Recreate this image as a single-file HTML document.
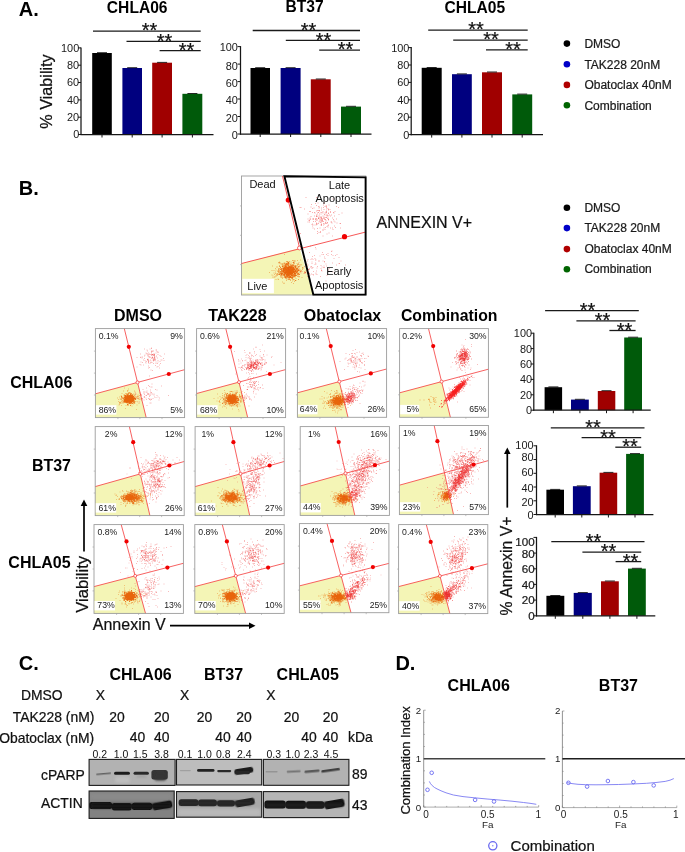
<!DOCTYPE html>
<html><head><meta charset="utf-8"><title>Figure</title>
<style>
html,body{margin:0;padding:0;background:#fff;}
body{width:685px;height:852px;overflow:hidden;font-family:"Liberation Sans",sans-serif;}
svg{display:block;will-change:transform;font-family:"Liberation Sans",sans-serif;}
</style></head><body>
<svg width="685" height="852" viewBox="0 0 685 852">
<rect x="0" y="0" width="685" height="852" fill="#fff"/>
<text x="18.8" y="15.8" font-size="20" font-weight="bold" fill="#000">A.</text>
<text x="137.2" y="13" font-size="15.6" font-weight="bold" text-anchor="middle" fill="#000">CHLA06</text>
<text x="304.6" y="12.2" font-size="15.6" font-weight="bold" text-anchor="middle" fill="#000">BT37</text>
<text x="474.8" y="13.4" font-size="15.6" font-weight="bold" text-anchor="middle" fill="#000">CHLA05</text>
<text x="52.2" y="91.5" font-size="16.2" text-anchor="middle" fill="#111" transform="rotate(-90 52.2 91.5)" stroke="#111" stroke-width="0.22">% Viability</text>
<rect x="92.2" y="53" width="19.6" height="81.5" fill="#000000"/>
<line x1="97" y1="52.7" x2="107" y2="52.7" stroke="#111" stroke-width="0.9"/>
<rect x="122.4" y="68" width="19.6" height="66.5" fill="#00007f"/>
<line x1="127.2" y1="67.7" x2="137.2" y2="67.7" stroke="#111" stroke-width="0.9"/>
<rect x="152.2" y="62.7" width="19.8" height="71.8" fill="#a00000"/>
<line x1="157.1" y1="62.4" x2="167.1" y2="62.4" stroke="#111" stroke-width="0.9"/>
<rect x="182.4" y="93.8" width="19.9" height="40.7" fill="#005a0a"/>
<line x1="187.4" y1="93.5" x2="197.4" y2="93.5" stroke="#111" stroke-width="0.9"/>
<line x1="81" y1="47.4" x2="81" y2="135.1" stroke="#161616" stroke-width="1.25"/>
<line x1="80.4" y1="134.5" x2="213.5" y2="134.5" stroke="#161616" stroke-width="1.25"/>
<line x1="78" y1="134.5" x2="81" y2="134.5" stroke="#161616" stroke-width="1"/>
<text x="79.2" y="138.4" font-size="10.9" text-anchor="end" fill="#1a1a1a">0</text>
<line x1="78" y1="117.2" x2="81" y2="117.2" stroke="#161616" stroke-width="1"/>
<text x="79.2" y="121.1" font-size="10.9" text-anchor="end" fill="#1a1a1a">20</text>
<line x1="78" y1="99.9" x2="81" y2="99.9" stroke="#161616" stroke-width="1"/>
<text x="79.2" y="103.8" font-size="10.9" text-anchor="end" fill="#1a1a1a">40</text>
<line x1="78" y1="82.5" x2="81" y2="82.5" stroke="#161616" stroke-width="1"/>
<text x="79.2" y="86.4" font-size="10.9" text-anchor="end" fill="#1a1a1a">60</text>
<line x1="78" y1="65.2" x2="81" y2="65.2" stroke="#161616" stroke-width="1"/>
<text x="79.2" y="69.1" font-size="10.9" text-anchor="end" fill="#1a1a1a">80</text>
<line x1="78" y1="47.9" x2="81" y2="47.9" stroke="#161616" stroke-width="1"/>
<text x="79.2" y="51.8" font-size="10.9" text-anchor="end" fill="#1a1a1a">100</text>
<line x1="102" y1="134.5" x2="102" y2="137.5" stroke="#161616" stroke-width="1"/>
<line x1="132.2" y1="134.5" x2="132.2" y2="137.5" stroke="#161616" stroke-width="1"/>
<line x1="162.1" y1="134.5" x2="162.1" y2="137.5" stroke="#161616" stroke-width="1"/>
<line x1="192.4" y1="134.5" x2="192.4" y2="137.5" stroke="#161616" stroke-width="1"/>
<line x1="93" y1="31.1" x2="200.7" y2="31.1" stroke="#1a1a1a" stroke-width="1.3"/>
<line x1="126.5" y1="41.4" x2="200.7" y2="41.4" stroke="#1a1a1a" stroke-width="1.3"/>
<line x1="159.6" y1="50.7" x2="200.7" y2="50.7" stroke="#1a1a1a" stroke-width="1.3"/>
<text x="149.5" y="37.3" font-size="20" text-anchor="middle" fill="#111" stroke="#111" stroke-width="0.22">**</text>
<text x="164.5" y="47.6" font-size="20" text-anchor="middle" fill="#111" stroke="#111" stroke-width="0.22">**</text>
<text x="186.5" y="56.9" font-size="20" text-anchor="middle" fill="#111" stroke="#111" stroke-width="0.22">**</text>
<rect x="250.5" y="68" width="19.5" height="66" fill="#000000"/>
<line x1="255.2" y1="67.7" x2="265.2" y2="67.7" stroke="#111" stroke-width="0.9"/>
<rect x="280.6" y="68" width="20" height="66" fill="#00007f"/>
<line x1="285.6" y1="67.7" x2="295.6" y2="67.7" stroke="#111" stroke-width="0.9"/>
<rect x="310.8" y="79.3" width="19.9" height="54.7" fill="#a00000"/>
<line x1="315.8" y1="79" x2="325.8" y2="79" stroke="#111" stroke-width="0.9"/>
<rect x="341" y="106.6" width="20" height="27.4" fill="#005a0a"/>
<line x1="346" y1="106.3" x2="356" y2="106.3" stroke="#111" stroke-width="0.9"/>
<line x1="240.5" y1="46.1" x2="240.5" y2="134.6" stroke="#161616" stroke-width="1.25"/>
<line x1="239.9" y1="134" x2="371.5" y2="134" stroke="#161616" stroke-width="1.25"/>
<line x1="237.5" y1="134" x2="240.5" y2="134" stroke="#161616" stroke-width="1"/>
<text x="237.8" y="138.7" font-size="10.9" text-anchor="end" fill="#1a1a1a">0</text>
<line x1="237.5" y1="116.5" x2="240.5" y2="116.5" stroke="#161616" stroke-width="1"/>
<text x="237.8" y="122.3" font-size="10.9" text-anchor="end" fill="#1a1a1a">20</text>
<line x1="237.5" y1="99" x2="240.5" y2="99" stroke="#161616" stroke-width="1"/>
<text x="237.8" y="104.4" font-size="10.9" text-anchor="end" fill="#1a1a1a">40</text>
<line x1="237.5" y1="81.6" x2="240.5" y2="81.6" stroke="#161616" stroke-width="1"/>
<text x="237.8" y="86.8" font-size="10.9" text-anchor="end" fill="#1a1a1a">60</text>
<line x1="237.5" y1="64.1" x2="240.5" y2="64.1" stroke="#161616" stroke-width="1"/>
<text x="237.8" y="70.1" font-size="10.9" text-anchor="end" fill="#1a1a1a">80</text>
<line x1="237.5" y1="46.6" x2="240.5" y2="46.6" stroke="#161616" stroke-width="1"/>
<text x="237.8" y="51.1" font-size="10.9" text-anchor="end" fill="#1a1a1a">100</text>
<line x1="260.2" y1="134" x2="260.2" y2="137" stroke="#161616" stroke-width="1"/>
<line x1="290.6" y1="134" x2="290.6" y2="137" stroke="#161616" stroke-width="1"/>
<line x1="320.8" y1="134" x2="320.8" y2="137" stroke="#161616" stroke-width="1"/>
<line x1="351" y1="134" x2="351" y2="137" stroke="#161616" stroke-width="1"/>
<line x1="252.7" y1="30.5" x2="360" y2="30.5" stroke="#1a1a1a" stroke-width="1.3"/>
<line x1="285.8" y1="40.4" x2="360" y2="40.4" stroke="#1a1a1a" stroke-width="1.3"/>
<line x1="319.2" y1="50.1" x2="360" y2="50.1" stroke="#1a1a1a" stroke-width="1.3"/>
<text x="308.5" y="36.7" font-size="20" text-anchor="middle" fill="#111" stroke="#111" stroke-width="0.22">**</text>
<text x="323.5" y="46.6" font-size="20" text-anchor="middle" fill="#111" stroke="#111" stroke-width="0.22">**</text>
<text x="345.5" y="56.3" font-size="20" text-anchor="middle" fill="#111" stroke="#111" stroke-width="0.22">**</text>
<rect x="421.7" y="67.8" width="20" height="66.8" fill="#000000"/>
<line x1="426.7" y1="67.5" x2="436.7" y2="67.5" stroke="#111" stroke-width="0.9"/>
<rect x="452" y="74.2" width="19.8" height="60.4" fill="#00007f"/>
<line x1="456.9" y1="73.9" x2="466.9" y2="73.9" stroke="#111" stroke-width="0.9"/>
<rect x="482" y="72.3" width="20" height="62.3" fill="#a00000"/>
<line x1="487" y1="72" x2="497" y2="72" stroke="#111" stroke-width="0.9"/>
<rect x="512.3" y="94.4" width="19.9" height="40.2" fill="#005a0a"/>
<line x1="517.2" y1="94.1" x2="527.2" y2="94.1" stroke="#111" stroke-width="0.9"/>
<line x1="411.2" y1="47.1" x2="411.2" y2="135.2" stroke="#161616" stroke-width="1.25"/>
<line x1="410.6" y1="134.6" x2="543" y2="134.6" stroke="#161616" stroke-width="1.25"/>
<line x1="408.2" y1="134.6" x2="411.2" y2="134.6" stroke="#161616" stroke-width="1"/>
<text x="409.4" y="138.5" font-size="10.9" text-anchor="end" fill="#1a1a1a">0</text>
<line x1="408.2" y1="117.2" x2="411.2" y2="117.2" stroke="#161616" stroke-width="1"/>
<text x="409.4" y="121.1" font-size="10.9" text-anchor="end" fill="#1a1a1a">20</text>
<line x1="408.2" y1="99.8" x2="411.2" y2="99.8" stroke="#161616" stroke-width="1"/>
<text x="409.4" y="103.7" font-size="10.9" text-anchor="end" fill="#1a1a1a">40</text>
<line x1="408.2" y1="82.4" x2="411.2" y2="82.4" stroke="#161616" stroke-width="1"/>
<text x="409.4" y="86.3" font-size="10.9" text-anchor="end" fill="#1a1a1a">60</text>
<line x1="408.2" y1="65" x2="411.2" y2="65" stroke="#161616" stroke-width="1"/>
<text x="409.4" y="68.9" font-size="10.9" text-anchor="end" fill="#1a1a1a">80</text>
<line x1="408.2" y1="47.6" x2="411.2" y2="47.6" stroke="#161616" stroke-width="1"/>
<text x="409.4" y="51.5" font-size="10.9" text-anchor="end" fill="#1a1a1a">100</text>
<line x1="431.7" y1="134.6" x2="431.7" y2="137.6" stroke="#161616" stroke-width="1"/>
<line x1="461.9" y1="134.6" x2="461.9" y2="137.6" stroke="#161616" stroke-width="1"/>
<line x1="492" y1="134.6" x2="492" y2="137.6" stroke="#161616" stroke-width="1"/>
<line x1="522.2" y1="134.6" x2="522.2" y2="137.6" stroke="#161616" stroke-width="1"/>
<line x1="428.2" y1="30.2" x2="527.7" y2="30.2" stroke="#1a1a1a" stroke-width="1.3"/>
<line x1="453.2" y1="40.1" x2="527.7" y2="40.1" stroke="#1a1a1a" stroke-width="1.3"/>
<line x1="486" y1="49.8" x2="527.7" y2="49.8" stroke="#1a1a1a" stroke-width="1.3"/>
<text x="476" y="36.4" font-size="20" text-anchor="middle" fill="#111" stroke="#111" stroke-width="0.22">**</text>
<text x="491" y="46.3" font-size="20" text-anchor="middle" fill="#111" stroke="#111" stroke-width="0.22">**</text>
<text x="513" y="56" font-size="20" text-anchor="middle" fill="#111" stroke="#111" stroke-width="0.22">**</text>
<circle cx="566.9" cy="43.6" r="3.3" fill="#000"/>
<text x="584.4" y="47.8" font-size="12" fill="#1a1a1a" stroke="#1a1a1a" stroke-width="0.22">DMSO</text>
<circle cx="566.9" cy="64.3" r="3.3" fill="#0000c8"/>
<text x="584.4" y="68.5" font-size="12" fill="#1a1a1a" stroke="#1a1a1a" stroke-width="0.22">TAK228 20nM</text>
<circle cx="566.9" cy="84.9" r="3.3" fill="#b00000"/>
<text x="584.4" y="89.1" font-size="12" fill="#1a1a1a" stroke="#1a1a1a" stroke-width="0.22">Obatoclax 40nM</text>
<circle cx="566.9" cy="105.3" r="3.3" fill="#006400"/>
<text x="584.4" y="109.5" font-size="12" fill="#1a1a1a" stroke="#1a1a1a" stroke-width="0.22">Combination</text>
<text x="18.8" y="194.7" font-size="20" font-weight="bold" fill="#000">B.</text>
<text x="376.5" y="227.7" font-size="16" fill="#111" stroke="#111" stroke-width="0.22">ANNEXIN V+</text>
<circle cx="566.9" cy="207.7" r="3.3" fill="#000"/>
<text x="584.4" y="211.9" font-size="12" fill="#1a1a1a" stroke="#1a1a1a" stroke-width="0.22">DMSO</text>
<circle cx="566.9" cy="228.1" r="3.3" fill="#0000c8"/>
<text x="584.4" y="232.3" font-size="12" fill="#1a1a1a" stroke="#1a1a1a" stroke-width="0.22">TAK228 20nM</text>
<circle cx="566.9" cy="249.1" r="3.3" fill="#b00000"/>
<text x="584.4" y="253.3" font-size="12" fill="#1a1a1a" stroke="#1a1a1a" stroke-width="0.22">Obatoclax 40nM</text>
<circle cx="566.9" cy="269.2" r="3.3" fill="#006400"/>
<text x="584.4" y="273.4" font-size="12" fill="#1a1a1a" stroke="#1a1a1a" stroke-width="0.22">Combination</text>
<text x="138" y="321.2" font-size="16" font-weight="bold" text-anchor="middle" fill="#000">DMSO</text>
<text x="237.4" y="321.2" font-size="16" font-weight="bold" text-anchor="middle" fill="#000">TAK228</text>
<text x="342.5" y="321.2" font-size="16" font-weight="bold" text-anchor="middle" fill="#000">Obatoclax</text>
<text x="449.2" y="321.2" font-size="15.8" font-weight="bold" text-anchor="middle" fill="#000">Combination</text>
<text x="72.4" y="387.7" font-size="16" font-weight="bold" text-anchor="end" fill="#000">CHLA06</text>
<text x="71" y="471.3" font-size="16" font-weight="bold" text-anchor="end" fill="#000">BT37</text>
<text x="70.6" y="567.8" font-size="16" font-weight="bold" text-anchor="end" fill="#000">CHLA05</text>
<rect x="95.4" y="328.6" width="89.2" height="89" fill="#fff"/>
<polygon points="95.4,393.8 137.5,382.4 146.2,417.6 95.4,417.6" fill="#f4f5b6"/>
<path transform="scale(.5)" d="M275 790h2M253 796h2M258 802h2M262 796h2M249 801h2M257 794h2M257 794h2M239 798h2M268 797h2M264 802h2M251 799h2M256 811h2M263 796h2M255 796h2M255 791h2M242 798h2M263 803h2M259 793h2M260 798h2M242 803h2M275 797h2M259 794h2M253 805h2M279 799h2M257 801h2M242 806h2M253 806h2M234 796h2M268 794h2M253 800h2M250 797h2M269 784h2M240 807h2M263 798h2M236 803h2M251 790h2M245 807h2M273 794h2M276 797h2M254 788h2M266 797h2M256 796h2M263 797h2M250 801h2M240 798h2M239 805h2M261 795h2M281 791h2M260 798h2M252 803h2M277 807h2M260 804h2M258 785h2M260 801h2M256 809h2M254 798h2M242 794h2M263 800h2M256 794h2M270 803h2M254 798h2M238 808h2M256 802h2M275 793h2M253 802h2M248 805h2M245 794h2M246 795h2M254 781h2M245 805h2M273 794h2M254 783h2M259 785h2M272 796h2M273 803h2M255 797h2M261 801h2M265 790h2M255 788h2M239 804h2M264 802h2M267 798h2M262 807h2M248 791h2M255 795h2M251 805h2M254 811h2M271 798h2M273 810h2M264 794h2M263 800h2M264 797h2M257 787h2M257 800h2M250 805h2M257 797h2M281 797h2M266 808h2M254 789h2M252 787h2M248 793h2M261 789h2M261 808h2M242 800h2M262 792h2M251 794h2M272 819h2M259 794h2M275 793h2M253 800h2M254 803h2M261 800h2M268 791h2M263 790h2M245 802h2M259 798h2M258 786h2M253 806h2M251 804h2M276 796h2M253 796h2M249 800h2M264 793h2M259 788h2M257 800h2M266 788h2M262 801h2M261 788h2M267 797h2M260 797h2M251 811h2M254 790h2M252 788h2M260 793h2M246 790h2M238 794h2M258 801h2M244 804h2M237 810h2M261 793h2M250 817h2M263 812h2M252 797h2M246 782h2M244 797h2M252 799h2M255 781h2M249 799h2M254 797h2M241 792h2M258 803h2M239 805h2M255 794h2M265 800h2M269 793h2M275 792h2M241 799h2M265 802h2M270 794h2M268 782h2M248 802h2M262 787h2M277 799h2M242 811h2M262 798h2M269 789h2M250 787h2M263 806h2M246 798h2M249 802h2M249 805h2M259 798h2M256 796h2M267 791h2M248 776h2M256 787h2M267 797h2M263 797h2M244 801h2M264 797h2M252 799h2M261 804h2M261 792h2M270 796h2M259 786h2M238 805h2M243 798h2M265 802h2M255 809h2M269 806h2M260 798h2M250 804h2M269 788h2M249 801h2M236 799h2M279 786h2M238 808h2M264 793h2M267 803h2M259 795h2M240 805h2M268 807h2M242 792h2M243 787h2M254 797h2M266 804h2M261 795h2M266 794h2M253 802h2M256 778h2" stroke="#ee8a2a" stroke-width="1.4" fill="none" opacity="0.65"/>
<path transform="scale(.5)" d="M254 794h2M250 793h2M259 799h2M254 796h2M252 798h2M256 801h2M250 797h2M257 799h2M254 800h2M256 801h2M254 804h2M262 804h2M257 799h2M260 797h2M260 807h2M253 800h2M260 800h2M259 794h2M259 801h2M255 795h2M255 796h2M261 793h2M268 796h2M253 798h2M260 793h2M256 795h2M261 798h2M260 793h2M263 794h2M243 795h2M254 793h2M252 800h2M257 794h2M254 801h2M254 801h2M261 794h2M267 798h2M243 796h2M256 794h2M259 797h2M257 797h2M256 801h2M251 802h2M253 794h2M261 797h2M263 800h2M258 802h2M253 789h2M258 803h2M256 797h2M260 804h2M258 796h2M254 795h2M258 798h2M252 802h2M262 798h2M263 790h2M252 800h2M260 792h2M252 794h2M263 794h2M262 791h2M256 793h2M262 794h2M255 796h2M254 798h2M255 797h2M257 793h2M256 797h2M258 802h2M254 801h2M261 798h2M263 800h2M255 801h2M250 803h2M261 804h2M263 797h2M257 797h2M251 803h2M259 804h2M265 804h2M248 790h2M260 797h2M256 786h2M253 801h2M260 798h2M251 798h2M259 798h2M264 803h2M258 797h2M253 802h2M249 800h2M251 799h2M248 800h2M265 798h2M256 794h2M252 801h2M251 801h2M252 797h2M256 801h2M251 801h2M266 793h2M254 797h2M253 796h2M259 795h2M265 799h2M264 795h2M255 796h2M259 799h2M258 799h2M260 799h2M259 806h2M253 796h2M251 799h2M258 794h2M251 800h2M264 802h2M258 802h2M252 796h2M256 797h2M255 803h2M257 798h2M262 801h2M250 794h2M248 803h2M259 802h2M257 800h2M258 795h2M260 797h2M256 799h2M261 799h2M253 798h2M258 797h2M253 799h2M252 803h2M260 791h2M260 793h2M248 792h2M252 796h2M259 792h2M263 800h2M254 798h2M256 797h2M250 796h2M270 799h2M260 799h2M262 799h2M261 795h2M262 800h2M260 793h2M256 802h2M261 787h2M258 796h2M264 794h2M254 801h2M255 793h2M261 805h2M264 792h2M258 805h2M254 800h2M257 798h2M255 800h2M267 806h2M262 801h2M264 790h2M259 802h2M255 799h2M263 792h2M266 801h2M260 794h2M257 799h2M263 799h2M256 796h2M261 800h2M254 794h2M253 799h2M260 796h2M259 797h2M267 805h2M256 798h2M258 794h2M252 798h2M248 795h2M248 798h2M260 799h2M252 798h2M263 798h2M265 796h2M256 800h2M266 802h2M259 796h2M263 798h2M256 798h2M262 803h2M253 802h2M261 795h2M255 798h2M257 793h2M261 795h2M258 798h2M257 800h2M261 801h2M261 797h2M250 793h2M260 799h2M261 797h2M254 800h2M259 799h2M251 801h2M265 800h2M256 801h2M257 796h2M263 802h2M257 796h2M260 798h2M252 805h2M255 799h2M250 794h2M256 803h2M263 802h2M259 802h2M262 799h2M252 799h2M253 797h2M255 795h2M260 804h2M259 797h2M257 796h2M261 796h2M257 805h2M257 801h2M264 797h2M254 798h2M258 800h2M265 801h2M258 792h2M261 801h2M254 797h2M267 796h2M246 797h2M252 801h2M252 804h2M265 799h2M259 800h2M256 795h2M251 800h2M259 801h2M258 793h2M254 796h2M250 801h2M252 792h2M258 797h2M259 800h2M258 792h2M257 797h2M249 798h2M258 801h2M252 793h2M258 802h2M260 799h2M254 802h2M252 802h2M262 799h2M259 800h2M254 792h2M242 793h2M257 794h2M261 797h2M263 801h2M254 792h2M254 797h2M255 793h2M262 792h2M252 803h2M257 798h2M253 804h2M259 802h2M250 795h2M259 791h2M255 805h2M256 797h2M260 794h2M263 800h2M249 798h2M262 796h2M260 797h2M256 799h2M264 798h2M258 801h2M264 797h2M254 797h2M253 800h2M264 799h2M268 802h2M261 797h2M262 798h2M255 794h2M251 803h2M256 793h2M265 799h2M248 795h2M255 799h2M248 801h2M258 792h2M262 797h2M251 792h2M255 803h2M264 796h2M257 792h2M251 795h2M251 803h2M247 803h2M261 803h2M254 795h2M263 797h2M262 804h2M254 795h2M255 797h2M261 795h2M258 794h2M259 802h2M249 800h2M262 800h2M253 800h2M246 802h2M254 803h2M260 798h2M268 797h2M256 794h2M251 802h2M268 796h2M258 793h2M256 797h2M252 798h2M252 801h2M265 802h2M256 795h2M255 795h2M255 797h2M265 794h2M254 798h2M261 800h2M259 798h2M259 792h2M253 794h2M261 803h2M265 794h2M257 801h2M253 800h2M251 797h2M258 794h2M256 799h2M257 795h2M257 797h2M250 798h2M261 795h2M259 797h2M257 797h2M259 794h2M262 797h2M258 796h2M253 791h2M263 797h2M255 797h2M254 796h2M250 791h2M257 801h2M252 800h2M255 800h2M260 799h2M258 793h2M262 798h2M259 795h2M255 806h2M256 796h2M255 800h2M261 792h2M258 794h2M255 796h2M262 801h2M258 800h2M255 799h2M250 791h2M260 802h2M259 795h2M258 804h2M255 805h2M253 801h2M256 802h2M259 793h2M257 807h2M257 799h2M255 802h2M259 795h2M259 798h2M254 794h2M261 797h2M261 798h2M261 799h2M257 803h2M256 800h2M252 799h2M261 798h2M247 805h2M255 796h2M256 802h2M262 791h2M257 795h2M253 799h2M250 797h2M254 809h2M258 807h2M258 793h2M256 794h2M254 797h2M256 804h2M262 802h2M252 799h2M258 793h2M265 795h2M260 788h2M255 792h2M261 800h2M254 801h2M257 793h2M265 798h2M267 804h2M249 799h2M261 797h2M267 800h2M255 800h2M259 798h2M265 796h2M255 796h2M260 798h2M257 796h2M248 803h2M259 801h2M256 802h2M262 805h2M268 804h2M261 803h2M256 799h2M260 797h2M258 806h2M263 796h2M250 796h2M252 795h2M247 799h2M260 800h2M257 802h2M254 797h2M254 792h2M255 799h2M253 802h2M256 798h2M255 798h2M264 800h2M259 803h2M253 798h2M254 793h2M263 796h2M260 797h2M259 792h2M261 801h2M265 795h2M251 800h2M254 799h2M249 797h2M260 804h2M256 796h2M254 796h2M254 799h2M261 801h2M257 798h2M255 794h2M264 800h2M252 800h2M251 805h2M270 797h2M256 799h2M255 796h2M254 793h2M257 798h2M261 801h2M261 794h2M260 796h2M256 794h2M250 803h2M259 796h2M265 800h2M263 795h2M257 798h2M261 796h2M255 790h2M257 798h2M251 800h2M256 790h2M258 797h2M257 796h2M261 794h2M267 797h2M264 791h2M256 799h2M254 802h2M254 793h2M253 798h2M258 803h2M260 798h2M258 796h2M258 795h2M258 799h2M257 798h2M254 800h2M266 793h2M263 802h2M253 797h2M253 800h2M254 795h2M258 793h2M264 796h2M262 795h2M263 797h2M263 800h2M263 802h2M261 799h2M260 796h2M257 796h2M249 800h2M257 802h2M266 797h2M255 798h2M254 795h2M262 799h2M258 801h2M255 788h2M265 799h2M261 796h2M261 790h2M255 799h2M260 798h2M259 799h2M261 793h2M263 806h2M263 798h2M258 797h2M261 803h2M252 800h2M261 801h2M261 802h2M255 791h2M254 804h2M257 797h2M251 799h2M259 801h2M259 795h2M253 799h2M258 801h2M263 798h2M263 800h2M262 792h2M257 794h2M256 794h2M255 799h2M260 811h2M269 799h2M264 797h2M265 798h2M264 802h2M249 801h2M256 794h2M255 802h2M264 798h2M266 801h2M254 791h2M258 792h2M260 800h2M255 792h2M254 799h2M254 799h2M262 799h2M253 799h2M263 799h2M258 800h2M261 797h2M265 798h2M254 809h2M253 802h2M260 800h2M252 799h2M254 795h2M257 799h2M258 797h2M251 801h2M255 795h2M260 789h2M264 796h2M248 801h2M264 807h2M262 802h2" stroke="#e8650c" stroke-width="1.6" fill="none" opacity="0.95"/>
<path transform="scale(.5)" d="M293 707h2M302 716h2M293 708h2M302 704h2M294 720h2M286 730h2M309 720h2M306 718h2M302 706h2M308 716h2M327 721h2M305 710h2M300 726h2M314 716h2M286 720h2M312 712h2M295 712h2M295 719h2M305 720h2M323 720h2M296 706h2M315 709h2M308 716h2M288 698h2M314 727h2M295 720h2M288 717h2M295 709h2M296 725h2M311 714h2M296 736h2M321 720h2M306 702h2M296 724h2M295 711h2M307 711h2M281 714h2M280 715h2M294 719h2M311 724h2M306 721h2M304 709h2M302 703h2M280 708h2M300 720h2M284 725h2M313 734h2M304 703h2M303 717h2M308 714h2M308 712h2M307 718h2M308 714h2M297 714h2M289 710h2M308 720h2M320 727h2M315 733h2M302 711h2M311 706h2M299 714h2M308 708h2M297 727h2M306 708h2M326 717h2M313 703h2M321 713h2M295 718h2M296 732h2M304 709h2M310 720h2M302 696h2M315 704h2M298 708h2M319 711h2M315 721h2M292 723h2M311 700h2M301 722h2M315 705h2M298 735h2M307 720h2M310 718h2M273 715h2M283 716h2M305 716h2M303 709h2M315 724h2M307 719h2M290 724h2M308 716h2M296 723h2M301 709h2M298 752h2M308 709h2M288 712h2M291 726h2M279 729h2M328 708h2M293 700h2M294 702h2M291 706h2M297 709h2M299 715h2M311 727h2M306 727h2M308 710h2M297 722h2M303 725h2M318 730h2M304 715h2M307 709h2M281 724h2M310 731h2M307 711h2M318 736h2M273 734h2M304 714h2M303 701h2M305 710h2M297 713h2M306 722h2M312 700h2M304 741h2M301 740h2M301 709h2M299 698h2M304 715h2M296 721h2M281 730h2M319 723h2M284 714h2M302 697h2M289 721h2M301 725h2" stroke="#ee3030" stroke-width="1.3" fill="none" opacity="0.5"/>
<path transform="scale(.5)" d="M295 789h2M300 784h2M301 786h2M295 787h2M292 799h2M304 788h2M282 790h2M313 780h2M288 789h2M300 780h2M292 791h2M308 794h2M299 791h2M311 795h2M301 806h2M284 798h2M293 785h2M291 784h2M287 800h2M298 799h2M293 811h2M292 776h2M301 798h2M305 797h2M336 791h2M301 788h2M302 785h2M296 771h2M293 782h2M287 783h2M301 774h2M303 774h2M264 794h2M297 788h2M298 793h2M298 798h2M310 779h2M300 800h2M313 791h2M285 779h2M294 788h2M298 773h2M287 785h2M299 790h2M288 794h2M299 806h2M317 800h2M307 788h2M288 794h2M287 794h2M322 772h2M296 797h2M287 787h2M307 790h2M291 791h2M302 799h2M315 794h2M318 796h2M296 788h2M303 768h2" stroke="#ee3030" stroke-width="1.3" fill="none" opacity="0.5"/>
<path transform="scale(.5)" d="M270 786h2M278 804h2M271 788h2M270 790h2M278 796h2M274 797h2M284 797h2M291 796h2M278 791h2M282 800h2M270 797h2M281 789h2M275 804h2M273 794h2" stroke="#ee3030" stroke-width="1.3" fill="none" opacity="0.5"/>
<line x1="124.3" y1="328.6" x2="146.2" y2="417.6" stroke="#f54545" stroke-width="0.85"/>
<line x1="95.4" y1="393.8" x2="184.6" y2="369.7" stroke="#f54545" stroke-width="0.85"/>
<circle cx="128.8" cy="346.8" r="2.1" fill="#f00000"/>
<circle cx="168.8" cy="374" r="2.1" fill="#f00000"/>
<circle cx="137.5" cy="382.4" r="1.5" fill="#fff" stroke="#f54545" stroke-width="0.8"/>
<line x1="93.9" y1="351.1" x2="95.4" y2="351.1" stroke="#aaa" stroke-width="0.7"/>
<line x1="117.9" y1="417.6" x2="117.9" y2="419.1" stroke="#aaa" stroke-width="0.7"/>
<line x1="93.9" y1="373.1" x2="95.4" y2="373.1" stroke="#aaa" stroke-width="0.7"/>
<line x1="139.9" y1="417.6" x2="139.9" y2="419.1" stroke="#aaa" stroke-width="0.7"/>
<line x1="93.9" y1="395" x2="95.4" y2="395" stroke="#aaa" stroke-width="0.7"/>
<line x1="162" y1="417.6" x2="162" y2="419.1" stroke="#aaa" stroke-width="0.7"/>
<rect x="95.4" y="328.6" width="89.2" height="89" fill="none" stroke="#9c9c9c" stroke-width="0.9"/>
<text x="98.7" y="338.6" font-size="8.7" fill="#222">0.1%</text>
<text x="182.8" y="338.6" font-size="8.7" text-anchor="end" fill="#222">9%</text>
<rect x="96" y="405.2" width="20.4" height="9.4" fill="#fff"/>
<text x="98.7" y="412.5" font-size="8.7" fill="#222">86%</text>
<text x="182.8" y="412.5" font-size="8.7" text-anchor="end" fill="#222">5%</text>
<rect x="196.6" y="328.6" width="89" height="89" fill="#fff"/>
<polygon points="196.6,393.5 239,382.1 247.7,417.6 196.6,417.6" fill="#f4f5b6"/>
<path transform="scale(.5)" d="M473 808h2M445 796h2M449 799h2M456 796h2M454 801h2M474 814h2M444 791h2M464 789h2M451 806h2M468 799h2M465 783h2M456 790h2M488 792h2M462 794h2M475 802h2M447 807h2M461 798h2M463 800h2M464 793h2M458 808h2M453 810h2M427 797h2M456 793h2M452 816h2M459 807h2M472 792h2M488 785h2M469 797h2M474 809h2M470 794h2M471 797h2M469 795h2M459 805h2M459 811h2M466 789h2M483 797h2M472 797h2M481 794h2M448 789h2M466 806h2M467 800h2M469 805h2M447 812h2M441 796h2M438 804h2M458 796h2M490 798h2M465 802h2M449 798h2M467 786h2M459 812h2M465 800h2M457 790h2M448 781h2M457 799h2M471 805h2M466 808h2M477 809h2M450 796h2M475 805h2M464 786h2M465 800h2M477 807h2M461 794h2M466 798h2M470 800h2M470 800h2M472 812h2M478 790h2M469 810h2M458 789h2M491 794h2M463 793h2M468 798h2M454 795h2M438 803h2M454 799h2M464 818h2M469 802h2M464 797h2M472 802h2M475 804h2M475 798h2M463 790h2M464 792h2M461 801h2M453 806h2M480 803h2M449 798h2M462 804h2M466 795h2M438 801h2M472 811h2M459 809h2M466 811h2M459 796h2M445 801h2M466 791h2M465 807h2M475 796h2M469 788h2M444 795h2M476 801h2M473 781h2M472 787h2M469 807h2M455 800h2M469 799h2M459 786h2M497 812h2M461 808h2M450 805h2M459 790h2M480 804h2M457 809h2M435 796h2M480 797h2M467 795h2M458 804h2M472 797h2M453 796h2M450 787h2M474 785h2M457 807h2M469 812h2M463 806h2M473 811h2M465 795h2M440 799h2M471 802h2M458 798h2M474 813h2M465 788h2M480 794h2M460 796h2M439 793h2M460 806h2M469 782h2M459 809h2M458 807h2M480 802h2M462 811h2M476 819h2M465 801h2M447 805h2M452 802h2M460 803h2M467 795h2M454 793h2M447 804h2M451 795h2M457 807h2M453 806h2M456 795h2M485 802h2M467 800h2M454 798h2M463 809h2M482 800h2M471 801h2M462 783h2M448 804h2M444 787h2M459 796h2M462 813h2M444 814h2M448 796h2M463 789h2M437 803h2M443 796h2M463 802h2M470 788h2M467 809h2M475 812h2M482 787h2M474 793h2M460 793h2M488 805h2M483 783h2M474 801h2M454 797h2M468 793h2M439 805h2M459 783h2M434 788h2M458 793h2M475 805h2M464 796h2M482 792h2M463 803h2M465 795h2M460 794h2M470 797h2M463 802h2M477 822h2M482 790h2M468 802h2M450 798h2M470 797h2M479 812h2M471 806h2M467 805h2M474 796h2M479 792h2M433 802h2M481 797h2M472 795h2M469 805h2M457 789h2M466 793h2M471 806h2M446 799h2M472 805h2M464 792h2M481 805h2M471 794h2M461 811h2M464 806h2M471 803h2M465 812h2M470 802h2M455 794h2M449 813h2M457 802h2M447 810h2M454 801h2M468 809h2M445 792h2M449 789h2M472 788h2M457 806h2M463 783h2M449 785h2M451 788h2M460 802h2M482 803h2M469 793h2M444 806h2M469 802h2M474 810h2M472 808h2M449 794h2M463 801h2M488 798h2M453 804h2M467 801h2M455 800h2M449 806h2M458 800h2M475 806h2M477 800h2M453 798h2M458 807h2M453 808h2M439 810h2M471 805h2M482 798h2M481 801h2M458 801h2M479 785h2" stroke="#ee8a2a" stroke-width="1.4" fill="none" opacity="0.65"/>
<path transform="scale(.5)" d="M457 801h2M473 797h2M464 801h2M447 804h2M463 791h2M465 797h2M457 799h2M478 790h2M471 785h2M469 800h2M463 796h2M467 802h2M469 798h2M467 798h2M460 797h2M465 799h2M465 794h2M466 796h2M458 802h2M466 797h2M464 801h2M466 798h2M465 797h2M456 794h2M469 802h2M469 795h2M456 800h2M464 792h2M459 800h2M461 800h2M470 796h2M467 791h2M476 798h2M465 799h2M457 796h2M465 795h2M449 802h2M475 798h2M466 797h2M467 802h2M465 798h2M459 795h2M463 802h2M459 797h2M461 802h2M466 795h2M457 800h2M474 804h2M457 800h2M469 801h2M460 800h2M456 802h2M466 799h2M465 800h2M462 797h2M463 807h2M460 795h2M466 802h2M461 794h2M464 801h2M470 804h2M456 794h2M460 806h2M459 794h2M459 795h2M455 800h2M462 794h2M464 803h2M463 800h2M454 787h2M467 792h2M468 795h2M464 800h2M457 794h2M458 795h2M475 801h2M474 794h2M466 800h2M458 792h2M471 803h2M464 805h2M473 793h2M460 788h2M466 791h2M462 802h2M468 796h2M459 803h2M469 792h2M461 794h2M458 798h2M467 803h2M465 797h2M451 794h2M463 800h2M464 799h2M464 800h2M475 798h2M459 796h2M463 798h2M453 788h2M455 799h2M460 804h2M462 801h2M462 794h2M467 792h2M468 804h2M469 796h2M462 797h2M466 799h2M459 796h2M465 798h2M466 805h2M460 796h2M444 807h2M459 800h2M479 800h2M463 802h2M459 802h2M464 803h2M470 801h2M465 796h2M462 805h2M456 798h2M461 795h2M456 802h2M465 801h2M472 798h2M469 799h2M460 801h2M457 807h2M455 798h2M466 793h2M467 796h2M468 801h2M465 797h2M456 795h2M452 801h2M470 801h2M458 797h2M475 800h2M451 796h2M457 796h2M458 797h2M465 792h2M467 800h2M460 798h2M467 796h2M455 799h2M460 799h2M456 795h2M460 796h2M459 795h2M465 804h2M484 791h2M455 798h2M462 802h2M467 793h2M463 794h2M472 794h2M457 790h2M468 803h2M458 797h2M468 793h2M464 795h2M465 799h2M460 796h2M452 794h2M456 800h2M467 794h2M461 796h2M467 799h2M455 795h2M467 798h2M469 795h2M450 809h2M465 796h2M475 801h2M459 794h2M469 793h2M463 797h2M468 796h2M461 796h2M458 798h2M461 801h2M461 806h2M460 806h2M458 798h2M470 806h2M460 805h2M456 795h2M457 795h2M466 797h2M450 806h2M466 797h2M467 796h2M471 804h2M460 797h2M458 797h2M464 800h2M464 798h2M471 787h2M463 792h2M461 801h2M455 791h2M462 803h2M464 797h2M470 799h2M464 799h2M471 790h2M471 794h2M459 793h2M456 798h2M459 804h2M462 796h2M458 798h2M467 789h2M467 796h2M470 796h2M465 797h2M461 800h2M466 804h2M458 797h2M464 799h2M459 791h2M470 800h2M447 798h2M468 790h2M468 799h2M463 795h2M465 802h2M464 799h2M471 798h2M473 805h2M463 797h2M473 796h2M459 798h2M466 798h2M466 794h2M456 800h2M465 799h2M459 795h2M468 791h2M458 803h2M453 803h2M455 802h2M463 802h2M465 806h2M465 799h2M459 805h2M468 797h2M460 794h2M462 798h2M469 797h2M462 800h2M452 806h2M467 800h2M463 803h2M461 807h2M471 806h2M459 798h2M467 795h2M464 807h2M479 793h2M452 790h2M464 789h2M465 803h2M470 792h2M461 797h2M459 798h2M472 804h2M461 792h2M465 798h2M463 799h2M465 804h2M455 797h2M460 799h2M463 797h2M464 803h2M470 802h2M466 796h2M467 801h2M463 792h2M471 798h2M460 794h2M463 796h2M454 803h2M457 808h2M468 799h2M463 798h2M452 797h2M463 801h2M462 797h2M456 803h2M465 805h2M462 801h2M463 797h2M469 802h2M459 795h2M470 791h2M462 803h2M462 807h2M471 804h2M465 797h2M461 783h2M462 795h2M464 801h2M454 796h2M467 804h2M463 795h2M455 800h2M457 799h2M468 799h2M456 792h2M476 798h2M457 799h2M464 796h2M448 792h2M463 796h2M460 794h2M466 800h2M464 802h2M461 800h2M476 800h2M468 797h2M459 799h2M465 790h2M446 798h2M460 802h2M470 796h2M460 801h2M464 791h2M456 798h2M468 797h2M464 800h2M463 799h2M469 808h2M473 784h2M468 792h2M453 795h2M465 798h2M465 795h2M456 795h2M453 791h2M460 792h2M461 794h2M462 805h2M458 794h2M464 810h2M465 803h2M461 797h2M465 802h2M459 803h2M453 793h2M463 791h2M468 805h2M479 794h2M450 802h2M460 801h2M458 791h2M464 801h2M458 801h2M464 804h2M469 798h2M458 800h2M462 800h2M473 797h2M468 805h2M453 802h2M475 805h2M459 800h2M465 803h2M460 794h2M460 795h2M459 803h2M467 797h2M458 796h2M455 799h2M459 791h2M463 799h2M451 800h2M468 797h2M459 793h2M467 806h2M471 800h2M465 794h2M466 795h2M460 791h2M459 790h2M452 790h2M462 794h2M460 800h2M449 801h2M465 798h2M472 803h2M465 801h2M470 793h2M461 794h2M457 799h2M463 801h2M461 803h2M456 792h2M469 789h2M464 807h2M459 797h2M464 803h2M462 798h2M467 792h2M473 804h2M459 800h2M456 805h2M471 801h2M477 794h2M459 798h2M458 803h2M456 795h2M463 799h2M464 803h2M461 793h2M468 797h2M458 799h2M459 802h2M455 798h2M471 795h2M469 801h2M471 796h2M458 800h2M471 800h2M465 797h2M467 802h2M467 803h2M461 792h2M462 801h2M454 798h2M460 797h2M462 799h2M456 803h2M464 798h2M471 797h2M460 793h2M457 798h2M458 798h2M464 794h2M474 797h2M464 800h2M463 804h2M456 797h2M465 807h2M467 803h2M461 802h2M463 801h2M459 799h2M467 796h2M471 798h2M465 799h2M466 799h2M463 805h2M459 807h2M458 801h2M461 803h2M464 795h2M463 790h2M469 798h2M468 800h2M472 805h2M468 809h2M462 800h2M464 804h2M453 803h2M473 800h2M460 802h2M461 800h2M474 805h2M457 794h2M459 788h2M463 799h2M460 803h2M464 803h2M465 796h2M467 801h2M462 796h2" stroke="#e8650c" stroke-width="1.6" fill="none" opacity="0.92"/>
<path transform="scale(.5)" d="M514 730h2M502 743h2M496 736h2M516 726h2M498 748h2M492 737h2M514 725h2M509 735h2M482 735h2M518 725h2M496 740h2M501 730h2M503 724h2M528 728h2M508 735h2M514 722h2M505 730h2M514 734h2M493 737h2M508 735h2M500 733h2M495 731h2M509 727h2M517 726h2M512 730h2M499 720h2M511 720h2M495 735h2M511 733h2M511 726h2M506 731h2M503 727h2M506 724h2M501 734h2M504 732h2M514 726h2M485 731h2M520 727h2M511 729h2M509 729h2M496 734h2M502 731h2M501 736h2M514 731h2M516 737h2M521 734h2M507 731h2M484 732h2M498 737h2M502 730h2M512 737h2M489 729h2M504 730h2M509 738h2M500 733h2M506 735h2M531 727h2M506 729h2M528 728h2M508 726h2M499 732h2M515 739h2M502 732h2M506 733h2M482 734h2M512 736h2M499 729h2M517 724h2M506 728h2M501 728h2M493 728h2M506 730h2M502 730h2M498 733h2M524 720h2M503 727h2M515 727h2M521 726h2M509 725h2M512 729h2M511 728h2M517 733h2M513 732h2M512 732h2M509 735h2M500 730h2M504 739h2M500 734h2M507 728h2M520 729h2M495 729h2M503 741h2M496 735h2M503 724h2M515 722h2M502 730h2M508 727h2M483 741h2M506 736h2M512 734h2M501 736h2M488 732h2M512 735h2M507 737h2M522 716h2M499 730h2M504 730h2M501 729h2M509 736h2M488 739h2M520 727h2M511 723h2M501 722h2M501 728h2M510 725h2M508 726h2M499 723h2M502 724h2M509 728h2M502 734h2M502 730h2M501 731h2M502 732h2M493 735h2M498 740h2M509 726h2M514 729h2M503 725h2M471 748h2M492 739h2M512 734h2M523 726h2M518 726h2M502 726h2M503 734h2M504 739h2M519 712h2M511 738h2M495 730h2M516 730h2M513 724h2M485 737h2M501 737h2M516 727h2M518 736h2M494 735h2M507 734h2M514 725h2M509 727h2M495 733h2M505 734h2M515 736h2M511 729h2M494 728h2M529 720h2M506 724h2M492 738h2M503 732h2M477 735h2M499 732h2M507 735h2M531 725h2M507 728h2M511 733h2M515 730h2M508 728h2M500 734h2M523 735h2M510 724h2M523 731h2M516 727h2M498 737h2M502 734h2M503 734h2M502 731h2M511 729h2M506 735h2M499 736h2M519 719h2M521 729h2M509 737h2M497 738h2M500 734h2M496 725h2M498 737h2M498 737h2M511 737h2M508 725h2M510 728h2M496 731h2" stroke="#ee3030" stroke-width="1.3" fill="none" opacity="0.6"/>
<path transform="scale(.5)" d="M500 741h2M477 728h2M497 727h2M497 715h2M498 705h2M529 729h2M494 725h2M497 730h2M521 740h2M495 738h2M523 716h2M511 730h2M494 731h2M493 724h2M506 698h2M501 717h2M505 726h2M495 737h2M513 723h2M493 709h2M496 745h2M501 726h2M484 721h2M499 734h2M501 736h2M481 726h2M476 719h2M523 719h2M500 737h2M501 725h2M494 733h2M528 702h2M500 720h2M476 722h2M511 721h2M488 701h2M510 721h2M502 747h2M524 731h2M511 720h2M498 717h2M526 709h2M547 730h2M495 716h2M521 721h2M510 738h2M511 739h2M484 735h2M489 705h2M526 719h2M506 742h2M496 711h2M532 743h2M523 726h2M516 739h2M489 721h2M504 711h2M527 713h2M472 745h2M479 722h2M491 711h2M519 737h2M508 706h2M511 724h2M507 731h2M506 730h2M523 732h2M561 725h2M511 694h2M525 730h2M497 726h2M529 724h2M506 733h2M507 736h2M497 729h2M492 746h2M496 755h2M489 730h2M484 722h2M533 710h2M511 734h2M520 703h2M512 748h2M482 739h2M505 720h2M490 735h2M491 715h2M502 712h2M507 736h2M506 713h2M506 730h2M500 725h2M505 747h2M524 730h2M539 747h2M522 738h2M501 716h2M510 711h2M519 699h2M520 727h2M524 690h2M524 716h2M511 695h2M500 718h2M480 736h2M521 715h2M514 719h2M491 720h2M504 730h2M498 707h2M497 728h2M532 725h2M498 713h2M543 713h2M502 742h2M493 736h2M506 732h2M542 715h2M502 722h2M512 709h2M468 703h2M513 720h2M482 718h2M502 710h2M526 710h2M500 731h2M515 720h2M500 706h2M499 753h2M508 703h2" stroke="#ee3030" stroke-width="1.3" fill="none" opacity="0.45"/>
<path transform="scale(.5)" d="M500 762h2M492 767h2M512 771h2M495 757h2M508 763h2M509 776h2M495 767h2M512 763h2M505 771h2M509 777h2M498 764h2M502 775h2M508 770h2M516 764h2M506 755h2M510 773h2M505 763h2M509 767h2M498 769h2M525 777h2M508 771h2M508 794h2M506 765h2M499 774h2M516 780h2M508 766h2M507 776h2M514 778h2M511 763h2M495 774h2M494 779h2M511 779h2M507 776h2M524 770h2M510 765h2M506 766h2M499 765h2M494 779h2M495 774h2M504 772h2M502 765h2M500 769h2M505 769h2M515 775h2M500 773h2M500 770h2M506 783h2M520 775h2M493 779h2M508 767h2M500 757h2M486 771h2M503 774h2M519 776h2M511 788h2M507 780h2M503 769h2M516 769h2M501 760h2M502 774h2" stroke="#ee3030" stroke-width="1.3" fill="none" opacity="0.55"/>
<path transform="scale(.5)" d="M482 794h2M489 794h2M498 794h2M502 800h2M491 790h2M492 788h2M479 795h2M485 794h2M499 798h2M496 794h2M494 792h2M492 797h2M499 798h2M488 801h2M488 796h2M506 786h2M484 795h2M492 796h2M487 795h2M498 798h2" stroke="#ee3030" stroke-width="1.3" fill="none" opacity="0.5"/>
<line x1="225.8" y1="328.6" x2="247.7" y2="417.6" stroke="#f54545" stroke-width="0.85"/>
<line x1="196.6" y1="393.5" x2="285.6" y2="369.6" stroke="#f54545" stroke-width="0.85"/>
<circle cx="230.1" cy="346.8" r="2.1" fill="#f00000"/>
<circle cx="269.9" cy="374" r="2.1" fill="#f00000"/>
<circle cx="239" cy="382.1" r="1.5" fill="#fff" stroke="#f54545" stroke-width="0.8"/>
<line x1="195.1" y1="351.1" x2="196.6" y2="351.1" stroke="#aaa" stroke-width="0.7"/>
<line x1="219.1" y1="417.6" x2="219.1" y2="419.1" stroke="#aaa" stroke-width="0.7"/>
<line x1="195.1" y1="373.1" x2="196.6" y2="373.1" stroke="#aaa" stroke-width="0.7"/>
<line x1="241.1" y1="417.6" x2="241.1" y2="419.1" stroke="#aaa" stroke-width="0.7"/>
<line x1="195.1" y1="395" x2="196.6" y2="395" stroke="#aaa" stroke-width="0.7"/>
<line x1="263" y1="417.6" x2="263" y2="419.1" stroke="#aaa" stroke-width="0.7"/>
<rect x="196.6" y="328.6" width="89" height="89" fill="none" stroke="#9c9c9c" stroke-width="0.9"/>
<text x="199.9" y="338.6" font-size="8.7" fill="#222">0.6%</text>
<text x="283.8" y="338.6" font-size="8.7" text-anchor="end" fill="#222">21%</text>
<rect x="197.2" y="405.2" width="20.4" height="9.4" fill="#fff"/>
<text x="199.9" y="412.5" font-size="8.7" fill="#222">68%</text>
<text x="283.8" y="412.5" font-size="8.7" text-anchor="end" fill="#222">10%</text>
<rect x="297.4" y="328.6" width="89.2" height="88.7" fill="#fff"/>
<polygon points="297.4,392.8 339.3,381.6 348,417.3 297.4,417.3" fill="#f4f5b6"/>
<path transform="scale(.5)" d="M669 820h2M684 793h2M669 810h2M687 798h2M660 799h2M646 816h2M661 801h2M703 808h2M669 803h2M671 795h2M675 800h2M667 798h2M675 800h2M673 817h2M695 806h2M685 788h2M675 817h2M680 805h2M679 809h2M660 814h2M684 795h2M665 805h2M681 801h2M674 799h2M682 800h2M688 803h2M679 811h2M667 808h2M669 804h2M678 812h2M668 783h2M668 802h2M671 805h2M668 805h2M678 813h2M667 803h2M673 813h2M664 801h2M653 808h2M681 803h2M683 800h2M667 806h2M681 807h2M676 795h2M660 810h2M685 800h2M650 803h2M672 781h2M680 802h2M660 787h2M690 809h2M666 796h2M686 799h2M670 801h2M680 791h2M672 802h2M699 792h2M677 800h2M684 809h2M680 812h2M675 814h2M670 800h2M677 794h2M684 806h2M683 815h2M679 795h2M671 813h2M681 801h2M662 781h2M673 803h2M650 817h2M665 808h2M671 811h2M657 805h2M660 789h2M683 783h2M679 794h2M685 799h2M686 794h2M680 796h2M682 808h2M676 814h2M687 788h2M656 794h2M671 801h2M685 800h2M682 783h2M674 826h2M670 808h2M682 805h2M671 787h2M661 804h2M686 793h2M669 806h2M675 804h2M655 802h2M645 806h2M678 797h2M691 803h2M648 783h2M668 808h2M679 801h2M675 822h2M674 803h2M673 783h2M663 814h2M685 796h2M684 793h2M677 802h2M648 812h2M692 818h2M673 799h2M679 804h2M694 804h2M688 797h2M672 798h2M685 801h2M680 802h2M667 811h2M675 786h2M654 806h2M656 805h2M675 813h2M689 799h2M662 799h2M686 803h2M675 797h2M693 797h2M669 797h2M706 797h2M678 794h2M671 797h2M676 796h2M653 796h2M677 791h2M670 810h2M679 804h2M670 801h2M643 793h2M645 807h2M666 800h2M659 801h2M683 803h2M661 801h2M678 810h2M671 796h2M690 797h2M674 803h2M675 800h2M662 806h2M677 809h2M680 813h2M672 810h2M681 800h2M662 801h2M671 799h2M678 811h2M670 800h2M687 795h2M680 794h2M666 808h2M663 795h2M673 781h2M665 808h2M669 805h2M661 808h2M682 810h2M675 806h2M676 805h2M682 802h2M648 796h2M673 785h2M670 786h2M681 805h2M679 808h2M679 802h2M687 796h2M652 807h2M661 802h2M686 802h2M689 799h2M664 793h2M685 794h2M683 805h2M658 815h2M666 816h2M677 801h2M672 806h2M693 801h2M680 803h2M683 805h2M666 809h2M660 793h2M666 816h2M689 801h2M693 794h2M664 821h2M672 795h2M646 802h2M687 796h2M659 812h2M683 781h2M687 805h2M658 789h2M663 815h2M681 819h2M688 809h2M667 796h2M662 811h2M677 820h2M687 804h2M661 799h2M664 814h2M686 791h2M675 800h2M664 802h2M673 803h2M678 811h2M684 801h2M676 793h2M673 791h2M654 801h2M679 806h2M679 810h2M675 807h2M673 791h2M674 807h2M684 797h2M669 813h2M660 800h2M683 800h2M669 798h2M670 810h2M678 801h2M670 824h2M672 811h2M661 793h2M687 802h2M658 810h2M687 808h2M659 807h2M665 804h2M668 790h2M683 790h2M675 809h2M668 797h2M659 802h2M684 807h2M673 787h2M678 787h2M671 806h2M667 797h2M680 799h2M676 811h2M685 800h2M675 802h2M657 804h2M681 788h2M673 816h2M670 805h2M639 798h2M663 811h2M675 795h2M666 797h2M676 792h2M680 800h2M673 796h2M663 804h2M678 797h2M677 804h2M670 806h2M652 805h2M659 805h2M682 803h2M670 795h2M653 786h2M671 805h2M673 791h2M680 805h2M678 802h2M677 802h2M664 802h2M654 807h2M666 794h2M688 805h2M656 811h2M683 808h2M656 811h2M658 800h2M674 801h2M664 817h2M670 806h2M660 804h2M674 810h2M682 795h2M657 801h2M679 806h2M677 802h2M681 814h2M648 806h2M683 809h2M660 795h2M670 802h2M668 802h2M661 806h2M663 806h2M665 802h2M674 807h2M681 819h2M669 802h2M681 797h2M674 812h2M685 814h2M658 804h2M674 810h2M672 786h2M674 806h2M676 801h2M681 820h2M674 804h2M678 817h2M669 801h2M671 800h2M666 798h2M684 793h2M681 798h2M687 811h2M667 790h2M671 803h2M700 811h2M684 804h2M657 806h2M681 805h2M676 806h2M669 787h2M669 814h2M663 805h2M667 798h2M664 800h2M660 801h2M668 808h2M663 793h2M680 792h2M684 792h2M671 809h2M669 795h2M679 803h2M671 793h2M695 802h2M643 798h2M647 796h2M660 811h2M678 803h2M681 795h2M667 821h2M673 795h2M669 793h2M678 789h2M695 815h2M648 804h2M697 805h2M684 811h2M669 803h2M678 808h2M672 816h2M678 804h2M678 809h2M681 804h2M662 804h2M679 814h2M665 807h2M669 805h2M681 787h2M668 795h2M676 797h2M676 802h2M674 805h2M659 804h2M678 801h2M675 805h2" stroke="#ee8a2a" stroke-width="1.4" fill="none" opacity="0.65"/>
<path transform="scale(.5)" d="M677 802h2M681 802h2M665 810h2M681 801h2M687 804h2M682 799h2M673 797h2M670 801h2M675 801h2M683 804h2M677 807h2M663 800h2M656 806h2M676 797h2M689 809h2M666 795h2M671 799h2M675 803h2M677 800h2M680 797h2M666 805h2M676 797h2M671 806h2M680 795h2M677 806h2M682 805h2M668 804h2M668 806h2M671 801h2M672 801h2M671 806h2M667 797h2M671 800h2M665 801h2M681 801h2M672 800h2M667 791h2M676 801h2M665 803h2M677 807h2M673 805h2M685 799h2M678 800h2M670 797h2M680 800h2M676 799h2M679 806h2M656 803h2M672 804h2M672 800h2M683 801h2M668 804h2M677 798h2M674 804h2M667 805h2M671 799h2M678 801h2M674 798h2M674 809h2M674 803h2M675 806h2M677 801h2M674 798h2M666 801h2M674 807h2M675 808h2M685 805h2M669 801h2M684 803h2M672 806h2M684 797h2M662 805h2M673 798h2M661 803h2M666 805h2M672 803h2M678 802h2M670 807h2M676 800h2M670 800h2M684 798h2M671 802h2M686 805h2M685 801h2M669 794h2M678 804h2M672 804h2M683 798h2M677 801h2M686 802h2M674 798h2M673 803h2M670 802h2M675 797h2M677 790h2M675 798h2M676 808h2M679 807h2M674 800h2M671 797h2M669 808h2M671 805h2M673 807h2M681 810h2M680 804h2M670 802h2M678 798h2M669 802h2M680 797h2M665 806h2M681 801h2M674 808h2M676 800h2M674 804h2M668 798h2M676 805h2M675 798h2M679 807h2M679 804h2M682 794h2M678 796h2M668 803h2M679 801h2M668 810h2M671 798h2M675 801h2M670 802h2M672 803h2M681 809h2M671 801h2M669 795h2M667 808h2M692 803h2M672 795h2M675 799h2M675 800h2M682 802h2M671 805h2M669 801h2M673 799h2M670 797h2M666 801h2M664 802h2M675 804h2M672 792h2M683 798h2M672 804h2M673 809h2M682 806h2M665 792h2M680 793h2M670 804h2M668 802h2M677 802h2M676 810h2M668 797h2M676 807h2M684 802h2M680 799h2M676 793h2M672 797h2M674 808h2M678 802h2M674 805h2M678 804h2M681 801h2M666 805h2M676 803h2M678 801h2M673 800h2M671 798h2M684 803h2M674 801h2M674 806h2M672 800h2M673 798h2M673 794h2M674 805h2M666 812h2M665 801h2M671 792h2M673 806h2M671 799h2M679 805h2M675 803h2M679 805h2M676 802h2M662 800h2M678 806h2M684 800h2M676 807h2M674 799h2M668 802h2M676 798h2M669 806h2M664 799h2M676 798h2M680 806h2M673 803h2M674 801h2M671 797h2M684 801h2M677 803h2M673 804h2M673 799h2M676 804h2M681 793h2M672 802h2M670 798h2M677 805h2M674 800h2M666 811h2M674 802h2M673 803h2M672 792h2M676 796h2M676 806h2M685 799h2M679 806h2M680 798h2M672 804h2M675 798h2M671 803h2M671 804h2M680 805h2M688 798h2M679 796h2M677 804h2M678 802h2M680 804h2M674 796h2M674 805h2M679 801h2M684 797h2M675 800h2M665 805h2M679 802h2M676 802h2M670 802h2M670 800h2M656 807h2M670 802h2M674 795h2M678 795h2M674 799h2M669 800h2M672 805h2M675 790h2M678 805h2M677 807h2M680 800h2M663 807h2M676 799h2M677 801h2M669 799h2M676 809h2M672 807h2M668 806h2M667 797h2M678 802h2M678 797h2M681 802h2M679 804h2M678 808h2M669 801h2M674 803h2M673 801h2M687 797h2M670 809h2M667 803h2M669 808h2M681 805h2M671 796h2M679 799h2M672 805h2M681 805h2M666 805h2M672 802h2M678 805h2M674 797h2M670 801h2M683 797h2M667 806h2M670 803h2M682 805h2M685 800h2M675 791h2M667 798h2M667 802h2M670 802h2M674 806h2M683 807h2M680 799h2M681 805h2M672 794h2M679 805h2M680 792h2M680 804h2M675 792h2M673 804h2M682 809h2M684 801h2M674 805h2M677 806h2M681 790h2M684 793h2M685 802h2M675 797h2M683 800h2M668 814h2M662 810h2M672 804h2M677 799h2M666 804h2M674 803h2M676 801h2M675 809h2M677 793h2M682 809h2M673 800h2M672 808h2M678 801h2M681 799h2M672 799h2M683 803h2M679 803h2M673 815h2M675 809h2M670 802h2M679 796h2M676 802h2M687 804h2M660 794h2M668 802h2M672 808h2M678 800h2M673 795h2M671 805h2M678 809h2M672 801h2M676 803h2M680 807h2M681 804h2M666 799h2M671 800h2M678 801h2M674 802h2M670 807h2M679 797h2M676 804h2M678 801h2M680 793h2M673 805h2M681 802h2M676 796h2M677 794h2M681 806h2M666 809h2M665 802h2M668 801h2M680 805h2M676 799h2M672 799h2M669 806h2M665 797h2M677 807h2M675 803h2M677 808h2M680 793h2M677 808h2M683 801h2M673 805h2M684 798h2M678 797h2M672 807h2M676 804h2M688 804h2M668 805h2M671 805h2M673 795h2" stroke="#e8650c" stroke-width="1.6" fill="none" opacity="0.85"/>
<path transform="scale(.5)" d="M692 791h2M702 806h2M705 786h2M701 787h2M692 796h2M689 799h2M701 793h2M700 793h2M706 794h2M695 804h2M703 787h2M703 801h2M705 794h2M700 796h2M699 802h2M694 799h2M709 798h2M679 802h2M707 798h2M700 792h2M697 802h2M701 792h2M703 804h2M693 803h2M699 801h2M698 790h2M694 790h2M695 800h2M706 801h2M702 795h2M700 786h2M704 803h2M704 790h2M697 802h2M694 795h2M689 799h2M699 798h2M690 785h2M695 793h2M691 799h2M702 792h2M685 795h2M697 805h2M683 806h2M702 793h2M696 786h2M697 797h2M701 798h2M695 804h2M694 803h2M693 800h2M699 795h2M696 799h2M701 799h2M692 799h2M691 800h2M701 797h2M698 795h2M701 796h2M695 799h2M696 792h2M695 808h2M695 803h2M697 792h2M690 796h2M691 799h2M692 797h2M703 787h2M696 799h2M698 794h2M694 793h2M714 795h2M696 795h2M704 794h2M698 788h2M697 790h2M695 792h2M693 805h2M703 798h2M707 788h2M700 793h2M708 791h2M699 790h2M702 792h2M698 802h2M695 793h2M702 797h2M703 792h2M694 800h2M691 800h2M700 800h2M700 800h2M702 797h2M701 784h2M696 799h2M710 795h2M698 790h2M693 790h2M689 801h2M707 795h2M703 785h2M701 796h2M699 793h2M696 798h2M690 804h2M694 798h2M689 799h2M692 802h2M698 806h2M697 801h2M702 798h2M701 788h2M695 795h2M698 788h2M699 801h2M699 802h2M701 797h2M697 802h2M698 794h2M694 797h2M697 804h2M693 797h2M708 796h2M704 803h2M692 793h2M696 792h2M699 806h2M698 802h2M701 804h2M695 809h2M696 796h2M706 804h2M703 802h2M700 802h2M704 795h2M693 798h2M701 790h2M698 787h2M696 793h2M703 789h2M695 800h2M697 793h2M692 790h2M695 800h2M690 789h2M699 794h2M702 798h2M696 788h2M691 794h2M697 797h2M701 803h2M694 798h2M696 795h2M689 805h2M687 793h2M691 792h2M698 801h2M703 798h2M697 801h2M706 792h2" stroke="#ee3030" stroke-width="1.3" fill="none" opacity="0.7"/>
<path transform="scale(.5)" d="M708 779h2M698 807h2M698 796h2M707 793h2M718 781h2M713 789h2M711 790h2M706 804h2M705 782h2M704 777h2M704 774h2M696 778h2M727 772h2M689 788h2M707 771h2M698 798h2M695 796h2M714 781h2M691 777h2M695 787h2M700 779h2M729 764h2M702 791h2M706 791h2M724 781h2M719 807h2M725 763h2M700 800h2M710 792h2M715 777h2M701 783h2M707 794h2M700 802h2M709 790h2M711 775h2M695 778h2M694 789h2M725 780h2M720 785h2M708 776h2M707 789h2M706 800h2M724 783h2M704 781h2M703 788h2M706 787h2M705 778h2M723 787h2M699 778h2M706 791h2M703 801h2M707 791h2M709 792h2M699 773h2M708 787h2M704 792h2M708 789h2M706 775h2M706 786h2M702 784h2M712 795h2M702 786h2M710 783h2M712 780h2M704 788h2M714 796h2M718 790h2M716 782h2M718 773h2M694 795h2M706 770h2M704 791h2M714 783h2M714 778h2M719 766h2M709 796h2M720 781h2M688 807h2M716 793h2M690 806h2M710 801h2M697 795h2M696 799h2M705 784h2M703 800h2M696 794h2M703 795h2M704 791h2M708 779h2M714 801h2M705 799h2M692 800h2M716 786h2M712 786h2M711 779h2M711 801h2M722 780h2M715 785h2M729 770h2M708 793h2M718 783h2M722 774h2M707 789h2M708 787h2M696 784h2M705 788h2M720 786h2M717 792h2M700 796h2M725 762h2" stroke="#ee3030" stroke-width="1.3" fill="none" opacity="0.5"/>
<path transform="scale(.5)" d="M722 725h2M701 719h2M699 727h2M695 733h2M688 739h2M731 717h2M711 728h2M679 723h2M701 724h2M691 716h2M720 721h2M703 725h2M702 721h2M717 717h2M728 731h2M701 721h2M709 718h2M699 720h2M720 718h2M713 713h2M711 725h2M701 718h2M726 709h2M706 729h2M723 717h2M723 707h2M697 719h2M708 714h2M713 722h2M698 709h2M709 716h2M713 705h2M691 707h2M706 721h2M713 715h2M705 734h2M703 713h2M694 721h2M710 708h2M712 733h2M709 720h2M725 706h2M710 722h2M705 715h2M729 739h2M718 730h2M722 713h2M724 726h2M704 724h2M699 717h2M728 717h2M689 718h2M704 711h2M728 723h2M703 715h2M718 719h2M701 717h2M736 713h2M709 738h2M719 723h2M695 726h2M718 744h2M718 720h2M705 714h2M718 704h2M708 707h2M714 726h2M704 707h2M705 701h2M696 720h2M715 719h2M708 735h2M702 707h2M728 729h2M710 699h2M708 732h2M702 723h2M720 711h2M712 731h2M701 722h2M707 725h2M717 720h2M711 730h2M723 726h2M722 711h2M735 712h2M703 712h2M710 727h2M707 726h2M707 723h2M711 718h2M706 715h2M720 723h2M696 728h2M711 727h2M717 735h2M721 736h2M710 717h2M714 743h2M711 734h2" stroke="#ee3030" stroke-width="1.3" fill="none" opacity="0.5"/>
<line x1="326.3" y1="328.6" x2="348" y2="417.3" stroke="#f54545" stroke-width="0.85"/>
<line x1="297.4" y1="392.8" x2="386.6" y2="369" stroke="#f54545" stroke-width="0.85"/>
<circle cx="330.7" cy="346.1" r="2.1" fill="#f00000"/>
<circle cx="370.8" cy="373.4" r="2.1" fill="#f00000"/>
<circle cx="339.3" cy="381.6" r="1.5" fill="#fff" stroke="#f54545" stroke-width="0.8"/>
<line x1="295.9" y1="351" x2="297.4" y2="351" stroke="#aaa" stroke-width="0.7"/>
<line x1="319.9" y1="417.3" x2="319.9" y2="418.8" stroke="#aaa" stroke-width="0.7"/>
<line x1="295.9" y1="372.9" x2="297.4" y2="372.9" stroke="#aaa" stroke-width="0.7"/>
<line x1="341.9" y1="417.3" x2="341.9" y2="418.8" stroke="#aaa" stroke-width="0.7"/>
<line x1="295.9" y1="394.8" x2="297.4" y2="394.8" stroke="#aaa" stroke-width="0.7"/>
<line x1="364" y1="417.3" x2="364" y2="418.8" stroke="#aaa" stroke-width="0.7"/>
<rect x="297.4" y="328.6" width="89.2" height="88.7" fill="none" stroke="#9c9c9c" stroke-width="0.9"/>
<text x="299.6" y="338.6" font-size="8.7" fill="#222">0.1%</text>
<text x="384.8" y="338.6" font-size="8.7" text-anchor="end" fill="#222">10%</text>
<rect x="298" y="404.9" width="19.5" height="9.4" fill="#fff"/>
<text x="299.8" y="412.2" font-size="8.7" fill="#222">64%</text>
<text x="384.8" y="412.2" font-size="8.7" text-anchor="end" fill="#222">26%</text>
<rect x="399.6" y="328.6" width="88.8" height="88.7" fill="#fff"/>
<polygon points="399.6,392.8 441.6,381.6 450.4,417.3 399.6,417.3" fill="#f4f5b6"/>
<path transform="scale(.5)" d="M867 800h2M867 796h2M869 805h2M860 816h2M858 810h2M865 795h2M861 805h2M839 800h2M870 800h2M847 800h2M867 797h2M861 793h2M859 804h2M871 795h2M857 798h2M856 799h2M867 802h2M866 799h2M858 800h2M857 799h2M858 802h2M867 803h2M868 809h2M871 804h2" stroke="#ee8a2a" stroke-width="1.4" fill="none" opacity="0.8"/>
<path transform="scale(.5)" d="M923 711h2M928 718h2M928 725h2M924 707h2M923 710h2M913 710h2M935 714h2M927 712h2M930 729h2M917 713h2M913 708h2M928 712h2M924 703h2M925 720h2M922 708h2M923 741h2M923 717h2M926 710h2M931 706h2M924 710h2M923 716h2M934 712h2M924 719h2M926 720h2M928 719h2M925 718h2M929 715h2M938 712h2M934 707h2M921 700h2M914 707h2M919 718h2M912 710h2M912 702h2M918 719h2M922 705h2M929 706h2M930 708h2M940 713h2M922 712h2M925 704h2M930 703h2M931 719h2M924 716h2M920 716h2M909 715h2M930 716h2M921 727h2M935 715h2M936 716h2M934 726h2M928 718h2M931 714h2M918 712h2M930 706h2M922 718h2M932 714h2M922 716h2M922 723h2M919 718h2M936 719h2M926 717h2M920 713h2M920 726h2M922 698h2M933 713h2M934 710h2M926 717h2M928 713h2M917 713h2M931 730h2M925 716h2M936 723h2M923 710h2M930 710h2M933 708h2M927 726h2M927 706h2M933 712h2M923 731h2M925 717h2M920 713h2M933 714h2M928 706h2M928 718h2M923 721h2M929 708h2M924 710h2M937 730h2M937 714h2M928 721h2M923 731h2M931 709h2M921 712h2M931 708h2M929 698h2M921 723h2M921 717h2M922 711h2M928 718h2M927 710h2M924 702h2M929 710h2M928 709h2M927 707h2M932 724h2M926 707h2M920 704h2M926 716h2M919 716h2M927 727h2M928 717h2M927 703h2M930 708h2M921 720h2M924 708h2M915 715h2M910 724h2M926 703h2M939 706h2M919 711h2M925 714h2M920 719h2M932 703h2M920 717h2M925 712h2M931 702h2M923 711h2M924 717h2M921 727h2M930 710h2M928 720h2M932 705h2M926 722h2M920 713h2M920 725h2M931 705h2M928 706h2M934 703h2M915 725h2M922 709h2M924 699h2M929 709h2M920 719h2M919 717h2M927 718h2M926 703h2M920 711h2M932 700h2M928 703h2M927 719h2M927 721h2M923 711h2M928 700h2M927 707h2M930 712h2M922 726h2M933 711h2M925 702h2M928 705h2M935 709h2M919 708h2M919 710h2M925 730h2M931 711h2M935 699h2M928 723h2M933 710h2M924 707h2M927 710h2M928 717h2M919 713h2M918 715h2M923 710h2M931 716h2M932 707h2M921 704h2M924 708h2M923 710h2M929 701h2M929 705h2M923 723h2M918 721h2M928 727h2M929 724h2M918 719h2M921 726h2M930 720h2M928 712h2M929 712h2M922 716h2M933 719h2M920 711h2M931 713h2M935 716h2M923 707h2M928 733h2M929 719h2M926 698h2M925 721h2M935 710h2M924 712h2M923 713h2M908 716h2M916 711h2M923 716h2M925 713h2M924 732h2M930 715h2M938 710h2M932 705h2M942 718h2M931 712h2M933 717h2M920 716h2M930 706h2M931 716h2M932 710h2M925 708h2M927 707h2M919 710h2M929 709h2M921 707h2M932 713h2M930 705h2M927 725h2M928 720h2M929 712h2M930 717h2M928 707h2M917 712h2M936 705h2M922 712h2M931 716h2M929 712h2M926 720h2M928 708h2M927 715h2M926 718h2M925 718h2M925 714h2M924 727h2M927 721h2M922 718h2M928 709h2M918 713h2M922 709h2M912 727h2M923 716h2M929 709h2M928 721h2M916 720h2M931 711h2M920 714h2M918 732h2M923 714h2M934 719h2M920 738h2M937 717h2M933 707h2" stroke="#ee3030" stroke-width="1.3" fill="none" opacity="0.7"/>
<path transform="scale(.5)" d="M920 703h2M929 706h2M931 720h2M919 709h2M904 725h2M935 699h2M925 710h2M924 701h2M921 699h2M929 740h2M919 734h2M912 718h2M915 720h2M919 722h2M912 713h2M930 679h2M942 693h2M930 725h2M942 689h2M929 735h2M924 726h2M927 720h2M909 716h2M929 726h2M932 710h2M921 738h2M928 713h2M919 703h2M915 736h2M911 714h2M920 719h2M919 729h2M913 740h2M935 718h2M917 715h2M932 700h2M927 717h2M918 735h2M932 708h2M931 706h2M927 695h2M940 704h2M928 700h2M930 717h2M915 717h2M923 690h2M925 721h2M941 736h2M911 723h2M917 704h2M916 724h2M923 709h2M929 703h2M938 702h2M928 698h2M931 713h2M923 723h2M926 693h2M927 691h2M926 731h2M930 705h2M930 745h2M926 721h2M929 699h2M912 724h2M915 726h2M934 697h2M929 714h2M935 736h2M925 696h2M929 722h2M924 720h2M901 734h2M911 729h2M929 712h2M927 698h2M921 710h2M934 720h2M923 715h2M929 711h2M935 706h2M917 730h2M932 713h2M919 705h2M914 715h2M934 720h2M936 719h2M928 732h2M922 702h2M922 718h2" stroke="#ee3030" stroke-width="1.3" fill="none" opacity="0.45"/>
<path transform="scale(.5)" d="M922 773h2M905 785h2M917 785h2M919 778h2M918 779h2M911 782h2M899 794h2M900 789h2M910 781h2M908 785h2M909 786h2M905 786h2M892 797h2M919 778h2M901 792h2M928 768h2M938 755h2M917 773h2M915 777h2M900 784h2M903 793h2M908 787h2M923 774h2M911 781h2M898 801h2M921 776h2M903 783h2M916 770h2M911 782h2M901 787h2M906 786h2M917 774h2M905 787h2M926 771h2M904 790h2M926 769h2M898 795h2M905 797h2M919 778h2M924 766h2M909 785h2M917 773h2M901 790h2M901 791h2M908 779h2M928 758h2M906 782h2M896 798h2M882 801h2M911 784h2M913 772h2M906 784h2M911 779h2M904 791h2M923 770h2M913 775h2M896 794h2M905 788h2M924 772h2M910 783h2M887 805h2M906 785h2M908 790h2M882 807h2M914 777h2M924 769h2M907 790h2M898 788h2M910 786h2M907 789h2M910 783h2M912 774h2M893 797h2M906 785h2M929 764h2M906 782h2M910 781h2M914 780h2M901 790h2M896 796h2M931 759h2M907 780h2M899 792h2M918 773h2M907 788h2M899 790h2M902 785h2M896 795h2M898 791h2M919 775h2M910 780h2M904 782h2M923 771h2M916 775h2M906 787h2M896 798h2M906 790h2M920 768h2M902 793h2M931 762h2M908 785h2M896 796h2M904 786h2M924 769h2M904 789h2M915 779h2M920 778h2M902 786h2M923 776h2M925 771h2M915 773h2M892 800h2M913 779h2M919 777h2M917 772h2M931 768h2M911 778h2M910 781h2M889 801h2M896 792h2M919 769h2M897 793h2M907 784h2M892 798h2M905 784h2M893 790h2M914 777h2M912 787h2M916 782h2M897 800h2M907 784h2M919 775h2M878 813h2M903 788h2M909 784h2M919 776h2M915 776h2M915 775h2M913 779h2M915 772h2M910 786h2M910 785h2M900 796h2M909 786h2M906 784h2M925 767h2M897 792h2M913 780h2M911 789h2M909 780h2M922 773h2M912 785h2M899 790h2M915 785h2M918 772h2M913 779h2M918 776h2M898 797h2M921 774h2M905 787h2M897 793h2M909 775h2M895 795h2M915 782h2M924 765h2M906 789h2M903 792h2M921 771h2M916 775h2M918 773h2M891 801h2M899 787h2M931 766h2M900 788h2M905 785h2M910 780h2M912 779h2M909 785h2M886 810h2M916 777h2M901 796h2M919 772h2M924 771h2M901 794h2M912 781h2M927 767h2M925 763h2M922 775h2M907 789h2M915 778h2M900 791h2M927 769h2M912 776h2M925 769h2M887 808h2M909 792h2M905 787h2M909 788h2M899 795h2M912 775h2M899 788h2M928 763h2M909 788h2M908 789h2M903 789h2M917 777h2M914 779h2M896 787h2M882 814h2M909 788h2M898 786h2M909 780h2M901 791h2M913 779h2M901 795h2M915 782h2M907 783h2M921 774h2M908 782h2M916 775h2M908 785h2M909 785h2M902 788h2M901 798h2M912 781h2M910 782h2M927 768h2M914 776h2M929 764h2M925 758h2M910 776h2M900 791h2M907 783h2M920 771h2M909 781h2M922 772h2M909 787h2M911 780h2M922 774h2M918 776h2M912 776h2M911 777h2M916 776h2M912 784h2M919 770h2M901 784h2M942 753h2M915 781h2M902 789h2M897 799h2M905 794h2M913 776h2M905 786h2M921 770h2M909 787h2M899 790h2M907 784h2M907 789h2M910 785h2M901 795h2M908 782h2M893 801h2M911 779h2M911 785h2M910 784h2M904 791h2M910 782h2M913 780h2M894 800h2M920 772h2M910 784h2M914 775h2M924 765h2M895 791h2M900 791h2M903 793h2M912 782h2M897 788h2M903 791h2M928 764h2M908 784h2M915 778h2M922 773h2M928 770h2M899 798h2M918 781h2M919 775h2M921 770h2M906 791h2M904 784h2M914 781h2M909 779h2M907 784h2M907 790h2M908 782h2M910 786h2M914 780h2M904 788h2M902 793h2M907 787h2M909 784h2M920 770h2M908 787h2M889 802h2M933 760h2M924 770h2M917 776h2M916 777h2M912 782h2M929 765h2M899 794h2M921 776h2M918 773h2M934 757h2M908 780h2M922 762h2M916 778h2M902 792h2M902 795h2M920 767h2M898 792h2M907 783h2M931 768h2M903 792h2M916 775h2M930 762h2M927 766h2M917 771h2M904 789h2M927 761h2M916 776h2M913 782h2M901 793h2M888 802h2M914 777h2M908 787h2M893 797h2M918 770h2M913 778h2M904 786h2M907 785h2M917 776h2M916 775h2M901 790h2M922 774h2M910 784h2M903 793h2M910 783h2M911 780h2M923 770h2M915 772h2M887 802h2M900 795h2M918 773h2M913 777h2M900 789h2M907 787h2M925 763h2M889 807h2M924 769h2M919 768h2M904 786h2M906 782h2M916 779h2M913 781h2M914 776h2M922 768h2M905 788h2M910 780h2M918 779h2M905 784h2M911 782h2M922 763h2M891 802h2M913 777h2M906 787h2M902 794h2M908 783h2M910 773h2M916 769h2M903 789h2M916 773h2M923 765h2M915 781h2M918 774h2M917 778h2M919 776h2M901 790h2M923 769h2M913 774h2M930 764h2M919 773h2M905 792h2M924 771h2M924 767h2M920 769h2M908 784h2M907 785h2M926 769h2M905 790h2M918 770h2M911 778h2M905 788h2M905 783h2M906 786h2M913 773h2M904 787h2M909 781h2M908 783h2M914 776h2M922 772h2M898 797h2M916 778h2M904 787h2M909 782h2M909 781h2M925 764h2M926 766h2M908 783h2M908 783h2M926 767h2M918 777h2M929 761h2M904 787h2M923 771h2M907 786h2M881 808h2M917 771h2M903 791h2M916 772h2M909 785h2M922 767h2M901 797h2M894 795h2M929 769h2M923 771h2M914 782h2M897 799h2M920 773h2M935 756h2M912 789h2M906 784h2M903 790h2M913 774h2M910 782h2M897 797h2M903 787h2M921 772h2M899 792h2M913 778h2M922 772h2M920 775h2M892 798h2M914 773h2M901 793h2M889 800h2M913 778h2M893 796h2M910 786h2M927 773h2M915 775h2M913 787h2M920 773h2M911 780h2M920 776h2M925 774h2M900 791h2M926 765h2M912 786h2M913 783h2M908 775h2M907 784h2M905 785h2M915 775h2M905 788h2M914 776h2M917 774h2M908 791h2M904 782h2M916 777h2M911 783h2M914 773h2M908 780h2M905 783h2M910 785h2M912 777h2M923 771h2M892 796h2M903 784h2M907 786h2M904 791h2M903 784h2M920 768h2M921 772h2M903 786h2M894 794h2M913 776h2M916 777h2M894 789h2M915 783h2M917 780h2M919 777h2M905 786h2M914 776h2M910 784h2M917 771h2M917 783h2M915 774h2M913 784h2M909 786h2M912 779h2M918 773h2M905 784h2M914 778h2M935 759h2M904 788h2M897 794h2M901 791h2M910 787h2M912 783h2M889 804h2M890 800h2M917 773h2M897 796h2M916 774h2M921 768h2M883 814h2M916 776h2M911 782h2M906 784h2M915 778h2M911 784h2M916 777h2M926 761h2M913 778h2M899 794h2M924 768h2M923 772h2M924 767h2M914 778h2M921 774h2M930 762h2M911 784h2M901 785h2M923 766h2M909 786h2M923 772h2M907 788h2M907 788h2M915 780h2M912 776h2M906 792h2M928 767h2M904 783h2M915 772h2M902 791h2M904 786h2M906 788h2M912 779h2M910 777h2M911 778h2M910 780h2M920 772h2M921 774h2M905 784h2M913 781h2M915 776h2M917 774h2M912 772h2M907 784h2M905 782h2M913 782h2M917 778h2M901 792h2M905 794h2M907 786h2M913 782h2M904 787h2M907 786h2M901 787h2M915 776h2M893 802h2M911 781h2M904 787h2M911 781h2M913 780h2M884 813h2M919 768h2M918 774h2M926 766h2M918 773h2M919 772h2M917 777h2M928 768h2M895 791h2M908 780h2M902 790h2M917 770h2M914 780h2M925 764h2M912 780h2M907 781h2M907 781h2M908 793h2M890 800h2M913 784h2M906 785h2M907 787h2M898 791h2M912 781h2M899 790h2M908 774h2M904 779h2M907 784h2M896 798h2M912 777h2M917 771h2M908 782h2M908 790h2M913 772h2" stroke="#fa1e1e" stroke-width="1.4" fill="none" opacity="0.85"/>
<path transform="scale(.5)" d="M919 769h2M928 765h2M898 802h2M903 795h2M909 787h2M908 793h2M926 768h2M918 783h2M906 788h2M923 781h2M933 768h2M908 786h2M906 796h2M929 772h2M939 761h2M935 761h2M919 765h2M909 780h2M928 773h2M926 777h2M916 766h2M910 777h2M920 758h2M920 763h2M899 799h2M921 768h2M903 795h2M921 783h2M905 774h2M921 773h2M909 787h2M911 786h2M911 790h2M912 790h2M898 800h2M918 769h2M911 791h2M927 783h2M910 775h2M920 773h2M924 773h2M896 795h2M914 782h2M918 778h2M910 793h2M904 787h2M919 774h2M939 770h2M926 776h2M922 768h2M914 770h2M940 754h2M917 781h2M926 766h2M954 729h2M915 769h2M912 776h2M894 800h2M894 801h2M947 755h2M912 775h2M899 787h2M901 778h2M895 789h2M913 778h2M904 786h2M921 770h2M935 759h2M919 771h2M909 772h2M915 779h2M934 761h2M894 793h2M914 804h2M897 776h2M892 788h2M919 769h2M907 781h2M898 787h2M922 772h2M917 784h2M922 775h2M915 779h2M913 792h2M894 787h2M920 771h2M902 791h2M927 763h2M917 774h2M913 778h2M901 786h2M931 752h2M906 777h2M920 770h2M907 788h2M932 765h2M923 775h2M918 755h2M922 763h2M908 775h2M903 790h2M915 777h2M904 785h2M913 787h2M935 753h2M927 766h2M921 775h2M925 771h2M925 764h2M923 780h2M917 781h2M920 779h2M922 772h2M943 751h2M897 789h2M908 769h2M904 780h2M940 739h2M908 784h2M926 754h2M921 767h2M918 767h2M929 763h2M920 770h2M917 786h2M944 755h2M906 798h2M891 802h2M898 780h2M929 771h2" stroke="#ee3030" stroke-width="1.3" fill="none" opacity="0.5"/>
<line x1="428.5" y1="328.6" x2="450.4" y2="417.3" stroke="#f54545" stroke-width="0.85"/>
<line x1="399.6" y1="392.8" x2="488.4" y2="369.2" stroke="#f54545" stroke-width="0.85"/>
<circle cx="433.2" cy="346.1" r="2.1" fill="#f00000"/>
<circle cx="441.6" cy="381.6" r="1.5" fill="#fff" stroke="#f54545" stroke-width="0.8"/>
<line x1="398.1" y1="351" x2="399.6" y2="351" stroke="#aaa" stroke-width="0.7"/>
<line x1="422" y1="417.3" x2="422" y2="418.8" stroke="#aaa" stroke-width="0.7"/>
<line x1="398.1" y1="372.9" x2="399.6" y2="372.9" stroke="#aaa" stroke-width="0.7"/>
<line x1="444" y1="417.3" x2="444" y2="418.8" stroke="#aaa" stroke-width="0.7"/>
<line x1="398.1" y1="394.8" x2="399.6" y2="394.8" stroke="#aaa" stroke-width="0.7"/>
<line x1="465.9" y1="417.3" x2="465.9" y2="418.8" stroke="#aaa" stroke-width="0.7"/>
<rect x="399.6" y="328.6" width="88.8" height="88.7" fill="none" stroke="#9c9c9c" stroke-width="0.9"/>
<text x="402.2" y="338.6" font-size="8.7" fill="#222">0.2%</text>
<text x="486.6" y="338.6" font-size="8.7" text-anchor="end" fill="#222">30%</text>
<rect x="400.2" y="404.9" width="19.1" height="9.4" fill="#fff"/>
<text x="406.5" y="412.2" font-size="8.7" fill="#222">5%</text>
<text x="486.6" y="412.2" font-size="8.7" text-anchor="end" fill="#222">65%</text>
<rect x="95.2" y="426.6" width="89" height="89" fill="#fff"/>
<polygon points="95.2,486.6 140.3,473.9 149.9,515.6 95.2,515.6" fill="#f4f5b6"/>
<path transform="scale(.5)" d="M288 993h2M258 994h2M282 990h2M261 987h2M265 990h2M262 984h2M255 1001h2M257 998h2M241 1009h2M265 995h2M265 992h2M272 1003h2M262 992h2M269 1003h2M292 992h2M276 983h2M261 993h2M266 993h2M263 999h2M280 992h2M257 997h2M277 997h2M269 989h2M229 988h2M269 990h2M256 984h2M251 996h2M263 1000h2M267 993h2M295 991h2M264 987h2M252 1000h2M262 1003h2M269 980h2M251 1010h2M260 1006h2M242 992h2M247 995h2M258 997h2M273 998h2M251 993h2M252 998h2M262 1000h2M250 1013h2M256 995h2M251 991h2M285 1003h2M257 995h2M281 997h2M265 996h2M286 993h2M250 992h2M265 992h2M232 990h2M280 992h2M271 1008h2M258 995h2M289 990h2M300 988h2M283 1004h2M284 991h2M264 997h2M253 983h2M244 981h2M277 997h2M239 984h2M261 997h2M285 1001h2M268 989h2M247 992h2M252 992h2M280 990h2M249 992h2M257 992h2M245 994h2M262 996h2M255 999h2M276 998h2M250 996h2M257 990h2M232 999h2M280 1001h2M279 996h2M259 993h2M265 1010h2M269 980h2M277 1000h2M242 997h2M251 1006h2M293 1008h2M278 1000h2M271 992h2M264 999h2M274 987h2M275 996h2M275 990h2M249 999h2M263 983h2M268 993h2M267 997h2M250 994h2M260 993h2M251 990h2M258 994h2M266 1005h2M271 991h2M271 986h2M276 988h2M265 992h2M247 1000h2M264 994h2M257 1001h2M241 1005h2M255 989h2M269 997h2M277 993h2M262 1002h2M245 1001h2M263 998h2M254 988h2M280 993h2M247 995h2M274 995h2M260 991h2M268 997h2M254 998h2M270 997h2M263 990h2M261 993h2M249 987h2M256 990h2M238 999h2M270 994h2M259 994h2M283 1003h2M243 991h2M284 995h2M269 985h2M257 1002h2M270 994h2M247 1001h2M245 1001h2M279 995h2M237 999h2M263 985h2M281 992h2M265 982h2M281 1002h2M260 999h2M254 1005h2M279 1005h2M275 1006h2M262 994h2M281 985h2M248 993h2M277 1010h2M258 999h2M266 1003h2M265 1001h2M266 999h2M270 993h2M282 988h2M282 1001h2M265 989h2M264 1007h2M251 999h2M285 1000h2M276 996h2M255 984h2M266 989h2M283 1002h2M254 987h2M267 987h2M264 1006h2M260 981h2M265 995h2M237 998h2M277 1009h2M258 1003h2M265 998h2M245 983h2M294 993h2M271 983h2M238 997h2M255 986h2M259 1002h2M251 1000h2M246 992h2M246 998h2M252 997h2M265 996h2M266 995h2M280 1001h2M261 996h2M234 993h2M261 998h2M277 991h2M248 1004h2M265 1001h2M267 981h2M250 993h2M260 995h2M250 995h2M282 999h2M272 1005h2M264 1006h2M272 982h2M272 1002h2M252 982h2M246 1003h2M244 998h2M246 990h2M274 992h2M277 992h2M283 1004h2M246 991h2M263 992h2M279 998h2M286 1007h2M259 991h2M258 997h2M258 990h2M269 1002h2M274 987h2M276 998h2M257 998h2M282 993h2M250 1003h2M271 1008h2M281 995h2M278 998h2M269 997h2M258 1004h2M262 1001h2M254 996h2M254 995h2M250 990h2M278 993h2M248 995h2M254 1007h2M281 1001h2M268 980h2M286 992h2M284 1004h2M269 1003h2M278 983h2M249 995h2M267 1006h2M287 990h2M270 992h2M268 996h2M299 988h2M275 1003h2M245 997h2M279 997h2M231 991h2M270 1003h2M269 993h2M258 990h2M254 994h2M258 986h2M300 991h2M250 1011h2M254 990h2M262 989h2M259 995h2M287 997h2M268 998h2M262 997h2M274 984h2M268 992h2M262 980h2M260 1000h2M262 998h2M262 1001h2M259 984h2M263 981h2M281 996h2M248 988h2M269 987h2M274 989h2M263 984h2M264 982h2M279 998h2M259 997h2M272 1000h2M271 997h2M267 996h2M267 998h2M275 993h2M283 996h2M250 994h2M278 979h2M255 998h2M253 1007h2M267 1006h2M267 994h2M242 998h2M285 997h2M258 1007h2M273 1007h2M269 990h2M272 990h2M265 992h2M268 991h2M265 1006h2M260 982h2M279 987h2M266 985h2M269 990h2M257 1000h2M256 988h2M266 1001h2M246 1007h2M283 996h2M259 1004h2M260 994h2M258 998h2M266 993h2M271 1003h2M273 998h2M256 1000h2M250 1002h2M262 1002h2M262 988h2M255 997h2M280 990h2M251 992h2M253 995h2M276 999h2" stroke="#ee8a2a" stroke-width="1.4" fill="none" opacity="0.65"/>
<path transform="scale(.5)" d="M261 995h2M259 1003h2M271 997h2M264 995h2M245 993h2M264 994h2M258 991h2M266 997h2M267 995h2M274 998h2M258 998h2M268 990h2M260 997h2M256 995h2M249 1000h2M263 1003h2M272 993h2M259 986h2M269 995h2M262 995h2M267 991h2M260 997h2M265 994h2M254 998h2M267 989h2M275 996h2M269 994h2M257 994h2M247 1000h2M263 992h2M253 993h2M260 999h2M269 988h2M244 998h2M259 992h2M260 985h2M267 1002h2M264 1003h2M274 996h2M264 990h2M266 987h2M246 996h2M261 1002h2M259 988h2M261 995h2M269 1002h2M252 999h2M242 994h2M275 1004h2M260 989h2M258 997h2M272 1000h2M267 989h2M263 993h2M264 993h2M267 1008h2M254 995h2M262 994h2M277 992h2M266 1007h2M264 1004h2M276 991h2M263 992h2M274 998h2M264 996h2M260 997h2M264 992h2M264 987h2M251 996h2M277 991h2M265 1007h2M278 996h2M256 996h2M259 997h2M252 992h2M260 996h2M266 990h2M277 995h2M258 997h2M259 995h2M269 983h2M265 998h2M257 992h2M258 1000h2M257 996h2M271 995h2M257 997h2M259 992h2M270 995h2M257 994h2M269 998h2M251 999h2M257 992h2M272 993h2M266 992h2M255 1003h2M253 992h2M249 995h2M264 994h2M259 991h2M264 998h2M261 994h2M282 1000h2M271 991h2M250 997h2M263 1005h2M252 999h2M263 995h2M259 999h2M263 990h2M259 997h2M246 997h2M266 998h2M247 998h2M254 999h2M256 993h2M263 993h2M252 991h2M260 998h2M262 987h2M276 995h2M256 992h2M263 996h2M266 1005h2M260 993h2M263 1000h2M269 1001h2M256 990h2M240 994h2M259 996h2M264 991h2M265 993h2M265 994h2M270 996h2M262 993h2M257 1000h2M253 998h2M251 995h2M269 997h2M257 988h2M255 989h2M273 989h2M251 996h2M268 1002h2M254 993h2M257 990h2M257 991h2M264 996h2M258 989h2M268 991h2M256 998h2M275 1001h2M258 996h2M247 995h2M254 994h2M254 998h2M263 982h2M251 996h2M270 996h2M254 994h2M257 994h2M269 997h2M245 993h2M277 998h2M254 992h2M246 997h2M273 999h2M259 991h2M247 1000h2M266 997h2M273 996h2M273 1001h2M266 997h2M253 991h2M257 998h2M267 1000h2M264 994h2M259 994h2M272 994h2M251 993h2M274 992h2M253 999h2M257 1000h2M260 989h2M267 995h2M270 994h2M249 998h2M254 1000h2M256 997h2M260 1000h2M255 999h2M253 998h2M273 998h2M267 1000h2M261 993h2M268 990h2M259 999h2M249 999h2M247 1003h2M266 995h2M261 990h2M260 997h2M253 1002h2M262 993h2M263 995h2M272 993h2M271 989h2M256 1001h2M275 993h2M268 1002h2M273 993h2M260 988h2M269 991h2M249 991h2M271 992h2M256 994h2M265 994h2M256 1002h2M261 985h2M262 991h2M251 996h2M262 998h2M269 996h2M262 995h2M270 998h2M279 994h2M262 994h2M272 997h2M263 989h2M252 995h2M268 992h2M252 996h2M262 994h2M279 1001h2M256 998h2M253 996h2M258 992h2M265 998h2M268 986h2M257 999h2M256 999h2M266 996h2M261 998h2M269 989h2M255 993h2M272 991h2M264 998h2M261 998h2M249 1002h2M259 991h2M261 991h2M270 997h2M263 992h2M253 992h2M251 998h2M268 995h2M252 993h2M275 1000h2M263 995h2M257 989h2M255 994h2M272 995h2M260 992h2M263 1000h2M246 996h2M262 998h2M253 999h2M243 994h2M259 994h2M260 996h2M251 994h2M283 1002h2M252 992h2M254 990h2M263 998h2M264 995h2M263 989h2M259 999h2M273 999h2M255 992h2M247 990h2M253 999h2M260 999h2M262 999h2M277 994h2M260 999h2M258 1003h2M257 999h2M255 999h2M267 1001h2M252 998h2M272 996h2M254 997h2M256 1000h2M262 997h2M248 999h2M262 994h2M261 995h2M272 989h2M267 999h2M242 997h2M264 991h2M253 998h2M253 992h2M254 998h2M277 1004h2M258 996h2M261 992h2M268 994h2M275 997h2M258 994h2M262 998h2M263 987h2M262 1002h2M259 995h2M252 995h2M257 1001h2M255 1000h2M253 988h2M257 989h2M261 999h2M256 994h2M258 991h2M268 999h2M267 995h2M253 997h2M247 992h2M281 993h2M259 994h2M275 996h2" stroke="#e8650c" stroke-width="1.6" fill="none" opacity="0.88"/>
<path transform="scale(.5)" d="M316 976h2M292 969h2M305 950h2M296 986h2M309 969h2M302 961h2M305 982h2M323 954h2M307 977h2M312 998h2M310 958h2M289 968h2M314 944h2M310 970h2M301 969h2M314 939h2M313 995h2M304 1000h2M307 932h2M295 969h2M317 960h2M315 963h2M295 969h2M306 966h2M310 962h2M317 973h2M318 961h2M330 975h2M305 953h2M288 975h2M299 998h2M318 969h2M299 958h2M293 985h2M319 934h2M310 963h2M326 950h2M307 955h2M338 955h2M318 963h2M312 987h2M300 948h2M314 963h2M321 988h2M304 973h2M323 982h2M317 965h2M323 960h2M315 959h2M320 961h2M298 939h2M318 926h2M307 955h2M309 969h2M307 954h2M292 979h2M308 985h2M312 967h2M310 959h2M316 974h2M308 955h2M319 963h2M320 953h2M303 952h2M314 976h2M308 957h2M310 974h2M305 964h2M321 969h2M312 971h2M293 922h2M302 955h2M295 966h2M300 988h2M313 975h2M298 1007h2M286 982h2M288 962h2M314 944h2M307 959h2M318 963h2M314 968h2M309 972h2M328 947h2M310 974h2M317 962h2M307 953h2M318 945h2M324 972h2M300 953h2M307 925h2M304 964h2M320 964h2M317 938h2M299 973h2M316 961h2M307 971h2M314 944h2M299 952h2M289 966h2M310 976h2M307 952h2M327 923h2M327 973h2M318 963h2M291 984h2M316 948h2M301 970h2M318 941h2M316 971h2M308 957h2M314 969h2M311 963h2M315 962h2M310 992h2M303 983h2M320 967h2M326 952h2M304 949h2M303 981h2M309 965h2M294 947h2M303 951h2M315 990h2M314 968h2M314 950h2M304 990h2M317 973h2M304 938h2M329 948h2M302 968h2M309 951h2M301 954h2M304 995h2M292 994h2M300 994h2M298 970h2M319 972h2M326 949h2M307 943h2M295 963h2M296 964h2M312 982h2M293 975h2M298 970h2M305 975h2M322 973h2M303 986h2M311 946h2M306 999h2M290 970h2M304 940h2M317 972h2M312 996h2M317 956h2M310 974h2M306 963h2M300 988h2M325 973h2M302 952h2M319 975h2M306 972h2M293 962h2M317 957h2M307 940h2M313 965h2M319 939h2M335 956h2M303 964h2M285 977h2M309 980h2M323 938h2M302 980h2M311 929h2M313 969h2M315 968h2M301 978h2M316 970h2M305 982h2M311 955h2M298 960h2M299 977h2M318 958h2M323 959h2M319 969h2M315 939h2M308 960h2M305 946h2M295 987h2M300 984h2M315 979h2M311 1004h2M311 969h2M316 960h2M298 968h2M306 969h2M317 962h2M308 971h2M320 946h2M301 945h2M322 973h2M311 944h2M298 981h2M308 972h2M276 945h2M301 982h2M327 974h2M296 990h2M319 964h2M295 952h2M293 968h2M298 944h2M317 985h2M289 966h2M326 912h2M301 962h2M314 969h2M304 942h2M304 958h2M314 960h2M301 927h2M288 963h2M328 969h2M313 953h2M315 959h2M309 965h2M308 983h2M307 972h2M314 961h2M299 955h2M286 949h2M298 978h2M322 974h2M305 954h2M285 982h2M320 981h2M323 953h2M301 972h2M315 970h2M312 972h2M294 973h2M322 962h2M317 958h2M318 948h2M318 972h2M291 958h2M316 936h2M324 969h2M320 974h2M294 964h2M316 962h2M300 975h2M315 956h2M308 938h2M316 993h2M336 946h2M318 972h2M312 996h2M313 958h2M302 984h2M325 965h2M319 963h2M320 937h2M301 974h2M302 952h2M315 980h2M322 953h2M309 967h2M310 968h2M290 983h2M299 977h2M305 944h2M311 982h2M308 963h2M313 954h2M305 956h2M306 981h2M301 935h2M329 961h2M315 947h2" stroke="#ee3030" stroke-width="1.3" fill="none" opacity="0.5"/>
<path transform="scale(.5)" d="M313 921h2M307 918h2M295 927h2M312 934h2M312 931h2M310 936h2M315 924h2M336 939h2M311 917h2M313 921h2M320 911h2M311 932h2M311 930h2M308 944h2M303 927h2M302 928h2M310 905h2M274 923h2M306 930h2M315 922h2M330 927h2M334 915h2M291 936h2M303 932h2M309 917h2M288 939h2M304 938h2M315 928h2M311 934h2M286 940h2M324 923h2M301 936h2M317 940h2M286 928h2M313 931h2M326 922h2M327 924h2M326 922h2M320 924h2M300 932h2M291 930h2M335 924h2M290 920h2M301 937h2M323 921h2M314 923h2M335 930h2M308 935h2M331 928h2M358 920h2M305 932h2M311 922h2M306 934h2M312 932h2M308 934h2M324 924h2M327 923h2M316 922h2M329 934h2M298 927h2M321 930h2M304 927h2M328 916h2M319 925h2M282 927h2M313 926h2M294 933h2M308 924h2M329 922h2M345 920h2M321 926h2M319 918h2M322 927h2M309 924h2M284 930h2M326 923h2M317 924h2M316 933h2M319 928h2M320 923h2M320 941h2M332 932h2M310 914h2M329 914h2M307 922h2M310 937h2M296 925h2M302 931h2M276 936h2M297 941h2M309 926h2M329 927h2M300 930h2M311 938h2M312 932h2M315 933h2M284 934h2M306 930h2M348 926h2M332 937h2M304 930h2M318 931h2M327 918h2M314 939h2M321 919h2M317 931h2M303 935h2M314 923h2M294 926h2M313 928h2M321 933h2M303 921h2M321 924h2M313 910h2M314 927h2M305 922h2M301 928h2M316 927h2M315 923h2M330 929h2M289 943h2M321 935h2M309 929h2M306 927h2M297 938h2M350 926h2M324 922h2M315 928h2M321 925h2M291 940h2M311 925h2M313 912h2M315 932h2M295 940h2M309 931h2M341 927h2M329 924h2M318 918h2M324 928h2M353 915h2M320 918h2M308 938h2M289 935h2M311 909h2M315 932h2M285 936h2M306 927h2M312 926h2M309 933h2M281 942h2M297 938h2M297 941h2M331 919h2M313 940h2M302 951h2M323 927h2M287 939h2M307 934h2M323 935h2M296 924h2" stroke="#ee3030" stroke-width="1.3" fill="none" opacity="0.5"/>
<path transform="scale(.5)" d="M302 964h2M276 933h2M285 933h2M291 928h2M294 941h2M281 915h2M292 943h2M303 945h2M288 949h2M305 944h2M280 949h2M253 948h2M282 941h2M283 943h2M283 934h2M259 937h2M262 957h2M276 926h2M284 953h2M280 949h2M303 921h2M292 920h2M288 933h2M280 944h2M259 935h2M289 948h2M279 937h2M289 924h2M313 946h2M284 949h2" stroke="#ee3030" stroke-width="1.3" fill="none" opacity="0.4"/>
<line x1="129.4" y1="426.6" x2="149.9" y2="515.6" stroke="#f54545" stroke-width="0.85"/>
<line x1="95.2" y1="486.6" x2="184.2" y2="461.5" stroke="#f54545" stroke-width="0.85"/>
<circle cx="133.2" cy="442.2" r="2.1" fill="#f00000"/>
<circle cx="169.4" cy="465.5" r="2.1" fill="#f00000"/>
<circle cx="140.3" cy="473.9" r="1.5" fill="#fff" stroke="#f54545" stroke-width="0.8"/>
<line x1="93.7" y1="449.1" x2="95.2" y2="449.1" stroke="#aaa" stroke-width="0.7"/>
<line x1="117.7" y1="515.6" x2="117.7" y2="517.1" stroke="#aaa" stroke-width="0.7"/>
<line x1="93.7" y1="471.1" x2="95.2" y2="471.1" stroke="#aaa" stroke-width="0.7"/>
<line x1="139.7" y1="515.6" x2="139.7" y2="517.1" stroke="#aaa" stroke-width="0.7"/>
<line x1="93.7" y1="493" x2="95.2" y2="493" stroke="#aaa" stroke-width="0.7"/>
<line x1="161.6" y1="515.6" x2="161.6" y2="517.1" stroke="#aaa" stroke-width="0.7"/>
<rect x="95.2" y="426.6" width="89" height="89" fill="none" stroke="#9c9c9c" stroke-width="0.9"/>
<text x="104.8" y="436.6" font-size="8.7" fill="#222">2%</text>
<text x="182.4" y="436.6" font-size="8.7" text-anchor="end" fill="#222">12%</text>
<rect x="95.8" y="503.2" width="20.4" height="9.4" fill="#fff"/>
<text x="98.5" y="510.5" font-size="8.7" fill="#222">61%</text>
<text x="182.4" y="510.5" font-size="8.7" text-anchor="end" fill="#222">26%</text>
<rect x="195.1" y="426.6" width="89.1" height="89" fill="#fff"/>
<polygon points="195.1,486.6 240.5,473.8 249.7,515.6 195.1,515.6" fill="#f4f5b6"/>
<path transform="scale(.5)" d="M458 997h2M459 993h2M444 1002h2M472 989h2M483 996h2M463 990h2M444 998h2M444 998h2M461 985h2M445 995h2M454 1003h2M446 998h2M463 1004h2M446 989h2M474 983h2M481 990h2M481 987h2M442 1007h2M478 996h2M467 1002h2M470 1006h2M468 997h2M471 980h2M468 979h2M465 1000h2M461 1001h2M454 987h2M476 999h2M461 999h2M457 996h2M473 986h2M468 1004h2M460 988h2M462 999h2M437 985h2M447 989h2M457 1001h2M465 988h2M467 984h2M446 994h2M455 994h2M464 987h2M473 998h2M452 999h2M450 997h2M445 1007h2M461 991h2M465 1004h2M474 994h2M458 985h2M474 986h2M463 984h2M465 981h2M446 997h2M484 983h2M459 992h2M477 995h2M470 993h2M458 1001h2M454 986h2M471 988h2M454 1002h2M451 1002h2M451 994h2M451 987h2M453 989h2M480 1000h2M463 1007h2M476 990h2M467 993h2M460 988h2M457 1002h2M448 995h2M465 998h2M462 990h2M462 1003h2M460 998h2M468 1002h2M455 993h2M445 990h2M454 997h2M439 997h2M464 1003h2M482 1003h2M456 986h2M474 981h2M487 1003h2M459 992h2M468 992h2M471 1000h2M482 996h2M467 995h2M453 998h2M454 992h2M449 994h2M459 992h2M470 997h2M469 991h2M455 1005h2M469 998h2M440 994h2M461 1002h2M478 997h2M460 1001h2M456 999h2M478 986h2M479 1003h2M463 1002h2M435 992h2M471 1013h2M486 986h2M451 1003h2M492 993h2M451 995h2M476 1001h2M475 1003h2M473 1001h2M452 985h2M473 1003h2M444 991h2M462 994h2M462 997h2M463 985h2M448 1003h2M453 994h2M439 987h2M485 991h2M465 986h2M454 987h2M466 998h2M462 999h2M483 1004h2M455 1012h2M477 1001h2M444 978h2M461 1000h2M469 997h2M459 1000h2M475 1002h2M464 997h2M455 1002h2M456 1001h2M479 1011h2M462 991h2M458 988h2M442 994h2M444 1013h2M450 981h2M470 994h2M477 987h2M454 995h2M489 998h2M465 989h2M464 1004h2M465 1010h2M452 992h2M475 1002h2M464 989h2M471 988h2M442 1001h2M445 1001h2M473 987h2M481 1000h2M460 1006h2M459 991h2M462 984h2M456 998h2M448 1003h2M448 995h2M479 1000h2M455 991h2M472 997h2M443 993h2M470 997h2M479 1000h2M459 995h2M476 994h2M467 984h2M494 982h2M460 991h2M460 995h2M449 992h2M461 995h2M472 993h2M453 992h2M480 991h2M456 994h2M466 1000h2M480 993h2M455 983h2M465 989h2M459 989h2M453 996h2M470 1002h2M435 975h2M449 990h2M461 990h2M466 1011h2M452 990h2M446 999h2M483 1006h2M470 992h2M470 994h2M464 995h2M477 997h2M467 989h2M446 996h2M463 991h2M476 990h2M441 1006h2M455 984h2M463 1002h2M463 994h2M455 995h2M465 990h2M467 996h2M486 999h2M452 987h2M462 999h2M449 980h2M477 989h2M467 985h2M470 993h2M469 999h2M486 990h2M458 997h2M466 994h2M469 1004h2M448 982h2M442 982h2M473 993h2M464 981h2M473 996h2M462 996h2M460 988h2M459 989h2M465 996h2M458 998h2M457 993h2M479 999h2M476 990h2M462 996h2M483 1003h2M456 1002h2M474 988h2M477 989h2M459 989h2M484 996h2M448 998h2M462 986h2M456 986h2M481 996h2M467 978h2M453 1001h2M461 994h2M453 989h2M477 1002h2M453 994h2M453 990h2M468 1011h2M456 995h2M466 995h2M464 997h2M456 994h2M443 999h2M435 991h2M464 1001h2M458 996h2M469 996h2M465 1002h2M461 987h2M458 995h2M473 1000h2M422 1002h2M440 993h2M468 991h2M460 1001h2M452 982h2M455 1003h2M472 982h2M467 988h2M464 1002h2M440 994h2M474 988h2M453 1004h2M469 997h2M468 991h2M441 999h2M444 998h2M442 993h2M449 1000h2M470 998h2M477 985h2M465 997h2M459 997h2M453 998h2M481 989h2M462 1002h2M451 984h2M462 992h2M469 993h2M456 995h2M456 994h2M442 996h2M468 999h2M452 1009h2M470 992h2M463 1000h2M464 993h2M453 995h2M468 990h2M447 992h2M464 1004h2M481 995h2M490 997h2M448 986h2M468 999h2M463 999h2M457 998h2M472 1003h2M445 995h2M469 991h2M451 999h2M479 998h2M466 1008h2M494 992h2M478 996h2M465 1005h2M445 995h2M431 1012h2" stroke="#ee8a2a" stroke-width="1.4" fill="none" opacity="0.65"/>
<path transform="scale(.5)" d="M478 999h2M462 988h2M467 1001h2M468 992h2M457 998h2M455 997h2M470 994h2M468 997h2M458 1001h2M457 995h2M452 1000h2M450 1004h2M468 996h2M464 992h2M460 993h2M451 997h2M455 999h2M462 987h2M452 994h2M462 993h2M457 1003h2M442 991h2M465 998h2M455 996h2M445 999h2M459 1003h2M450 994h2M467 990h2M458 1001h2M460 992h2M468 996h2M448 998h2M462 989h2M468 993h2M465 996h2M453 992h2M464 1003h2M474 989h2M454 999h2M457 993h2M466 996h2M461 992h2M459 997h2M474 1000h2M456 997h2M468 995h2M451 985h2M439 996h2M460 986h2M466 999h2M457 990h2M473 987h2M461 988h2M465 995h2M463 991h2M453 995h2M470 990h2M472 998h2M471 1002h2M470 995h2M471 991h2M468 989h2M471 991h2M463 1000h2M456 992h2M465 988h2M468 1006h2M455 1002h2M461 1002h2M470 992h2M458 998h2M481 991h2M466 993h2M471 998h2M468 990h2M470 995h2M463 989h2M456 999h2M451 993h2M450 996h2M455 996h2M447 991h2M459 992h2M454 991h2M456 984h2M455 996h2M467 999h2M456 1000h2M455 995h2M473 999h2M459 991h2M472 994h2M458 986h2M460 992h2M463 997h2M450 988h2M473 995h2M474 1005h2M458 999h2M469 996h2M463 1001h2M457 998h2M473 993h2M453 1008h2M461 999h2M468 999h2M459 1000h2M465 991h2M451 994h2M459 999h2M462 994h2M451 995h2M455 993h2M456 993h2M459 1000h2M463 993h2M458 1001h2M449 998h2M461 989h2M471 992h2M461 992h2M458 1001h2M461 994h2M466 999h2M451 1001h2M473 997h2M459 992h2M475 996h2M456 999h2M454 995h2M463 999h2M469 992h2M465 989h2M463 993h2M463 996h2M463 988h2M469 996h2M461 993h2M466 989h2M457 996h2M460 1001h2M455 989h2M459 1006h2M457 996h2M450 991h2M469 996h2M464 987h2M465 996h2M479 995h2M446 984h2M464 986h2M462 990h2M470 993h2M457 996h2M457 993h2M453 991h2M466 997h2M475 997h2M455 995h2M462 992h2M463 989h2M456 994h2M446 1001h2M468 997h2M448 1000h2M469 988h2M451 996h2M468 989h2M471 997h2M457 996h2M452 996h2M460 1000h2M461 993h2M452 1000h2M459 995h2M468 992h2M466 994h2M470 998h2M450 992h2M454 998h2M460 996h2M460 992h2M467 984h2M451 995h2M473 999h2M469 993h2M467 998h2M458 991h2M449 1000h2M450 1002h2M468 996h2M460 997h2M475 989h2M463 1002h2M451 992h2M470 998h2M459 1004h2M462 997h2M466 996h2M450 997h2M452 992h2M472 993h2M450 1000h2M452 992h2M451 994h2M451 989h2M457 996h2M457 991h2M452 994h2M456 994h2M463 995h2M444 992h2M457 994h2M459 1000h2M447 999h2M469 998h2M462 997h2M459 988h2M465 994h2M463 996h2M458 996h2M458 998h2M451 989h2M463 997h2M462 993h2M453 996h2M465 1003h2M472 998h2M451 995h2M474 991h2M470 999h2M468 987h2M460 992h2M474 984h2M459 994h2M465 992h2M457 993h2M451 991h2M466 1004h2M471 999h2M451 998h2M460 992h2M456 999h2M453 995h2M458 994h2M468 988h2M472 995h2M464 984h2M462 992h2M466 985h2M454 997h2M462 997h2M457 999h2M463 989h2M448 1000h2M465 1004h2M459 993h2M462 991h2M463 992h2M471 992h2M459 999h2M449 992h2M469 997h2M467 995h2M457 991h2M469 995h2M469 995h2M452 996h2M454 996h2M452 994h2M473 997h2M447 987h2M453 993h2M464 1001h2M470 996h2M469 994h2M464 991h2M466 992h2M469 994h2M464 987h2M459 993h2M463 994h2M465 985h2M466 987h2M463 994h2M455 993h2M462 1003h2M466 1004h2M453 982h2M455 992h2M464 1000h2M466 996h2M459 1001h2M459 1000h2M462 994h2M458 1000h2M457 995h2M447 989h2M459 996h2M473 1001h2M456 999h2M457 993h2M465 1001h2M467 1001h2M478 1001h2M458 987h2M465 991h2M453 992h2M455 992h2M456 986h2M460 992h2M465 1000h2M463 991h2M455 1004h2M461 991h2M452 997h2M457 994h2M452 990h2M459 996h2M464 996h2M477 995h2M456 1000h2M465 998h2M463 988h2M459 1001h2M456 991h2M452 987h2M462 999h2M456 1000h2M461 991h2" stroke="#e8650c" stroke-width="1.6" fill="none" opacity="0.88"/>
<path transform="scale(.5)" d="M497 997h2M498 967h2M516 948h2M498 975h2M508 962h2M493 967h2M507 979h2M503 977h2M526 980h2M524 942h2M499 967h2M497 951h2M509 976h2M510 919h2M516 953h2M517 959h2M526 942h2M517 976h2M512 982h2M501 980h2M505 963h2M509 958h2M514 992h2M505 955h2M497 997h2M509 984h2M496 958h2M495 992h2M499 990h2M510 934h2M499 969h2M510 964h2M497 962h2M501 1001h2M496 990h2M480 1004h2M475 980h2M495 966h2M512 957h2M500 978h2M496 979h2M504 966h2M509 963h2M498 983h2M495 969h2M507 1007h2M506 960h2M505 982h2M497 974h2M494 1011h2M514 968h2M499 957h2M501 973h2M502 964h2M487 991h2M515 989h2M491 974h2M508 970h2M509 927h2M508 948h2M502 959h2M503 949h2M500 982h2M475 994h2M499 956h2M511 951h2M518 975h2M496 999h2M497 963h2M516 956h2M506 977h2M500 943h2M502 948h2M492 971h2M519 951h2M494 964h2M494 962h2M511 948h2M509 980h2M489 1002h2M507 980h2M495 952h2M512 962h2M502 979h2M505 963h2M487 954h2M515 958h2M503 970h2M504 972h2M495 961h2M513 982h2M496 981h2M500 994h2M501 973h2M499 975h2M507 978h2M510 963h2M511 986h2M507 936h2M508 981h2M498 957h2M503 973h2M483 988h2M498 989h2M493 1001h2M511 919h2M493 983h2M503 964h2M508 994h2M506 957h2M502 978h2M511 958h2M518 965h2M520 947h2M508 971h2M492 955h2M512 962h2M490 998h2M512 955h2M492 986h2M510 965h2M502 963h2M499 971h2M508 962h2M479 1011h2M519 956h2M506 963h2M503 970h2M491 986h2M507 982h2M492 976h2M515 966h2M496 969h2M499 991h2M491 992h2M509 953h2M522 931h2M494 986h2M493 970h2M500 975h2M502 949h2M504 976h2M491 975h2M492 993h2M499 1013h2M504 974h2M494 971h2M501 969h2M504 974h2M521 931h2M497 960h2M507 962h2M488 997h2M486 980h2M516 960h2M512 961h2M513 958h2M518 948h2M499 978h2M511 988h2M513 964h2M507 932h2M500 968h2M486 980h2M488 959h2M516 949h2M510 966h2M486 1006h2M508 975h2M501 980h2M495 952h2M508 973h2M513 952h2M507 979h2M506 937h2M499 937h2M498 1003h2M516 964h2M530 992h2M489 954h2M496 983h2M518 952h2M515 950h2M508 992h2M490 976h2M504 927h2M515 955h2M486 964h2M492 996h2M489 968h2M505 970h2M508 945h2M512 995h2M498 984h2M525 938h2M506 975h2M515 918h2M492 964h2M514 954h2M498 971h2M528 946h2M502 976h2M515 947h2M512 964h2M486 947h2M504 948h2M501 989h2M509 970h2M498 990h2M519 969h2M512 976h2M506 994h2M517 968h2M495 956h2M518 954h2M506 958h2M488 980h2M510 976h2M518 970h2M512 975h2M507 983h2M498 981h2M527 956h2M515 953h2M494 997h2M496 965h2M501 980h2M493 954h2M519 948h2M518 956h2M498 985h2M494 956h2M494 984h2M518 981h2M525 949h2M515 955h2M519 975h2M507 997h2M498 980h2M509 927h2M509 979h2M517 966h2M485 966h2M501 983h2M501 948h2M484 982h2M500 963h2M510 950h2M505 978h2M511 952h2M515 953h2M505 953h2M493 974h2M519 991h2M527 964h2M485 999h2M497 963h2M491 974h2M504 973h2M505 967h2M503 945h2M506 970h2M510 958h2M513 955h2M510 949h2M500 971h2M508 960h2M487 964h2M506 956h2M495 940h2M512 949h2M503 990h2M502 978h2M501 972h2M519 983h2M523 950h2M512 985h2M514 940h2M516 959h2M507 955h2M516 960h2M498 931h2M506 986h2M499 933h2M502 981h2M506 974h2M517 974h2M505 962h2M502 956h2M514 954h2M506 993h2M511 960h2M506 952h2M506 984h2M486 1000h2M512 945h2M501 963h2M514 966h2M503 946h2M523 949h2" stroke="#ee3030" stroke-width="1.3" fill="none" opacity="0.5"/>
<path transform="scale(.5)" d="M522 922h2M514 929h2M524 918h2M495 938h2M499 940h2M501 928h2M512 925h2M520 929h2M505 918h2M488 947h2M501 927h2M534 906h2M504 932h2M517 918h2M504 921h2M518 918h2M527 923h2M489 940h2M506 916h2M536 919h2M500 925h2M503 929h2M518 930h2M523 926h2M496 943h2M528 915h2M515 927h2M518 929h2M518 921h2M511 922h2M527 911h2M510 918h2M526 937h2M513 923h2M521 926h2M518 927h2M497 931h2M528 924h2M500 936h2M523 918h2M523 934h2M501 934h2M516 924h2M510 927h2M522 934h2M507 942h2M530 918h2M520 929h2M530 917h2M505 923h2M506 930h2M523 928h2M501 948h2M505 924h2M535 912h2M502 916h2M514 917h2M497 939h2M532 925h2M503 946h2M501 940h2M519 925h2M502 937h2M491 947h2M496 922h2M515 912h2M510 932h2M524 928h2M522 910h2M523 921h2M534 911h2M519 929h2M539 930h2M514 935h2M539 928h2M528 919h2M530 917h2M565 917h2M520 921h2M526 924h2M532 926h2M529 914h2M521 908h2M530 931h2M516 926h2M510 936h2M498 937h2M514 915h2M508 932h2M494 931h2M539 917h2M532 917h2M520 926h2M500 936h2M514 922h2M520 931h2M515 943h2M538 918h2M535 932h2M500 932h2M522 922h2M490 930h2M527 933h2M527 922h2M536 914h2M482 948h2M540 916h2M504 934h2M524 911h2M500 927h2M517 924h2M526 928h2M515 932h2M526 925h2M509 926h2M510 940h2M505 930h2M494 933h2M513 917h2M510 936h2M542 925h2M513 938h2M533 916h2M480 950h2M525 927h2M517 912h2M534 922h2M543 914h2M525 928h2M539 911h2M509 920h2M509 927h2M539 938h2M520 922h2M532 916h2M502 925h2M509 918h2M519 919h2M519 932h2M527 912h2M559 906h2M514 924h2M540 923h2M513 927h2M494 932h2M500 948h2M507 943h2M487 942h2M512 922h2M527 923h2M478 925h2M506 917h2M496 928h2M536 919h2M537 922h2M521 922h2M514 916h2M510 928h2M515 926h2M542 922h2M529 929h2M522 929h2M548 925h2M521 929h2M522 925h2M513 936h2M494 938h2M514 916h2M513 934h2M531 926h2M493 928h2M499 940h2M514 919h2M510 945h2M503 914h2M517 930h2M500 928h2M513 925h2M546 921h2M519 932h2" stroke="#ee3030" stroke-width="1.3" fill="none" opacity="0.5"/>
<path transform="scale(.5)" d="M498 933h2M504 945h2M467 956h2M481 942h2M479 948h2M485 933h2M451 929h2M502 941h2M492 928h2M497 942h2M492 952h2M472 955h2M469 957h2M473 927h2M458 948h2M470 943h2M478 938h2M485 928h2M473 942h2M513 956h2M473 942h2M487 939h2M487 959h2M459 939h2M488 941h2M454 961h2M474 964h2M472 942h2" stroke="#ee3030" stroke-width="1.3" fill="none" opacity="0.4"/>
<line x1="230.1" y1="426.6" x2="249.7" y2="515.6" stroke="#f54545" stroke-width="0.85"/>
<line x1="195.1" y1="486.6" x2="284.2" y2="461.5" stroke="#f54545" stroke-width="0.85"/>
<circle cx="233.4" cy="442.2" r="2.1" fill="#f00000"/>
<circle cx="269.6" cy="465.5" r="2.1" fill="#f00000"/>
<circle cx="240.5" cy="473.8" r="1.5" fill="#fff" stroke="#f54545" stroke-width="0.8"/>
<line x1="193.6" y1="449.1" x2="195.1" y2="449.1" stroke="#aaa" stroke-width="0.7"/>
<line x1="217.6" y1="515.6" x2="217.6" y2="517.1" stroke="#aaa" stroke-width="0.7"/>
<line x1="193.6" y1="471.1" x2="195.1" y2="471.1" stroke="#aaa" stroke-width="0.7"/>
<line x1="239.6" y1="515.6" x2="239.6" y2="517.1" stroke="#aaa" stroke-width="0.7"/>
<line x1="193.6" y1="493" x2="195.1" y2="493" stroke="#aaa" stroke-width="0.7"/>
<line x1="261.6" y1="515.6" x2="261.6" y2="517.1" stroke="#aaa" stroke-width="0.7"/>
<rect x="195.1" y="426.6" width="89.1" height="89" fill="none" stroke="#9c9c9c" stroke-width="0.9"/>
<text x="201.5" y="436.6" font-size="8.7" fill="#222">1%</text>
<text x="282.4" y="436.6" font-size="8.7" text-anchor="end" fill="#222">12%</text>
<rect x="195.7" y="503.2" width="19.7" height="9.4" fill="#fff"/>
<text x="197.7" y="510.5" font-size="8.7" fill="#222">61%</text>
<text x="282.4" y="510.5" font-size="8.7" text-anchor="end" fill="#222">27%</text>
<rect x="300.2" y="426.6" width="89.2" height="88.8" fill="#fff"/>
<polygon points="300.2,486 345.5,473.3 354.8,515.4 300.2,515.4" fill="#f4f5b6"/>
<path transform="scale(.5)" d="M683 1001h2M679 995h2M677 994h2M680 996h2M694 1000h2M702 1000h2M676 987h2M683 1006h2M688 1002h2M686 1005h2M677 990h2M671 996h2M666 995h2M686 998h2M688 986h2M685 1004h2M692 995h2M681 981h2M681 1002h2M660 992h2M702 1005h2M672 986h2M693 994h2M701 988h2M686 1001h2M691 990h2M686 990h2M691 993h2M683 992h2M669 1005h2M682 995h2M665 995h2M689 998h2M686 998h2M695 998h2M676 995h2M670 995h2M687 995h2M680 997h2M680 997h2M673 1006h2M675 990h2M691 989h2M682 997h2M686 999h2M704 1004h2M696 1001h2M685 1000h2M696 1010h2M676 1004h2M674 992h2M686 1000h2M688 992h2M685 998h2M704 994h2M670 994h2M693 992h2M689 998h2M692 1000h2M679 1001h2M675 999h2M681 997h2M682 999h2M669 1005h2M690 992h2M674 988h2M667 996h2M687 995h2M683 1004h2M669 1005h2M678 1007h2M676 989h2M674 1003h2M670 1008h2M682 1002h2M688 1008h2M677 1004h2M692 998h2M686 1006h2M698 1001h2M687 989h2M678 1003h2M686 991h2M685 997h2M669 985h2M674 994h2M689 1002h2M675 996h2M691 986h2M668 990h2M685 1006h2M679 996h2M672 1002h2M677 1010h2M676 1000h2M704 1000h2M691 1009h2M680 985h2M701 1001h2M684 1000h2M681 1003h2M693 1001h2M687 996h2M682 992h2M676 1008h2M680 1003h2M678 987h2M672 992h2M677 1004h2M676 1002h2M671 996h2M674 997h2M692 997h2M694 1001h2M685 996h2M675 997h2M678 991h2M684 1006h2M693 992h2M676 996h2M671 998h2M673 996h2M682 989h2M687 993h2M698 995h2M663 983h2M676 999h2M684 1014h2M670 993h2M677 993h2M665 998h2M679 993h2M692 990h2M701 997h2M676 994h2M682 994h2M697 1002h2M692 999h2M690 1000h2M690 1006h2M681 1001h2M673 1003h2M680 997h2M692 1003h2M683 1007h2M691 994h2M691 999h2M687 990h2M689 996h2M668 997h2M678 1001h2M689 995h2M679 1007h2M672 1008h2M683 1003h2M671 1012h2M694 992h2M689 986h2M682 995h2M689 992h2M679 991h2M697 994h2M676 1001h2M697 1006h2M684 996h2M685 1003h2M677 997h2M680 999h2M689 1007h2M683 998h2M681 1000h2M704 999h2M674 992h2M678 1003h2M671 1013h2M664 998h2M686 1004h2M687 1007h2M675 1000h2M671 999h2M689 996h2M675 990h2M703 995h2M699 1002h2M688 1003h2M681 992h2M690 1009h2M667 987h2M692 991h2M700 999h2M667 991h2M680 996h2M692 1001h2M684 991h2M680 990h2M699 1002h2M687 1008h2M694 997h2M679 1006h2M685 987h2M671 993h2M666 1005h2M674 1002h2M688 997h2M695 990h2M671 986h2M696 1003h2M677 1004h2M669 998h2M687 1001h2M688 997h2M678 994h2M685 993h2M688 994h2M689 992h2M680 1006h2M677 1000h2M715 998h2M690 1007h2M674 1002h2M688 999h2M690 999h2M691 1001h2M667 993h2M681 999h2M689 991h2M693 994h2M698 997h2M686 994h2M675 1000h2M706 1000h2M673 1010h2M684 999h2M696 1001h2M683 994h2M699 998h2M690 998h2M692 1005h2M698 999h2M687 997h2M669 993h2M695 999h2M692 1004h2M687 989h2M688 1006h2M679 998h2M676 990h2M692 996h2M675 1004h2M693 1004h2M680 992h2M679 996h2M674 1008h2M679 1003h2M686 1010h2M685 1005h2M687 996h2M691 1000h2M680 994h2M685 1000h2M678 1005h2M694 1002h2M696 995h2M691 990h2M702 999h2M679 983h2M677 997h2M684 1007h2M710 998h2M691 986h2M690 997h2M685 994h2M696 1003h2M691 987h2M699 998h2M694 993h2M702 1004h2M667 1000h2M682 992h2M686 1003h2M671 996h2M679 1005h2M696 1001h2M691 1003h2M698 996h2M676 996h2M699 995h2M680 999h2M694 984h2M681 1008h2M697 998h2M689 998h2M682 988h2M683 990h2M688 990h2M705 1002h2M677 992h2M697 992h2M689 1002h2M691 992h2M694 985h2M696 980h2M684 997h2M683 1009h2M679 1002h2M695 1001h2M699 990h2M698 1008h2M691 994h2M687 1005h2M679 1013h2M691 1002h2M682 988h2M679 999h2M678 993h2M673 997h2M689 1004h2M685 1009h2M700 1005h2M683 997h2M714 1001h2M689 993h2M682 1000h2M694 996h2M682 1004h2M698 1004h2M677 1000h2M673 998h2M711 996h2M692 1006h2" stroke="#ee8a2a" stroke-width="1.4" fill="none" opacity="0.65"/>
<path transform="scale(.5)" d="M692 998h2M694 999h2M685 991h2M691 998h2M688 996h2M693 998h2M702 996h2M692 992h2M691 997h2M676 991h2M684 1000h2M677 1004h2M684 1001h2M694 990h2M698 994h2M687 998h2M675 995h2M695 996h2M693 998h2M685 992h2M674 998h2M694 999h2M686 1000h2M688 992h2M674 998h2M682 997h2M696 1000h2M681 990h2M691 993h2M686 993h2M688 999h2M691 993h2M682 989h2M688 993h2M687 999h2M682 1004h2M689 1002h2M685 999h2M679 991h2M697 998h2M692 997h2M685 999h2M690 996h2M677 998h2M686 992h2M688 996h2M689 994h2M680 1002h2M686 988h2M689 990h2M680 998h2M699 995h2M684 1004h2M675 998h2M684 997h2M695 994h2M677 998h2M698 999h2M692 996h2M688 997h2M689 998h2M696 985h2M680 988h2M685 999h2M684 999h2M691 998h2M683 997h2M684 999h2M685 994h2M689 994h2M692 999h2M682 992h2M687 997h2M687 999h2M691 994h2M696 1002h2M683 999h2M681 997h2M685 994h2M687 1001h2M693 994h2M686 1003h2M692 1004h2M688 996h2M697 1001h2M689 1006h2M697 1000h2M694 997h2M678 1001h2M687 997h2M683 999h2M683 993h2M688 996h2M680 999h2M691 998h2M699 997h2M699 994h2M689 994h2M691 999h2M682 997h2M690 999h2M684 996h2M686 995h2M688 994h2M691 1001h2M686 995h2M697 994h2M685 1001h2M693 994h2M689 1000h2M685 1002h2M695 1003h2M689 990h2M683 995h2M693 998h2M682 997h2M688 995h2M680 1003h2M690 994h2M671 991h2M679 995h2M684 993h2M690 996h2M681 994h2M694 994h2M685 990h2M685 1005h2M676 996h2M693 992h2M684 994h2M685 993h2M689 999h2M694 994h2M687 992h2M694 999h2M687 996h2M685 1005h2M689 991h2M700 987h2M691 998h2M683 995h2M692 1001h2M692 995h2M685 1000h2M691 993h2M690 1000h2M678 991h2M693 987h2M678 992h2M691 993h2M682 1002h2M684 996h2M687 999h2M685 999h2M691 988h2M690 1000h2M699 995h2M684 999h2M686 998h2M689 995h2M684 999h2M682 992h2M685 991h2M688 1001h2M701 994h2M676 996h2M686 998h2M678 1001h2M701 994h2M686 994h2M693 1001h2M675 995h2M690 999h2M690 998h2M692 996h2M696 998h2M692 997h2M699 995h2M688 1004h2M680 1001h2M691 995h2M691 995h2M683 992h2M689 997h2M689 993h2M682 997h2M681 994h2M698 992h2M689 993h2M690 997h2M695 999h2M680 998h2M684 996h2M690 999h2M694 998h2M690 1005h2M687 998h2M687 997h2M687 999h2M691 997h2M675 998h2M698 995h2M681 991h2M687 1002h2M691 991h2M680 993h2M680 1000h2M686 1002h2M685 997h2M689 995h2M686 996h2M691 997h2M689 996h2M682 993h2M686 996h2M689 994h2M680 997h2M677 996h2M684 994h2M684 1002h2M678 992h2M680 993h2M698 1002h2M690 998h2M687 997h2M697 993h2M697 990h2M686 994h2M701 985h2M681 1002h2M674 997h2M681 991h2M692 993h2M690 1000h2M702 995h2M699 1002h2M688 998h2M682 997h2M680 1002h2M693 1000h2M682 998h2M688 993h2M685 1007h2M691 997h2M702 995h2M689 997h2M699 998h2M685 999h2M679 1002h2M694 998h2M668 1000h2M691 998h2M683 998h2M684 1001h2M680 989h2M687 985h2M681 997h2M680 992h2M687 990h2M693 999h2" stroke="#e8650c" stroke-width="1.6" fill="none" opacity="0.88"/>
<path transform="scale(.5)" d="M704 991h2M705 995h2M705 1000h2M702 989h2M710 992h2M707 984h2M708 977h2M706 986h2M714 992h2M710 980h2M707 998h2M702 992h2M704 993h2M703 983h2M706 999h2M702 1004h2M709 980h2M711 1003h2M705 990h2M709 995h2M718 980h2M703 993h2M713 989h2M710 988h2M712 987h2M719 990h2M704 984h2M702 986h2M711 997h2M701 982h2M698 1002h2M709 983h2M709 989h2M707 990h2M705 985h2M707 984h2M717 969h2M696 994h2M711 981h2M694 975h2M712 975h2M710 988h2M705 979h2M705 984h2M709 997h2M712 1000h2M699 992h2M709 990h2M709 993h2M702 984h2M708 990h2M712 988h2M717 981h2M708 1001h2M718 986h2M722 984h2M703 985h2M706 998h2M699 986h2M706 981h2M704 984h2M706 1000h2M724 983h2M703 978h2M715 977h2M705 989h2M714 987h2M711 992h2M702 989h2M704 984h2M696 990h2M702 985h2M711 988h2M711 996h2M709 991h2M708 974h2M716 971h2M697 993h2M704 982h2M713 985h2M710 992h2M705 996h2M709 986h2M702 992h2M719 982h2M718 979h2M708 971h2M712 993h2M695 979h2M712 989h2M712 998h2M711 977h2M704 1005h2M702 986h2M711 973h2M714 999h2M709 1004h2M713 989h2M708 982h2M701 994h2M709 995h2M709 971h2M705 986h2M708 990h2M723 982h2M702 983h2M712 982h2M704 986h2M710 996h2M709 999h2M704 985h2M718 991h2M704 980h2M702 984h2M701 998h2M714 989h2M712 979h2M715 985h2M713 988h2M700 989h2M704 978h2M709 996h2M706 991h2M712 986h2M712 992h2M708 1000h2M714 982h2M710 987h2M706 992h2M718 992h2" stroke="#ee3030" stroke-width="1.3" fill="none" opacity="0.65"/>
<path transform="scale(.5)" d="M713 944h2M711 963h2M742 943h2M724 953h2M708 966h2M721 941h2M737 907h2M704 962h2M727 975h2M708 973h2M716 987h2M726 941h2M735 941h2M742 921h2M722 973h2M736 965h2M723 953h2M688 985h2M725 960h2M737 967h2M730 953h2M712 969h2M726 949h2M693 966h2M694 985h2M729 952h2M721 990h2M756 930h2M717 958h2M713 956h2M710 954h2M700 971h2M687 1004h2M689 984h2M721 982h2M700 950h2M740 954h2M727 966h2M716 950h2M729 945h2M712 963h2M719 992h2M738 942h2M712 991h2M704 962h2M702 1013h2M719 945h2M715 985h2M747 944h2M724 943h2M708 956h2M714 962h2M727 983h2M719 930h2M721 954h2M720 952h2M733 965h2M702 970h2M697 988h2M727 927h2M716 967h2M711 951h2M710 960h2M699 966h2M717 972h2M735 925h2M711 980h2M699 954h2M735 950h2M711 974h2M733 968h2M758 924h2M709 962h2M703 990h2M712 957h2M727 943h2M712 980h2M723 947h2M705 976h2M720 992h2M701 953h2M733 933h2M701 973h2M707 964h2M720 949h2M710 979h2M706 956h2M750 924h2M709 968h2M721 947h2M714 941h2M704 990h2M710 943h2M713 954h2M734 947h2M734 953h2M705 955h2M699 955h2M728 995h2M710 981h2M727 940h2M714 952h2M716 957h2M715 950h2M718 949h2M691 975h2M714 967h2M709 970h2M707 965h2M714 950h2M723 929h2M728 955h2M717 954h2M702 963h2M727 948h2M722 951h2M720 948h2M736 952h2M714 992h2M710 985h2M714 993h2M721 995h2M727 936h2M705 988h2M712 949h2M710 970h2M713 946h2M723 955h2M725 925h2M744 913h2M718 946h2M711 949h2M719 966h2M700 949h2M726 980h2M715 968h2M708 954h2M718 949h2M714 952h2M699 987h2M734 952h2M726 953h2M702 966h2M705 949h2M716 964h2M715 982h2M705 946h2M737 936h2M713 974h2M745 916h2M729 987h2M726 953h2M737 955h2M719 959h2M746 942h2M730 927h2M739 921h2M724 954h2M730 948h2M742 916h2M697 961h2M730 951h2M713 980h2M731 973h2M710 963h2M717 976h2M739 959h2M715 972h2M704 963h2M709 948h2M695 990h2M707 989h2M698 970h2M724 964h2M709 949h2M719 969h2M724 967h2M698 979h2M729 974h2M713 961h2M694 950h2M718 959h2M707 989h2M712 959h2M725 961h2M719 992h2M726 951h2M737 936h2M718 984h2M707 981h2M717 982h2M723 947h2M708 953h2M737 931h2M712 955h2M714 964h2M722 952h2M713 975h2M690 962h2M718 959h2M697 975h2M709 953h2M726 972h2M692 981h2M711 1004h2M726 928h2M730 958h2M736 941h2M712 960h2M726 967h2M688 950h2M734 934h2M714 964h2M734 947h2M725 935h2M722 960h2M718 953h2M719 973h2M733 950h2M694 974h2M742 958h2M728 940h2M752 947h2M715 952h2M700 996h2M732 968h2M726 938h2M740 942h2M717 956h2M733 934h2M690 1011h2M722 957h2M745 955h2M707 965h2M732 941h2M723 943h2M725 948h2M725 948h2M719 961h2M726 959h2M744 963h2M692 976h2M740 915h2M713 981h2M742 945h2M694 975h2M737 976h2M741 933h2M751 947h2M730 959h2M734 933h2M720 943h2M706 990h2M727 951h2M702 957h2M723 954h2M715 959h2M721 964h2M696 974h2M693 987h2M705 973h2M743 920h2M719 941h2M685 978h2M699 964h2M722 973h2M716 980h2M722 947h2M733 945h2M717 941h2M713 958h2M711 965h2M718 987h2M713 972h2M711 949h2M707 976h2M720 943h2M723 973h2M725 960h2M722 962h2M716 948h2M724 969h2M735 943h2M707 943h2M714 965h2M713 976h2M729 942h2M709 982h2M711 981h2M719 978h2M719 979h2M709 980h2M710 952h2M713 918h2M717 937h2M705 977h2M725 956h2M723 998h2M715 983h2M709 946h2M710 988h2M736 911h2M699 974h2M708 969h2M729 961h2M723 945h2M733 947h2M726 942h2M711 962h2M721 956h2M743 953h2M725 946h2M721 980h2M731 968h2M737 958h2M708 985h2M721 975h2M727 952h2M697 970h2M719 945h2M715 956h2M728 984h2M700 969h2M714 944h2M709 991h2M716 978h2M710 974h2M705 959h2M690 939h2M735 965h2M697 990h2M716 972h2M717 948h2M709 953h2M724 935h2M734 960h2M747 922h2M759 939h2M718 940h2M692 999h2M719 958h2M722 974h2M736 957h2M688 994h2M710 973h2M716 946h2M713 948h2M726 965h2M728 940h2M725 958h2M724 975h2M741 935h2M725 994h2M716 990h2M718 964h2M706 971h2M717 966h2M731 954h2M712 979h2M705 960h2M718 953h2M723 930h2M742 961h2M716 986h2M699 968h2M721 951h2M711 990h2M724 958h2M716 958h2M694 945h2M746 940h2M706 963h2M719 984h2M729 962h2M689 1005h2M729 935h2M717 966h2M718 954h2M711 971h2M714 962h2M730 979h2M735 951h2M703 962h2M699 969h2M723 960h2M742 932h2M733 927h2M707 927h2M733 968h2M719 925h2M720 958h2M712 957h2M723 935h2M700 967h2M721 933h2M723 969h2M718 1005h2M735 931h2M723 959h2M711 987h2M726 964h2M723 940h2M729 961h2M732 930h2M718 950h2M688 946h2M724 947h2M706 947h2M741 926h2M709 985h2M712 942h2M717 961h2M717 954h2M715 953h2M720 969h2M717 970h2M716 951h2M710 934h2M712 986h2M722 921h2M705 971h2M729 937h2M729 954h2M717 971h2M713 959h2M726 956h2M714 973h2M733 973h2M726 949h2M720 951h2M717 929h2M716 958h2M687 993h2M696 958h2M704 967h2M731 957h2M745 933h2M722 951h2M705 960h2M722 940h2M715 929h2M723 961h2M718 975h2M721 942h2M697 992h2M722 948h2M712 951h2M734 937h2M698 970h2M731 921h2M730 961h2M709 961h2M716 973h2M722 976h2M735 942h2M721 975h2M725 953h2M749 924h2M697 999h2M702 961h2M710 971h2M705 977h2M703 950h2M728 950h2M720 973h2M695 971h2M694 980h2M727 934h2M702 976h2M746 934h2" stroke="#ee3030" stroke-width="1.3" fill="none" opacity="0.5"/>
<path transform="scale(.5)" d="M734 915h2M716 917h2M740 922h2M739 915h2M734 915h2M740 916h2M742 924h2M729 917h2M749 917h2M724 914h2M729 944h2M733 924h2M726 943h2M738 943h2M731 927h2M747 901h2M758 918h2M708 925h2M722 938h2M739 914h2M737 929h2M757 918h2M738 906h2M735 940h2M707 926h2M737 922h2M744 909h2M741 922h2M721 931h2M716 937h2M746 928h2M730 933h2M725 918h2M727 905h2M728 925h2M751 915h2M753 924h2M717 949h2M740 925h2M727 923h2M711 936h2M732 921h2M733 926h2M717 925h2M737 928h2M746 910h2M715 919h2M716 935h2M723 934h2M738 927h2M747 905h2M714 915h2M712 918h2M724 943h2M725 938h2M757 919h2M748 933h2M701 951h2M728 941h2M731 926h2M727 948h2M730 943h2M720 921h2M737 932h2M758 931h2M699 967h2M732 921h2M753 920h2M737 928h2M725 919h2M737 921h2M745 921h2M739 907h2M739 925h2M709 930h2M733 916h2M740 912h2M721 939h2M704 949h2M734 921h2M744 917h2M703 914h2M741 920h2M724 947h2M729 932h2M745 931h2M714 935h2M734 917h2M722 929h2M755 928h2M728 936h2M728 917h2M731 917h2M725 936h2M730 930h2M732 943h2M742 911h2M714 913h2M724 929h2M715 917h2M724 924h2M736 920h2M727 928h2M735 948h2M725 937h2M725 925h2M737 915h2M730 940h2M744 919h2M755 901h2M731 931h2M747 908h2M713 941h2M733 945h2M736 912h2M738 926h2M717 928h2M739 919h2M771 919h2M732 902h2M712 927h2M725 944h2M718 925h2M729 914h2M751 912h2M744 922h2M761 916h2M738 932h2M743 936h2M756 923h2M734 930h2M754 922h2M744 909h2M721 938h2M732 941h2M726 923h2M729 934h2M738 933h2M722 932h2M751 919h2M735 913h2M739 915h2M745 926h2M723 949h2M738 912h2M727 943h2M754 913h2M707 928h2M737 899h2M717 929h2M733 930h2M735 910h2M715 932h2M724 930h2M741 927h2M713 938h2M703 940h2M739 932h2M745 925h2M750 915h2M735 920h2M734 922h2M736 899h2M732 926h2M735 915h2M698 950h2M731 927h2M720 935h2M714 926h2M733 929h2M727 927h2M746 900h2M745 899h2M735 905h2M758 916h2M733 929h2M706 938h2M717 941h2M740 930h2M726 913h2M728 918h2M728 924h2M706 943h2M739 929h2M733 917h2M745 935h2M728 932h2M725 931h2M738 923h2M704 942h2M718 911h2M722 921h2M746 911h2M752 922h2M755 921h2M727 924h2M739 964h2M722 900h2M737 914h2M735 945h2M696 951h2M728 909h2M728 936h2M709 941h2M724 943h2M732 939h2M723 929h2M724 922h2M729 922h2M715 930h2M733 911h2M725 929h2M709 934h2M713 926h2M707 908h2M743 925h2M728 917h2M721 921h2M734 935h2M719 921h2M729 937h2M737 921h2M724 907h2M728 924h2M726 920h2M725 929h2M738 919h2M729 930h2M740 929h2M707 938h2M752 928h2M720 919h2M715 932h2M742 924h2M749 921h2M752 934h2M738 919h2M733 933h2M728 925h2M750 917h2M720 916h2M739 922h2M742 914h2M752 941h2M701 933h2M733 932h2M706 954h2M746 928h2M736 915h2M722 924h2M718 947h2M716 919h2M716 933h2M741 934h2M722 911h2M749 908h2M714 923h2M708 930h2M760 919h2M715 922h2M707 929h2M742 932h2M755 925h2M729 922h2M732 914h2M735 910h2M722 933h2M731 926h2M744 927h2M725 930h2M757 917h2M705 921h2M719 938h2M716 912h2M726 944h2M719 915h2M737 918h2M750 904h2M714 947h2" stroke="#ee3030" stroke-width="1.3" fill="none" opacity="0.5"/>
<path transform="scale(.5)" d="M694 929h2M705 933h2M704 963h2M681 945h2M684 951h2M679 939h2M684 927h2M705 963h2M702 943h2M704 944h2M683 950h2M682 938h2M711 943h2M700 924h2M699 942h2M693 924h2M703 921h2M712 944h2M691 927h2M688 933h2M675 939h2M691 938h2M681 955h2M673 938h2M698 946h2M699 949h2M696 920h2M673 922h2" stroke="#ee3030" stroke-width="1.3" fill="none" opacity="0.4"/>
<line x1="335.2" y1="426.6" x2="354.8" y2="515.4" stroke="#f54545" stroke-width="0.85"/>
<line x1="300.2" y1="486" x2="389.4" y2="461.1" stroke="#f54545" stroke-width="0.85"/>
<circle cx="338.7" cy="442" r="2.1" fill="#f00000"/>
<circle cx="374.9" cy="465.2" r="2.1" fill="#f00000"/>
<circle cx="345.5" cy="473.3" r="1.5" fill="#fff" stroke="#f54545" stroke-width="0.8"/>
<line x1="298.7" y1="449" x2="300.2" y2="449" stroke="#aaa" stroke-width="0.7"/>
<line x1="322.7" y1="515.4" x2="322.7" y2="516.9" stroke="#aaa" stroke-width="0.7"/>
<line x1="298.7" y1="471" x2="300.2" y2="471" stroke="#aaa" stroke-width="0.7"/>
<line x1="344.7" y1="515.4" x2="344.7" y2="516.9" stroke="#aaa" stroke-width="0.7"/>
<line x1="298.7" y1="492.9" x2="300.2" y2="492.9" stroke="#aaa" stroke-width="0.7"/>
<line x1="366.8" y1="515.4" x2="366.8" y2="516.9" stroke="#aaa" stroke-width="0.7"/>
<rect x="300.2" y="426.6" width="89.2" height="88.8" fill="none" stroke="#9c9c9c" stroke-width="0.9"/>
<text x="308" y="436.6" font-size="8.7" fill="#222">1%</text>
<text x="387.6" y="436.6" font-size="8.7" text-anchor="end" fill="#222">16%</text>
<rect x="300.8" y="503" width="20" height="9.4" fill="#fff"/>
<text x="303.1" y="510.3" font-size="8.7" fill="#222">44%</text>
<text x="387.6" y="510.3" font-size="8.7" text-anchor="end" fill="#222">39%</text>
<rect x="399.4" y="425.5" width="89" height="89.1" fill="#fff"/>
<polygon points="399.4,485.2 444.4,472.8 453.5,514.6 399.4,514.6" fill="#f4f5b6"/>
<path transform="scale(.5)" d="M892 1001h2M886 994h2M882 994h2M895 989h2M892 992h2M887 999h2M894 990h2M870 997h2M889 993h2M896 985h2M894 997h2M890 993h2M898 992h2M894 998h2M887 994h2M891 987h2M895 994h2M893 989h2M886 988h2M868 1001h2M904 981h2M887 990h2M874 990h2M882 997h2M891 999h2M876 989h2M893 979h2M888 1002h2M899 988h2M884 991h2M890 991h2M900 991h2M895 994h2M886 988h2M888 996h2M891 997h2M877 989h2M893 988h2M893 998h2M885 1000h2M885 996h2M891 997h2M898 982h2M885 994h2M887 994h2M886 992h2M889 997h2M894 998h2M882 993h2M875 992h2M888 1001h2M899 990h2M883 990h2M895 998h2M891 992h2M882 1002h2M891 1002h2M885 998h2M887 994h2M887 994h2M882 991h2M888 1004h2M900 994h2M892 995h2M899 994h2M882 993h2M908 986h2M894 995h2M892 998h2M885 987h2M883 983h2M890 990h2M899 992h2M892 996h2M907 989h2M887 995h2M879 988h2M886 983h2M899 999h2M898 993h2M882 990h2M884 989h2M898 996h2M877 986h2M894 994h2M883 999h2M887 991h2M886 997h2M895 1001h2M899 1005h2M886 998h2M898 988h2M894 986h2M883 992h2M884 1003h2M892 992h2M887 998h2M887 996h2M896 1004h2M892 993h2M881 992h2M898 990h2M894 995h2M893 995h2M894 994h2M880 997h2M891 995h2M884 991h2M887 993h2M902 992h2M886 995h2M900 994h2M888 1003h2M889 994h2M896 988h2M894 992h2M879 985h2M893 992h2M885 995h2M887 991h2M892 1000h2M886 994h2M876 989h2M889 997h2M888 997h2M885 992h2M882 995h2M889 989h2M890 999h2M887 985h2M897 991h2M888 987h2M890 993h2M880 984h2M888 994h2M906 993h2M876 986h2M896 995h2M891 984h2M889 990h2M889 993h2M890 991h2M879 996h2M900 986h2M892 984h2M899 1000h2M893 986h2M895 1001h2M895 996h2M891 997h2" stroke="#ee8a2a" stroke-width="1.4" fill="none" opacity="0.75"/>
<path transform="scale(.5)" d="M892 989h2M889 988h2M892 996h2M892 986h2M890 988h2M888 996h2M894 983h2M890 988h2M895 996h2M893 992h2M897 990h2M895 994h2M884 984h2M893 987h2M892 993h2M901 989h2M891 984h2M891 999h2M891 991h2M892 994h2M890 993h2M898 991h2M893 989h2M894 991h2M897 984h2M887 988h2M898 994h2M891 990h2M893 989h2M890 991h2M890 993h2M890 994h2M894 990h2M894 989h2M893 987h2M896 989h2M891 985h2M887 992h2M889 989h2M891 993h2M896 990h2M895 989h2M895 988h2M894 993h2M890 988h2M890 991h2M885 996h2M893 996h2M889 991h2M893 992h2M893 993h2M890 993h2M899 990h2M891 988h2M889 985h2M897 995h2M890 995h2M898 997h2M895 991h2M887 994h2M891 995h2M896 993h2M894 996h2M895 992h2M895 989h2M894 998h2M891 987h2M891 994h2M893 990h2M895 995h2M895 988h2M889 990h2M890 988h2M900 995h2M895 989h2M891 986h2M888 987h2M893 991h2M894 991h2M891 987h2M888 997h2M897 984h2M891 990h2M893 989h2M893 989h2M890 990h2M895 986h2M890 988h2M890 989h2M899 987h2M893 993h2M893 987h2M889 996h2M895 986h2M894 997h2M892 990h2M895 999h2M894 992h2M888 991h2M892 993h2M890 979h2M888 987h2M894 988h2M884 986h2M893 993h2M891 1001h2M897 981h2M895 988h2M895 992h2M894 988h2M886 994h2M890 990h2M888 993h2M892 997h2M893 991h2M891 993h2M890 990h2M892 987h2M891 993h2M890 991h2M900 990h2M890 989h2M890 988h2M892 992h2M892 991h2M895 986h2M899 990h2M888 995h2M898 994h2M893 990h2" stroke="#e8650c" stroke-width="1.6" fill="none" opacity="0.88"/>
<path transform="scale(.5)" d="M922 955h2M913 961h2M925 965h2M908 977h2M914 961h2M919 966h2M919 952h2M907 971h2M919 944h2M893 986h2M918 952h2M909 966h2M915 954h2M907 974h2M924 942h2M919 970h2M927 942h2M892 984h2M928 949h2M920 955h2M934 935h2M925 944h2M939 940h2M934 929h2M910 978h2M933 937h2M934 942h2M915 963h2M895 1007h2M946 914h2M910 972h2M917 957h2M909 971h2M917 952h2M909 967h2M900 974h2M922 945h2M946 921h2M938 933h2M922 955h2M914 964h2M907 967h2M932 940h2M916 953h2M918 946h2M918 966h2M917 962h2M929 942h2M913 980h2M932 937h2M900 995h2M916 954h2M906 964h2M917 950h2M909 977h2M933 942h2M936 931h2M903 967h2M945 913h2M942 929h2M909 973h2M910 962h2M909 972h2M943 942h2M960 897h2M937 919h2M933 936h2M885 1009h2M946 931h2M922 954h2M917 950h2M902 979h2M918 968h2M915 957h2M909 981h2M921 943h2M911 968h2M911 967h2M931 931h2M927 947h2M932 945h2M923 948h2M918 954h2M930 945h2M925 956h2M935 943h2M927 943h2M908 969h2M923 959h2M923 958h2M935 950h2M942 925h2M940 930h2M912 965h2M886 999h2M912 992h2M925 952h2M918 955h2M920 955h2M918 959h2M915 955h2M924 937h2M908 965h2M887 996h2M932 940h2M926 950h2M903 960h2M925 937h2M913 956h2M931 953h2M940 931h2M897 985h2M941 922h2M910 968h2M909 958h2M917 968h2M918 963h2M899 987h2M906 975h2M919 954h2M912 962h2M898 975h2M897 993h2M926 938h2M918 957h2M934 932h2M922 949h2M919 960h2M928 942h2M916 952h2M908 978h2M926 958h2M923 952h2M942 927h2M917 958h2M930 954h2M908 976h2M931 933h2M920 965h2M933 952h2M909 974h2M912 959h2M927 930h2M925 940h2M902 999h2M903 972h2M910 959h2M921 953h2M923 956h2M925 946h2M924 946h2M920 957h2M919 968h2M941 929h2M938 926h2M916 957h2M925 950h2M922 943h2M906 978h2M918 970h2M925 946h2M931 936h2M917 964h2M908 965h2M955 917h2M917 968h2M900 991h2M914 965h2M908 975h2M931 944h2M910 960h2M909 966h2M896 986h2M927 954h2M928 960h2M896 989h2M928 946h2M916 963h2M916 956h2M930 936h2M912 968h2M925 957h2M916 950h2M902 989h2M944 911h2M918 964h2M919 955h2M911 959h2M916 949h2M925 946h2M921 961h2M910 964h2M910 970h2M921 947h2M908 964h2M918 954h2M922 943h2M910 971h2M907 960h2M915 975h2M918 953h2M934 930h2M910 978h2M917 956h2M933 945h2M929 934h2M907 967h2M911 961h2M913 979h2M910 955h2M927 945h2M931 954h2M910 964h2M935 943h2M923 957h2M927 950h2M924 950h2M878 1012h2M940 920h2M915 963h2M934 941h2M891 994h2M926 955h2M923 956h2M914 966h2M909 968h2M922 957h2M903 981h2M926 964h2M906 978h2M925 953h2M925 938h2M925 949h2M935 947h2M939 931h2M931 947h2M932 936h2M909 967h2M900 986h2M927 936h2M915 959h2M938 948h2M906 975h2M899 980h2M930 952h2M911 972h2M938 925h2M914 965h2M906 973h2M912 961h2M910 971h2M904 979h2M886 1000h2M915 959h2M924 962h2M915 975h2M928 945h2M898 968h2M929 942h2M911 957h2M926 942h2M927 933h2M924 964h2M929 942h2M938 941h2M913 947h2M937 946h2M916 962h2M916 969h2M912 965h2M894 989h2M910 951h2M921 951h2M907 956h2M923 947h2M929 929h2M910 966h2M937 949h2M931 944h2M924 952h2M919 960h2M923 948h2M943 916h2M921 960h2M916 962h2M909 960h2M902 992h2M936 945h2M894 990h2M917 967h2M926 945h2M898 992h2M918 952h2M902 974h2M936 940h2M910 981h2M908 976h2M924 955h2M903 988h2M937 936h2M903 1007h2M941 936h2M913 963h2M917 958h2M959 901h2M916 964h2M920 949h2M932 939h2M924 943h2M937 928h2M911 979h2M934 939h2M923 951h2M905 985h2M898 992h2M943 934h2M917 966h2M897 979h2M905 978h2M928 931h2M930 953h2M916 962h2M905 973h2M909 972h2M931 931h2M910 971h2M910 982h2M897 984h2M913 968h2M929 942h2M916 966h2M919 967h2M926 930h2M934 934h2M906 966h2M898 979h2M920 961h2M922 966h2M924 944h2M926 954h2M906 964h2M909 973h2M920 957h2M942 915h2M920 962h2M939 935h2M941 922h2M924 944h2M902 988h2M940 933h2M919 960h2M920 966h2M902 983h2M928 946h2M917 957h2M933 939h2M929 945h2M919 973h2M909 980h2M942 921h2M940 917h2M922 943h2M905 976h2M926 940h2M902 974h2M918 952h2M926 946h2M905 966h2M913 955h2M917 965h2M944 919h2M917 960h2M923 963h2M873 1015h2M920 955h2M925 966h2M910 983h2M910 980h2M905 964h2M901 977h2M944 922h2M917 951h2M922 944h2M923 963h2M933 922h2M906 968h2M920 949h2M921 975h2M917 958h2M910 963h2M900 976h2M925 942h2M943 934h2M918 956h2M930 946h2M917 953h2M931 950h2M955 923h2M932 940h2M927 941h2M910 959h2M912 972h2M899 981h2M922 967h2M896 994h2M893 984h2M919 949h2M919 948h2M935 940h2M925 962h2M924 953h2M909 965h2M900 995h2M889 999h2M911 971h2M924 939h2M914 965h2M913 968h2M923 941h2M923 957h2M910 975h2M928 950h2M917 929h2M928 959h2M913 961h2M901 981h2M923 940h2M907 971h2M916 959h2M917 970h2M910 960h2M929 944h2M952 914h2M929 940h2M914 964h2M918 961h2M908 959h2M919 953h2M915 958h2M924 951h2M910 987h2M933 929h2M935 950h2M928 939h2M920 955h2M911 972h2M888 985h2M912 981h2M907 976h2M901 984h2M912 982h2M904 976h2M931 943h2M920 943h2M913 972h2M916 960h2M921 952h2M903 978h2M927 952h2M911 963h2M921 960h2M931 941h2M888 984h2M940 929h2M935 937h2M921 948h2M898 981h2M901 982h2M929 947h2M912 970h2M915 950h2M931 940h2M908 960h2M918 959h2M927 948h2M905 970h2M905 974h2M921 934h2M895 987h2M902 962h2" stroke="#ee3030" stroke-width="1.3" fill="none" opacity="0.75"/>
<path transform="scale(.5)" d="M922 943h2M930 970h2M934 947h2M925 963h2M922 966h2M909 961h2M922 960h2M905 972h2M901 962h2M910 945h2M936 938h2M935 950h2M881 978h2M930 972h2M907 986h2M940 940h2M902 972h2M893 1006h2M939 938h2M887 972h2M936 948h2M942 966h2M919 936h2M904 936h2M911 948h2M945 932h2M916 966h2M915 938h2M922 934h2M877 978h2M913 965h2M908 921h2M917 951h2M912 932h2M941 915h2M916 972h2M938 920h2M925 948h2M951 909h2M910 958h2M917 938h2M898 946h2M923 952h2M931 964h2M942 963h2M911 923h2M936 904h2M901 992h2M945 953h2M889 974h2M910 969h2M926 947h2M922 934h2M912 960h2M908 959h2M903 944h2M936 965h2M916 962h2M921 938h2M949 932h2M910 961h2M943 941h2M907 955h2M935 952h2M942 932h2M930 921h2M941 936h2M935 950h2M923 948h2M899 958h2M913 934h2M925 940h2M936 931h2M890 941h2M941 933h2M931 944h2M930 971h2M906 966h2M905 966h2M914 968h2M902 948h2M921 950h2M886 964h2M914 942h2M942 920h2M915 958h2M914 935h2M915 966h2M922 947h2M936 940h2M905 957h2M917 948h2M935 937h2M928 912h2M936 933h2M898 964h2M915 994h2M901 961h2M940 932h2M906 926h2M918 946h2M916 961h2M929 930h2M903 964h2M897 961h2M929 936h2M925 935h2M910 962h2M900 965h2M898 954h2M944 934h2M955 926h2M928 961h2M910 973h2M912 967h2M931 928h2M914 960h2M913 962h2M919 930h2M925 915h2M895 995h2M902 952h2M923 977h2M887 994h2M919 967h2M930 937h2M921 942h2M903 979h2M918 954h2M933 945h2M900 992h2M930 965h2M913 961h2M912 975h2M933 913h2M936 952h2M914 955h2M923 948h2M902 962h2M920 924h2M908 915h2M945 968h2M933 959h2M929 917h2M913 954h2M886 967h2M931 949h2M936 934h2M902 994h2M886 988h2M928 951h2M907 968h2M914 929h2M932 958h2M930 922h2M927 953h2M906 987h2M926 962h2M917 974h2M939 920h2M895 950h2M924 953h2M934 985h2M928 931h2M925 958h2M944 914h2M925 935h2M904 977h2M932 964h2M942 935h2M905 975h2M916 964h2M898 934h2M898 947h2M899 930h2M909 963h2M908 997h2M956 920h2M909 954h2M958 902h2M923 952h2M945 943h2M895 953h2M902 946h2M907 971h2M910 951h2M889 962h2M936 919h2M958 935h2M947 914h2M918 934h2M940 941h2M889 971h2M904 974h2M910 958h2M922 955h2M909 968h2M939 933h2M903 960h2M928 939h2M907 990h2M908 946h2M929 959h2M930 940h2M896 955h2M913 977h2M903 980h2M913 937h2M918 962h2M910 933h2M904 952h2M908 949h2M931 943h2M944 952h2M900 978h2M912 971h2M925 948h2M925 950h2M919 971h2M922 941h2M916 968h2M921 962h2M919 936h2M954 906h2M917 987h2M884 957h2M939 908h2M929 962h2M939 938h2M915 959h2M897 994h2M877 1000h2M915 967h2M911 970h2M929 944h2M904 962h2M911 966h2M888 960h2M927 954h2M942 949h2M896 962h2M907 968h2M902 936h2M931 950h2M942 903h2M939 919h2M913 943h2M905 949h2M943 926h2M926 945h2M936 944h2M933 944h2M895 967h2M922 984h2M923 898h2M912 975h2M921 963h2M939 952h2M896 957h2M921 956h2M891 967h2M938 969h2M905 922h2M933 933h2M909 977h2M939 903h2M905 952h2M914 1021h2M905 961h2M909 957h2M932 939h2M943 913h2M907 932h2M891 968h2M954 878h2M930 923h2M930 941h2M920 942h2M937 918h2M914 970h2M933 922h2M921 954h2M946 921h2M915 954h2M924 938h2M955 920h2M933 948h2M940 987h2M913 974h2M910 971h2M941 937h2M909 978h2M928 958h2M911 957h2M900 964h2M922 905h2M920 971h2M924 914h2M926 975h2M916 940h2M901 956h2M917 935h2M923 933h2M918 967h2M925 945h2M893 979h2M946 960h2M879 969h2M940 924h2M913 972h2M929 950h2M929 980h2M931 939h2M899 946h2M927 970h2M922 928h2M907 950h2M928 945h2M927 921h2M905 965h2M927 949h2M930 909h2M919 964h2M910 935h2M912 946h2M901 941h2M921 963h2M941 941h2M930 937h2M906 971h2M918 932h2M942 958h2M940 908h2M910 958h2M924 953h2M908 952h2M891 967h2M933 975h2M916 956h2M891 978h2M910 973h2M899 959h2M901 945h2M891 940h2M905 977h2M949 944h2M914 924h2M930 943h2M917 921h2M942 947h2M914 959h2M913 979h2M912 951h2M904 956h2M906 962h2M899 997h2M920 950h2M908 945h2M936 964h2M923 954h2M946 914h2M908 961h2M898 982h2M940 929h2M908 951h2M926 1013h2M903 970h2M893 966h2M941 935h2M911 952h2M913 946h2M909 932h2M926 926h2M931 932h2M922 913h2M932 932h2M938 954h2M928 946h2M925 939h2M909 944h2M920 975h2M939 918h2M933 968h2M915 919h2M897 978h2M922 950h2M917 955h2M916 966h2M908 982h2M913 910h2M935 963h2M937 938h2M912 997h2M938 932h2M912 965h2M898 924h2M904 982h2M911 935h2M942 945h2M897 966h2M933 939h2M935 941h2M891 994h2M884 988h2M956 958h2M908 938h2M883 994h2M903 953h2M935 954h2M930 952h2M916 950h2M913 944h2M923 937h2M936 943h2M931 967h2M915 947h2M922 946h2M932 983h2M921 986h2M922 955h2" stroke="#ee3030" stroke-width="1.3" fill="none" opacity="0.5"/>
<path transform="scale(.5)" d="M900 932h2M935 920h2M952 906h2M907 941h2M931 913h2M913 922h2M946 906h2M898 937h2M910 919h2M932 943h2M919 921h2M928 911h2M950 920h2M920 943h2M905 916h2M957 912h2M934 919h2M898 919h2M879 930h2M936 931h2M920 923h2M944 915h2M922 918h2M946 916h2M947 905h2M916 944h2M918 933h2M927 933h2M927 927h2M916 912h2M956 942h2M930 913h2M941 917h2M907 921h2M891 940h2M914 920h2M917 934h2M933 940h2M918 922h2M915 928h2M935 924h2M923 924h2M923 935h2M937 938h2M906 913h2M966 921h2M940 911h2M906 931h2M895 926h2M935 940h2M921 927h2M920 935h2M911 933h2M912 936h2M959 918h2M941 935h2M936 944h2M912 928h2M906 922h2M917 943h2M926 934h2M908 936h2M930 945h2M926 911h2M903 912h2M902 940h2M947 918h2M911 922h2M919 913h2M942 909h2M934 925h2M924 924h2M923 929h2M906 931h2M925 937h2M930 921h2M939 915h2M906 919h2M937 932h2M941 906h2M925 906h2M945 928h2M909 924h2M918 937h2M947 918h2M942 909h2M932 932h2M911 927h2M946 941h2M908 918h2M924 920h2M949 896h2M946 935h2M931 916h2M922 929h2M899 947h2M927 899h2M924 925h2M938 925h2M905 940h2M922 922h2M935 919h2M933 898h2M913 920h2M898 929h2M926 930h2M920 911h2M934 915h2M920 906h2M938 917h2M930 937h2M911 935h2M935 924h2M916 912h2M921 913h2M940 925h2M935 923h2M937 953h2M940 930h2M947 923h2M930 929h2M909 941h2M933 926h2M922 913h2M934 929h2M889 951h2M894 930h2M907 931h2M917 924h2M913 929h2M914 934h2M909 919h2M917 928h2M905 916h2M915 944h2M924 929h2M931 927h2M919 923h2M913 935h2M911 908h2M949 912h2M925 924h2M912 926h2M923 913h2M917 949h2M917 935h2M943 920h2M944 912h2M933 949h2M917 932h2M940 906h2M933 936h2M946 931h2M899 921h2M922 946h2M913 933h2M904 953h2M881 938h2M941 934h2M917 915h2M916 917h2M924 922h2M920 920h2M924 911h2M909 925h2M945 905h2M923 917h2M914 925h2M904 930h2M934 935h2M936 910h2M919 938h2M925 935h2M911 943h2M904 936h2M956 904h2M915 916h2M932 936h2M948 916h2M928 919h2M936 903h2M903 944h2M953 921h2M929 927h2M941 903h2M924 935h2M927 933h2M929 907h2M933 931h2M932 934h2M941 919h2M925 914h2M936 941h2M928 911h2M923 934h2M929 936h2M949 921h2M908 903h2M921 921h2M916 927h2M910 924h2M918 944h2M942 916h2M952 932h2M910 937h2M923 894h2M930 907h2M949 934h2M920 906h2M948 928h2M948 923h2M904 954h2M964 919h2M934 919h2M942 924h2M952 916h2M940 926h2M909 919h2M943 922h2M954 939h2M926 927h2M926 925h2M885 951h2M936 936h2M927 913h2M905 922h2M919 938h2M926 928h2M911 933h2M937 921h2M900 918h2M929 916h2M913 936h2M939 933h2M914 933h2M933 931h2M931 929h2M901 929h2M924 912h2M933 934h2M921 918h2M914 918h2M937 916h2M913 907h2M926 913h2M917 916h2M924 941h2M913 928h2M930 927h2M923 934h2M926 933h2M933 941h2M935 923h2M902 947h2M910 923h2M918 921h2M934 924h2M915 924h2M912 934h2M923 921h2M924 933h2M948 915h2M923 920h2M949 915h2M933 920h2M895 947h2M929 934h2M927 912h2M940 934h2M948 914h2" stroke="#ee3030" stroke-width="1.3" fill="none" opacity="0.5"/>
<path transform="scale(.5)" d="M880 992h2M888 977h2M892 988h2M879 978h2M882 978h2M872 975h2M891 980h2M887 969h2M887 974h2M882 978h2M886 979h2M866 989h2M884 978h2M903 986h2M874 997h2M889 981h2M854 975h2M884 973h2M876 1002h2M888 964h2M867 983h2M875 977h2M875 994h2M884 984h2M889 979h2M879 971h2M881 970h2M881 977h2" stroke="#ee3030" stroke-width="1.3" fill="none" opacity="0.4"/>
<line x1="434.2" y1="425.5" x2="453.5" y2="514.6" stroke="#f54545" stroke-width="0.85"/>
<line x1="399.4" y1="485.2" x2="488.4" y2="460.6" stroke="#f54545" stroke-width="0.85"/>
<circle cx="437.4" cy="441.2" r="2.1" fill="#f00000"/>
<circle cx="473.6" cy="464.6" r="2.1" fill="#f00000"/>
<line x1="397.9" y1="448" x2="399.4" y2="448" stroke="#aaa" stroke-width="0.7"/>
<line x1="421.9" y1="514.6" x2="421.9" y2="516.1" stroke="#aaa" stroke-width="0.7"/>
<line x1="397.9" y1="470" x2="399.4" y2="470" stroke="#aaa" stroke-width="0.7"/>
<line x1="443.9" y1="514.6" x2="443.9" y2="516.1" stroke="#aaa" stroke-width="0.7"/>
<line x1="397.9" y1="492" x2="399.4" y2="492" stroke="#aaa" stroke-width="0.7"/>
<line x1="465.8" y1="514.6" x2="465.8" y2="516.1" stroke="#aaa" stroke-width="0.7"/>
<rect x="399.4" y="425.5" width="89" height="89.1" fill="none" stroke="#9c9c9c" stroke-width="0.9"/>
<text x="403" y="435.5" font-size="8.7" fill="#222">1%</text>
<text x="486.6" y="435.5" font-size="8.7" text-anchor="end" fill="#222">19%</text>
<rect x="400" y="502.2" width="20.4" height="9.4" fill="#fff"/>
<text x="402.7" y="509.5" font-size="8.7" fill="#222">23%</text>
<text x="486.6" y="509.5" font-size="8.7" text-anchor="end" fill="#222">57%</text>
<rect x="94" y="524.6" width="89.4" height="88.8" fill="#fff"/>
<polygon points="94,586.6 135.2,575.9 145.5,613.4 94,613.4" fill="#f4f5b6"/>
<path transform="scale(.5)" d="M248 1176h2M273 1190h2M248 1194h2M274 1194h2M255 1189h2M273 1197h2M262 1176h2M252 1188h2M263 1205h2M263 1185h2M272 1190h2M243 1208h2M260 1190h2M274 1186h2M275 1203h2M246 1200h2M268 1204h2M271 1194h2M273 1194h2M270 1179h2M259 1190h2M250 1204h2M256 1199h2M242 1190h2M271 1191h2M261 1207h2M265 1195h2M278 1193h2M265 1199h2M251 1197h2M247 1191h2M249 1182h2M262 1201h2M256 1194h2M262 1182h2M251 1209h2M269 1200h2M237 1185h2M249 1198h2M283 1189h2M268 1191h2M269 1190h2M263 1192h2M265 1191h2M254 1211h2M251 1204h2M275 1181h2M248 1201h2M272 1191h2M236 1189h2M256 1190h2M257 1199h2M250 1185h2M247 1200h2M261 1193h2M267 1204h2M251 1194h2M264 1201h2M248 1171h2M255 1194h2M259 1194h2M279 1187h2M266 1198h2M250 1207h2M264 1184h2M244 1184h2M253 1198h2M273 1191h2M262 1206h2M268 1195h2M260 1201h2M238 1182h2M258 1195h2M272 1191h2M257 1198h2M266 1200h2M263 1190h2M255 1186h2M245 1183h2M278 1202h2M253 1187h2M269 1200h2M248 1190h2M266 1195h2M243 1190h2M264 1194h2M252 1186h2M249 1185h2M259 1202h2M263 1197h2M277 1183h2M261 1189h2M267 1192h2M248 1189h2M257 1197h2M266 1200h2M271 1198h2M270 1183h2M267 1177h2M250 1193h2M269 1195h2M266 1195h2M248 1191h2M245 1186h2M253 1189h2M259 1189h2M258 1199h2M247 1193h2M247 1195h2M245 1190h2M263 1199h2M273 1201h2M291 1189h2M265 1188h2M256 1192h2M262 1194h2M263 1198h2M253 1191h2M258 1192h2M249 1208h2M270 1203h2M252 1214h2M264 1188h2M268 1195h2M245 1191h2M250 1192h2M262 1183h2M262 1182h2M252 1192h2M265 1191h2M271 1189h2M262 1193h2M253 1184h2M273 1187h2M253 1195h2M254 1194h2M270 1189h2M264 1217h2M243 1206h2M261 1195h2M282 1186h2M248 1180h2M262 1187h2M231 1197h2M250 1186h2M260 1200h2M265 1194h2M287 1192h2M267 1190h2M258 1193h2M278 1180h2M258 1186h2M262 1197h2M270 1189h2M263 1187h2M251 1186h2M270 1199h2M257 1197h2M259 1188h2M263 1205h2M251 1193h2M260 1199h2M264 1194h2M279 1194h2M255 1190h2M257 1188h2M270 1189h2M259 1190h2M254 1188h2M263 1196h2M250 1184h2M255 1193h2M258 1183h2M252 1210h2M254 1191h2M273 1192h2M239 1201h2M258 1191h2M256 1188h2M271 1195h2M262 1199h2M265 1198h2M270 1200h2M267 1192h2M248 1200h2M251 1188h2M261 1198h2M269 1198h2M257 1208h2M256 1187h2M264 1205h2M273 1198h2M260 1192h2M269 1193h2M274 1204h2M268 1188h2M263 1196h2M266 1208h2M259 1184h2M287 1187h2M256 1185h2M253 1196h2M258 1180h2M257 1207h2M256 1197h2M278 1203h2M273 1192h2M249 1192h2M259 1184h2M259 1195h2" stroke="#ee8a2a" stroke-width="1.4" fill="none" opacity="0.65"/>
<path transform="scale(.5)" d="M259 1193h2M261 1190h2M250 1197h2M255 1196h2M260 1191h2M258 1203h2M258 1193h2M259 1197h2M251 1192h2M261 1188h2M255 1197h2M266 1195h2M259 1186h2M264 1193h2M258 1193h2M260 1196h2M257 1194h2M256 1194h2M253 1198h2M258 1191h2M264 1192h2M261 1192h2M255 1194h2M257 1192h2M258 1192h2M252 1190h2M257 1190h2M255 1194h2M272 1191h2M256 1193h2M263 1197h2M256 1195h2M256 1197h2M258 1186h2M258 1191h2M251 1192h2M252 1194h2M263 1193h2M254 1191h2M264 1195h2M255 1194h2M259 1189h2M252 1195h2M257 1189h2M248 1200h2M265 1192h2M268 1193h2M261 1196h2M253 1190h2M261 1187h2M254 1191h2M252 1198h2M261 1196h2M260 1189h2M251 1191h2M263 1198h2M261 1200h2M254 1189h2M259 1192h2M254 1193h2M260 1186h2M264 1195h2M266 1196h2M260 1194h2M255 1190h2M257 1193h2M267 1195h2M257 1191h2M261 1192h2M261 1192h2M261 1197h2M255 1198h2M255 1196h2M255 1193h2M258 1194h2M257 1194h2M262 1190h2M258 1198h2M250 1191h2M255 1194h2M258 1189h2M261 1191h2M255 1196h2M254 1191h2M260 1188h2M258 1185h2M267 1189h2M257 1191h2M262 1193h2M256 1188h2M253 1192h2M260 1190h2M258 1194h2M263 1193h2M261 1190h2M248 1190h2M259 1192h2M256 1193h2M258 1190h2M257 1195h2M252 1191h2M264 1189h2M245 1195h2M258 1188h2M254 1198h2M251 1192h2M251 1192h2M255 1199h2M251 1189h2M257 1197h2M257 1193h2M256 1194h2M247 1197h2M259 1199h2M259 1195h2M256 1195h2M260 1192h2M259 1189h2M253 1188h2M264 1196h2M259 1193h2M262 1190h2M258 1192h2M264 1194h2M260 1192h2M256 1194h2M250 1195h2M256 1197h2M253 1189h2M253 1192h2M262 1193h2M265 1193h2M262 1195h2M263 1187h2M254 1189h2M263 1197h2M253 1199h2M252 1193h2M256 1189h2M255 1187h2M260 1195h2M260 1199h2M259 1196h2M262 1191h2M255 1195h2M253 1187h2M260 1190h2M265 1192h2M262 1190h2M256 1187h2M262 1197h2M258 1195h2M258 1188h2M258 1202h2M257 1199h2M265 1193h2M263 1193h2M263 1187h2M253 1197h2M268 1192h2M254 1197h2M263 1194h2M241 1192h2M259 1191h2M263 1187h2M259 1193h2M254 1193h2M251 1190h2M260 1184h2M263 1188h2M263 1194h2M257 1195h2M266 1200h2M263 1189h2M265 1190h2M261 1194h2M265 1192h2M259 1188h2M260 1195h2M254 1196h2M249 1191h2M258 1190h2M258 1199h2M254 1192h2M256 1187h2M256 1194h2M261 1185h2M256 1193h2M259 1192h2M271 1192h2M252 1191h2M257 1198h2M268 1190h2M254 1190h2M261 1193h2M254 1193h2M257 1193h2M259 1194h2M261 1192h2M262 1189h2M255 1191h2M257 1197h2M258 1194h2M261 1196h2M254 1189h2M257 1198h2M254 1197h2M262 1190h2M265 1189h2M245 1191h2M255 1199h2M260 1198h2M256 1184h2M248 1198h2M263 1198h2M263 1190h2M259 1195h2M254 1192h2M258 1194h2M256 1196h2M257 1191h2M261 1186h2M264 1197h2M261 1194h2M256 1186h2M255 1197h2M262 1197h2M251 1188h2M253 1194h2M260 1190h2M254 1193h2M259 1197h2M257 1194h2M260 1194h2M263 1192h2M258 1196h2M257 1196h2M262 1197h2M264 1198h2M261 1191h2M256 1194h2M265 1186h2M254 1198h2M256 1188h2M257 1195h2M263 1187h2M254 1194h2M255 1186h2M263 1194h2M270 1195h2M257 1190h2M255 1197h2M253 1196h2M264 1188h2M257 1189h2M266 1198h2M255 1187h2M256 1198h2M259 1195h2M256 1188h2M257 1188h2M262 1194h2M256 1193h2M252 1192h2M255 1197h2M262 1196h2M259 1189h2M263 1189h2M258 1189h2M259 1190h2M259 1190h2M259 1195h2M257 1184h2M248 1198h2M264 1195h2M267 1190h2M260 1196h2M262 1195h2M256 1191h2M259 1198h2M266 1192h2M254 1192h2M266 1195h2M264 1190h2M250 1198h2M260 1198h2M265 1189h2M258 1196h2M262 1198h2M251 1193h2M263 1198h2M261 1199h2M265 1194h2M253 1198h2M259 1198h2M261 1192h2M257 1192h2M259 1200h2M266 1190h2M259 1198h2M253 1192h2M259 1195h2M257 1193h2M256 1191h2M264 1195h2M258 1195h2M254 1191h2M252 1195h2M258 1191h2M264 1194h2M261 1189h2M261 1190h2M252 1199h2M262 1197h2M256 1192h2M264 1194h2M265 1193h2M258 1193h2M251 1199h2M263 1194h2M259 1191h2M258 1187h2M255 1187h2M255 1199h2M260 1195h2M258 1196h2M263 1195h2M248 1191h2M258 1191h2M266 1192h2M262 1185h2M252 1186h2M262 1191h2M255 1189h2M255 1191h2M255 1194h2M253 1200h2M257 1198h2M260 1190h2M256 1189h2M254 1194h2M259 1192h2M253 1194h2M257 1193h2M256 1195h2M263 1185h2M258 1193h2M272 1186h2M258 1196h2M264 1191h2M258 1190h2M258 1195h2M249 1196h2M262 1193h2M255 1196h2M257 1188h2M259 1194h2M263 1195h2M249 1192h2M259 1196h2M259 1196h2M254 1199h2M257 1192h2M258 1189h2M261 1190h2M254 1194h2M255 1194h2M263 1193h2M258 1189h2M252 1192h2M266 1197h2M260 1196h2M259 1190h2M256 1194h2M265 1191h2M253 1193h2M257 1190h2M263 1191h2M258 1191h2M257 1192h2M262 1189h2M261 1196h2M258 1192h2M254 1195h2M259 1193h2M256 1192h2M262 1188h2M257 1188h2M265 1192h2M270 1188h2M269 1195h2M259 1191h2M257 1189h2M254 1192h2M256 1194h2M258 1192h2M247 1200h2M255 1197h2M253 1193h2M253 1190h2M257 1187h2M270 1194h2M255 1197h2M271 1192h2M255 1190h2M255 1192h2M261 1190h2M260 1192h2M267 1195h2M259 1192h2M261 1195h2M257 1196h2M253 1189h2M260 1189h2M268 1193h2M262 1182h2M259 1196h2M257 1191h2M256 1193h2M269 1195h2M259 1186h2M258 1197h2M253 1195h2M255 1184h2M257 1189h2M262 1201h2M261 1195h2M245 1197h2M255 1193h2M264 1197h2M264 1186h2M268 1190h2M265 1199h2M262 1196h2M258 1192h2M261 1195h2M262 1190h2M259 1188h2M260 1196h2M259 1192h2M260 1193h2M261 1195h2M261 1194h2M257 1197h2M257 1191h2M262 1191h2M254 1196h2M257 1197h2M261 1189h2M268 1187h2M256 1190h2M250 1193h2M255 1194h2M265 1189h2M256 1194h2M265 1199h2M248 1184h2M251 1194h2M256 1193h2M260 1191h2M266 1195h2M251 1196h2M258 1188h2M263 1193h2M263 1195h2M259 1192h2M261 1194h2M257 1195h2M262 1197h2M264 1195h2M258 1195h2M265 1198h2M259 1193h2M255 1199h2M262 1188h2M265 1194h2M258 1194h2M261 1194h2M257 1190h2M262 1194h2M255 1189h2M254 1191h2M267 1189h2M262 1196h2M253 1193h2M257 1189h2M255 1187h2M262 1192h2M256 1193h2M253 1200h2M257 1197h2M248 1187h2M257 1197h2M251 1195h2M254 1201h2M262 1198h2M266 1198h2M263 1191h2M263 1189h2M247 1195h2M255 1195h2M262 1197h2M263 1185h2M257 1191h2M255 1187h2M263 1197h2M253 1195h2M256 1196h2M253 1193h2M248 1185h2M260 1193h2M264 1194h2M262 1191h2M255 1194h2M262 1192h2M254 1195h2M244 1190h2M256 1187h2M261 1196h2M250 1203h2M257 1188h2M259 1189h2M260 1194h2M267 1191h2M254 1197h2M255 1193h2M260 1196h2M264 1189h2M260 1191h2M257 1194h2M258 1191h2M267 1185h2M263 1196h2M262 1200h2M260 1190h2M264 1187h2M262 1199h2M261 1193h2M257 1197h2M258 1193h2M260 1198h2M250 1190h2M255 1201h2M253 1189h2M261 1196h2M267 1196h2M263 1188h2M260 1196h2M252 1191h2M269 1195h2M262 1195h2M265 1185h2M261 1196h2M262 1188h2M265 1196h2M257 1198h2M263 1190h2M248 1186h2M264 1195h2M263 1197h2M259 1190h2M264 1192h2M274 1194h2M262 1198h2M260 1189h2M255 1191h2M260 1191h2M256 1188h2M264 1191h2M258 1193h2M261 1194h2M262 1199h2M261 1196h2M260 1190h2M260 1192h2M257 1192h2M262 1181h2M261 1196h2M258 1195h2M256 1192h2M269 1199h2M258 1191h2M267 1189h2M265 1189h2M256 1195h2M261 1198h2M257 1197h2M259 1187h2M260 1195h2M268 1185h2M257 1193h2M266 1185h2M255 1194h2M260 1195h2M262 1199h2M260 1191h2M250 1196h2M258 1192h2M253 1193h2M260 1187h2" stroke="#e8650c" stroke-width="1.6" fill="none" opacity="0.95"/>
<path transform="scale(.5)" d="M274 1109h2M321 1103h2M284 1115h2M293 1111h2M297 1120h2M291 1122h2M302 1119h2M309 1117h2M305 1117h2M313 1129h2M341 1093h2M300 1119h2M309 1112h2M306 1097h2M294 1106h2M309 1101h2M291 1113h2M281 1116h2M305 1113h2M316 1099h2M282 1103h2M308 1110h2M306 1103h2M289 1100h2M287 1093h2M261 1108h2M292 1120h2M308 1107h2M312 1113h2M327 1096h2M303 1103h2M292 1128h2M312 1096h2M312 1136h2M267 1105h2M301 1093h2M291 1110h2M324 1111h2M303 1117h2M309 1121h2M290 1107h2M296 1116h2M272 1117h2M293 1121h2M323 1129h2M304 1120h2M289 1112h2M285 1114h2M308 1119h2M301 1097h2M295 1120h2M290 1110h2M309 1104h2M274 1123h2M289 1122h2M291 1098h2M290 1107h2M310 1104h2M309 1090h2M288 1119h2M306 1112h2M292 1093h2M287 1119h2M289 1127h2M289 1105h2M301 1107h2M295 1112h2M283 1127h2M273 1101h2M300 1118h2M309 1123h2M286 1111h2M304 1110h2M312 1103h2M290 1104h2M311 1109h2M291 1098h2M293 1115h2M283 1137h2M288 1120h2M291 1103h2M324 1109h2M287 1106h2M299 1094h2M295 1134h2M292 1085h2M289 1106h2M292 1108h2M284 1101h2M279 1122h2M288 1102h2M312 1099h2M296 1114h2M288 1111h2M313 1088h2M297 1104h2M296 1107h2M288 1136h2M308 1111h2M291 1140h2M282 1102h2M267 1102h2M281 1117h2M297 1127h2M290 1090h2M284 1113h2M297 1097h2M293 1116h2M281 1101h2M293 1115h2M295 1111h2M283 1101h2M300 1128h2M325 1120h2M292 1103h2M310 1098h2M298 1105h2M289 1100h2M302 1105h2M304 1126h2M312 1095h2M313 1116h2M314 1122h2M291 1105h2M288 1119h2M309 1122h2M274 1139h2M305 1105h2M304 1115h2M301 1106h2M274 1098h2M284 1120h2M272 1127h2M308 1100h2M286 1104h2M292 1090h2M303 1112h2M309 1121h2M285 1104h2M290 1114h2M295 1106h2M306 1101h2M304 1105h2M317 1125h2M289 1127h2M283 1110h2M282 1104h2M301 1092h2M298 1121h2M307 1122h2M284 1102h2M274 1114h2M284 1114h2M288 1115h2M309 1132h2M291 1108h2M303 1123h2M299 1126h2M294 1123h2M295 1113h2M279 1118h2M304 1112h2M315 1129h2M300 1131h2M282 1102h2M290 1117h2M282 1111h2M299 1105h2M286 1101h2M299 1142h2M310 1118h2M289 1107h2M259 1121h2M310 1109h2M296 1124h2M297 1111h2M332 1095h2M283 1120h2M297 1119h2M283 1092h2M301 1119h2M316 1116h2M290 1115h2M301 1110h2M290 1132h2M286 1116h2M311 1089h2M289 1112h2M285 1116h2M304 1113h2M306 1121h2M305 1109h2M280 1106h2M278 1096h2M304 1116h2M318 1124h2M282 1111h2M299 1104h2M295 1106h2M300 1112h2M317 1095h2M291 1111h2M301 1088h2M300 1102h2M291 1121h2M306 1119h2M307 1110h2M297 1116h2M310 1115h2M287 1094h2" stroke="#ee3030" stroke-width="1.3" fill="none" opacity="0.5"/>
<path transform="scale(.5)" d="M289 1184h2M309 1199h2M296 1180h2M293 1197h2M282 1198h2M308 1148h2M308 1159h2M297 1172h2M304 1157h2M315 1197h2M291 1175h2M336 1183h2M312 1185h2M270 1172h2M290 1190h2M327 1168h2M293 1194h2M294 1165h2M306 1168h2M302 1187h2M294 1176h2M291 1155h2M307 1177h2M300 1164h2M309 1190h2M295 1207h2M306 1166h2M277 1190h2M303 1176h2M305 1163h2M311 1211h2M291 1176h2M295 1179h2M295 1165h2M291 1191h2M297 1170h2M311 1183h2M313 1191h2M289 1193h2M296 1186h2M302 1183h2M274 1164h2M310 1170h2M283 1184h2M281 1189h2M298 1186h2M278 1179h2M296 1175h2M297 1178h2M308 1163h2M305 1199h2M279 1200h2M308 1164h2M311 1165h2M298 1182h2M293 1188h2M295 1160h2M269 1167h2M290 1175h2M307 1172h2M290 1169h2M300 1179h2M321 1182h2M301 1194h2M295 1186h2M314 1157h2M289 1184h2M317 1168h2M309 1155h2M293 1189h2M277 1163h2M291 1174h2M287 1178h2M303 1161h2M272 1192h2M315 1169h2M297 1213h2M299 1183h2M308 1188h2M298 1177h2M294 1172h2M289 1158h2M306 1177h2M302 1169h2M304 1184h2M302 1165h2M285 1180h2M294 1162h2M302 1172h2M298 1190h2M302 1176h2M290 1187h2M311 1185h2M308 1160h2M300 1160h2M298 1161h2M305 1150h2M301 1177h2M292 1188h2M295 1191h2M301 1157h2M306 1174h2M309 1174h2M318 1158h2M317 1154h2M292 1170h2M298 1179h2M293 1168h2M315 1161h2M293 1194h2M298 1178h2M297 1176h2M293 1160h2M306 1166h2M314 1214h2M290 1203h2M285 1182h2M309 1169h2M307 1151h2M299 1173h2M301 1166h2M295 1174h2M305 1189h2M292 1160h2M295 1174h2" stroke="#ee3030" stroke-width="1.3" fill="none" opacity="0.5"/>
<path transform="scale(.5)" d="M281 1193h2M281 1182h2M272 1192h2M276 1189h2M280 1188h2M278 1190h2M285 1191h2M287 1191h2M281 1179h2M293 1186h2M286 1194h2M286 1183h2M280 1196h2M280 1188h2M284 1184h2M275 1206h2M282 1193h2M275 1195h2M279 1186h2M288 1191h2M281 1183h2M281 1190h2" stroke="#ee3030" stroke-width="1.3" fill="none" opacity="0.55"/>
<path transform="scale(.5)" d="M257 1126h2M268 1137h2M257 1115h2M267 1146h2M265 1143h2M282 1123h2M266 1137h2M250 1136h2M263 1132h2M240 1145h2M253 1136h2M263 1116h2M263 1113h2M255 1152h2" stroke="#ee3030" stroke-width="1.3" fill="none" opacity="0.4"/>
<line x1="121.2" y1="524.6" x2="145.5" y2="613.4" stroke="#f54545" stroke-width="0.85"/>
<line x1="94" y1="586.6" x2="183.4" y2="563.3" stroke="#f54545" stroke-width="0.85"/>
<circle cx="126.5" cy="541.4" r="2.1" fill="#f00000"/>
<circle cx="167.4" cy="567.6" r="2.1" fill="#f00000"/>
<circle cx="135.2" cy="575.9" r="1.5" fill="#fff" stroke="#f54545" stroke-width="0.8"/>
<line x1="92.5" y1="547" x2="94" y2="547" stroke="#aaa" stroke-width="0.7"/>
<line x1="116.6" y1="613.4" x2="116.6" y2="614.9" stroke="#aaa" stroke-width="0.7"/>
<line x1="92.5" y1="569" x2="94" y2="569" stroke="#aaa" stroke-width="0.7"/>
<line x1="138.6" y1="613.4" x2="138.6" y2="614.9" stroke="#aaa" stroke-width="0.7"/>
<line x1="92.5" y1="590.9" x2="94" y2="590.9" stroke="#aaa" stroke-width="0.7"/>
<line x1="160.7" y1="613.4" x2="160.7" y2="614.9" stroke="#aaa" stroke-width="0.7"/>
<rect x="94" y="524.6" width="89.4" height="88.8" fill="none" stroke="#9c9c9c" stroke-width="0.9"/>
<text x="97.5" y="534.6" font-size="8.7" fill="#222">0.8%</text>
<text x="181.6" y="534.6" font-size="8.7" text-anchor="end" fill="#222">14%</text>
<rect x="94.6" y="601" width="20.4" height="9.4" fill="#fff"/>
<text x="97.3" y="608.3" font-size="8.7" fill="#222">73%</text>
<text x="181.6" y="608.3" font-size="8.7" text-anchor="end" fill="#222">13%</text>
<rect x="194.8" y="524.6" width="89.4" height="88.8" fill="#fff"/>
<polygon points="194.8,586.6 235.8,575.9 245.6,613.4 194.8,613.4" fill="#f4f5b6"/>
<path transform="scale(.5)" d="M460 1194h2M448 1204h2M445 1201h2M480 1188h2M468 1194h2M440 1196h2M453 1179h2M455 1212h2M466 1187h2M453 1200h2M465 1198h2M458 1178h2M445 1204h2M462 1204h2M461 1193h2M454 1209h2M444 1197h2M454 1199h2M440 1203h2M447 1179h2M458 1201h2M449 1195h2M459 1195h2M448 1182h2M475 1202h2M468 1197h2M461 1188h2M457 1193h2M446 1203h2M456 1199h2M462 1189h2M437 1191h2M469 1212h2M459 1182h2M450 1194h2M463 1199h2M471 1203h2M457 1186h2M464 1202h2M465 1196h2M457 1193h2M454 1208h2M468 1206h2M473 1199h2M459 1198h2M452 1185h2M472 1187h2M454 1188h2M456 1204h2M462 1181h2M469 1194h2M458 1180h2M444 1187h2M454 1180h2M467 1186h2M468 1203h2M469 1196h2M456 1199h2M457 1192h2M468 1190h2M453 1194h2M474 1199h2M446 1184h2M477 1199h2M448 1193h2M461 1203h2M456 1195h2M447 1193h2M471 1192h2M465 1185h2M465 1197h2M477 1185h2M473 1197h2M468 1198h2M465 1194h2M469 1202h2M464 1192h2M455 1192h2M468 1181h2M444 1190h2M447 1194h2M461 1208h2M459 1182h2M467 1198h2M453 1190h2M461 1196h2M456 1208h2M480 1188h2M453 1204h2M467 1181h2M460 1189h2M475 1195h2M459 1184h2M453 1187h2M450 1186h2M446 1212h2M436 1196h2M467 1194h2M440 1197h2M446 1181h2M457 1196h2M446 1193h2M458 1194h2M455 1193h2M437 1192h2M467 1192h2M459 1189h2M458 1191h2M438 1182h2M459 1190h2M457 1185h2M470 1189h2M467 1180h2M477 1196h2M447 1197h2M474 1187h2M473 1180h2M453 1200h2M458 1197h2M455 1196h2M458 1198h2M462 1194h2M466 1190h2M459 1202h2M443 1181h2M466 1207h2M455 1193h2M464 1192h2M468 1183h2M444 1193h2M444 1188h2M459 1193h2M458 1204h2M464 1202h2M448 1192h2M469 1191h2M465 1188h2M444 1203h2M485 1184h2M458 1192h2M466 1174h2M470 1180h2M458 1196h2M448 1190h2M459 1193h2M450 1192h2M455 1204h2M463 1183h2M453 1213h2M467 1189h2M466 1197h2M467 1196h2M475 1209h2M477 1189h2M464 1193h2M460 1187h2M468 1198h2M471 1197h2M444 1181h2M469 1176h2M461 1188h2M466 1197h2M483 1185h2M486 1181h2M446 1190h2M469 1187h2M471 1198h2M451 1193h2M463 1191h2M473 1187h2M463 1187h2M470 1195h2M447 1198h2M464 1201h2M453 1195h2M477 1200h2M443 1179h2M454 1194h2M450 1190h2M445 1187h2M478 1204h2M470 1194h2M460 1187h2M455 1202h2M456 1191h2M452 1185h2M467 1196h2M466 1196h2M472 1185h2M464 1202h2M463 1206h2M444 1200h2M472 1188h2M466 1203h2M469 1202h2M481 1194h2M455 1202h2M434 1187h2M459 1191h2M473 1193h2M465 1191h2M466 1187h2M456 1179h2M466 1201h2M459 1181h2M482 1193h2M463 1201h2M439 1189h2M446 1199h2M455 1209h2" stroke="#ee8a2a" stroke-width="1.4" fill="none" opacity="0.65"/>
<path transform="scale(.5)" d="M464 1189h2M467 1192h2M466 1194h2M466 1190h2M460 1185h2M465 1187h2M459 1194h2M451 1194h2M470 1191h2M463 1197h2M462 1185h2M459 1194h2M462 1194h2M445 1198h2M454 1197h2M464 1192h2M456 1187h2M457 1188h2M459 1195h2M453 1193h2M453 1193h2M464 1198h2M469 1190h2M461 1195h2M460 1189h2M457 1197h2M460 1203h2M471 1203h2M460 1198h2M465 1195h2M457 1193h2M467 1193h2M461 1195h2M462 1201h2M461 1188h2M455 1192h2M454 1188h2M464 1192h2M465 1191h2M462 1193h2M456 1189h2M462 1192h2M467 1191h2M464 1188h2M453 1193h2M460 1199h2M459 1187h2M463 1183h2M463 1194h2M455 1191h2M457 1192h2M453 1193h2M456 1190h2M463 1190h2M457 1193h2M460 1187h2M456 1189h2M459 1191h2M452 1194h2M462 1198h2M459 1192h2M463 1190h2M460 1194h2M455 1188h2M466 1189h2M467 1191h2M462 1193h2M462 1192h2M462 1186h2M458 1193h2M458 1194h2M465 1190h2M458 1198h2M460 1191h2M455 1193h2M474 1193h2M464 1194h2M458 1189h2M472 1193h2M457 1190h2M464 1189h2M452 1197h2M462 1188h2M467 1191h2M451 1186h2M459 1190h2M449 1189h2M460 1198h2M454 1190h2M460 1188h2M458 1184h2M464 1192h2M451 1191h2M463 1193h2M456 1190h2M464 1190h2M456 1190h2M466 1184h2M465 1200h2M467 1191h2M457 1194h2M465 1195h2M452 1198h2M461 1192h2M464 1182h2M462 1198h2M466 1191h2M455 1189h2M463 1195h2M458 1186h2M451 1192h2M460 1192h2M453 1195h2M460 1190h2M451 1188h2M454 1189h2M461 1193h2M462 1188h2M453 1193h2M461 1197h2M453 1192h2M462 1190h2M460 1188h2M461 1198h2M455 1204h2M462 1196h2M460 1200h2M453 1189h2M460 1192h2M458 1190h2M465 1198h2M455 1187h2M461 1195h2M465 1187h2M459 1191h2M456 1193h2M455 1192h2M451 1193h2M463 1194h2M472 1197h2M462 1192h2M459 1195h2M461 1191h2M452 1199h2M455 1192h2M464 1192h2M460 1192h2M464 1194h2M454 1197h2M467 1194h2M458 1193h2M461 1189h2M457 1193h2M465 1199h2M461 1193h2M459 1198h2M455 1191h2M455 1197h2M458 1199h2M471 1193h2M454 1188h2M466 1193h2M452 1192h2M473 1186h2M455 1192h2M464 1190h2M456 1198h2M458 1192h2M459 1197h2M455 1191h2M454 1194h2M456 1184h2M462 1189h2M454 1195h2M465 1188h2M459 1202h2M449 1187h2M469 1194h2M462 1191h2M460 1190h2M448 1187h2M454 1189h2M451 1188h2M453 1195h2M460 1193h2M462 1189h2M467 1192h2M459 1188h2M459 1191h2M459 1194h2M464 1188h2M467 1190h2M453 1189h2M453 1192h2M452 1200h2M460 1196h2M468 1196h2M462 1189h2M464 1192h2M456 1194h2M462 1190h2M457 1195h2M462 1196h2M458 1185h2M461 1195h2M467 1192h2M454 1194h2M462 1187h2M459 1194h2M453 1195h2M465 1187h2M467 1194h2M462 1190h2M460 1191h2M461 1188h2M464 1190h2M468 1194h2M458 1189h2M465 1193h2M461 1192h2M455 1191h2M462 1191h2M458 1198h2M463 1193h2M458 1203h2M457 1201h2M457 1189h2M459 1192h2M464 1194h2M461 1193h2M461 1193h2M457 1188h2M455 1195h2M464 1188h2M460 1192h2M459 1192h2M454 1187h2M470 1196h2M460 1206h2M459 1192h2M466 1193h2M458 1194h2M462 1194h2M465 1191h2M461 1191h2M463 1190h2M461 1195h2M458 1197h2M463 1191h2M465 1192h2M465 1195h2M457 1198h2M466 1186h2M455 1195h2M455 1192h2M452 1186h2M460 1198h2M460 1188h2M454 1199h2M458 1198h2M458 1191h2M466 1195h2M462 1196h2M457 1194h2M453 1193h2M453 1198h2M470 1196h2M460 1192h2M465 1188h2M463 1196h2M464 1196h2M459 1192h2M455 1198h2M454 1197h2M465 1200h2M451 1192h2M454 1192h2M464 1189h2M458 1186h2M463 1197h2M460 1190h2M464 1185h2M461 1192h2M453 1193h2M467 1191h2M457 1194h2M463 1198h2M461 1191h2M462 1192h2M448 1197h2M458 1196h2M470 1191h2M466 1193h2M456 1195h2M468 1201h2M466 1193h2M463 1194h2M459 1196h2M462 1197h2M459 1193h2M468 1201h2M461 1192h2M463 1193h2M457 1189h2M470 1188h2M467 1192h2M457 1195h2M472 1199h2M458 1188h2M452 1191h2M454 1197h2M462 1196h2M462 1194h2M458 1194h2M461 1195h2M456 1191h2M460 1199h2M459 1194h2M460 1191h2M454 1196h2M456 1195h2M458 1189h2M453 1190h2M458 1194h2M467 1197h2M468 1195h2M458 1191h2M461 1194h2M467 1199h2M465 1187h2M461 1200h2M459 1188h2M472 1194h2M464 1192h2M453 1183h2M451 1203h2M464 1194h2M458 1200h2M468 1188h2M451 1190h2M453 1192h2M461 1190h2M454 1195h2M467 1197h2M464 1190h2M467 1189h2M445 1192h2M451 1196h2M465 1195h2M453 1194h2M466 1189h2M454 1194h2M472 1190h2M459 1191h2M460 1196h2M465 1187h2M463 1192h2M459 1189h2M478 1193h2M458 1189h2M453 1186h2M466 1191h2M462 1194h2M457 1191h2M457 1195h2M462 1199h2M466 1187h2M465 1192h2M451 1195h2M460 1197h2M458 1196h2M464 1195h2M454 1190h2M459 1188h2M463 1190h2M460 1187h2M462 1194h2M470 1195h2M466 1194h2M452 1195h2M468 1194h2M466 1189h2M454 1192h2M460 1196h2M458 1195h2M465 1192h2M456 1194h2M459 1195h2M465 1194h2M457 1188h2M458 1197h2M466 1190h2M457 1197h2M476 1196h2M458 1189h2M450 1194h2M466 1198h2M461 1196h2M463 1197h2M465 1193h2M471 1189h2M467 1201h2M456 1196h2M466 1189h2M462 1188h2M454 1198h2M457 1192h2M471 1190h2M457 1193h2M465 1194h2M459 1185h2M463 1186h2M454 1188h2M459 1192h2M451 1195h2M470 1200h2M462 1192h2M453 1188h2M459 1189h2M464 1193h2M459 1192h2M453 1201h2M452 1194h2M463 1189h2M464 1196h2M446 1187h2M456 1196h2M457 1194h2M460 1195h2M464 1187h2M466 1194h2M457 1194h2M455 1194h2M456 1190h2M468 1194h2M459 1195h2M465 1187h2M462 1189h2M472 1192h2M452 1195h2M458 1191h2M457 1195h2M467 1192h2M459 1195h2M464 1186h2M447 1193h2M459 1199h2M465 1189h2M466 1193h2M458 1194h2M455 1191h2M457 1189h2M459 1201h2M469 1194h2M457 1193h2M463 1197h2M467 1193h2M459 1189h2M454 1188h2M457 1198h2M461 1194h2M461 1189h2M458 1193h2M465 1188h2M453 1194h2M458 1198h2M459 1192h2M460 1194h2M455 1194h2M461 1188h2M459 1195h2M458 1197h2M461 1196h2M463 1191h2M464 1196h2M459 1192h2M463 1195h2M474 1198h2M465 1191h2M468 1188h2M458 1189h2M466 1196h2M465 1188h2M455 1190h2M460 1189h2M459 1186h2M458 1196h2M456 1192h2M463 1194h2M460 1190h2M465 1193h2M452 1197h2M464 1188h2M457 1187h2M466 1195h2M461 1191h2M460 1193h2M454 1189h2M459 1194h2M449 1198h2M459 1188h2M460 1195h2M458 1196h2M460 1198h2M460 1189h2M464 1187h2M461 1195h2M468 1187h2M457 1192h2M462 1193h2M464 1190h2M461 1198h2M462 1197h2M468 1195h2M463 1197h2M460 1193h2M464 1193h2M454 1194h2M460 1194h2M456 1191h2M464 1191h2M458 1200h2M463 1196h2M459 1186h2M463 1195h2M466 1196h2M451 1198h2M467 1193h2M454 1189h2M461 1187h2M465 1194h2M464 1192h2M473 1196h2M457 1192h2M461 1196h2M459 1192h2M453 1194h2M462 1192h2M449 1192h2M464 1190h2M455 1188h2M466 1194h2M454 1193h2M462 1194h2M464 1185h2M471 1194h2M460 1189h2M450 1189h2M468 1189h2M470 1192h2M455 1186h2M465 1195h2M459 1192h2M454 1193h2M465 1193h2M464 1193h2M469 1194h2M459 1191h2M455 1192h2M458 1187h2M449 1185h2M460 1195h2M458 1193h2M463 1193h2M466 1192h2M464 1190h2M464 1195h2M467 1193h2M473 1188h2M464 1195h2" stroke="#e8650c" stroke-width="1.6" fill="none" opacity="0.95"/>
<path transform="scale(.5)" d="M525 1080h2M496 1102h2M510 1112h2M509 1148h2M500 1101h2M516 1103h2M495 1104h2M519 1127h2M482 1107h2M508 1131h2M515 1116h2M502 1107h2M506 1109h2M487 1119h2M516 1088h2M510 1106h2M515 1103h2M514 1115h2M483 1118h2M505 1123h2M491 1111h2M520 1106h2M517 1113h2M508 1113h2M460 1111h2M519 1101h2M515 1124h2M480 1109h2M478 1088h2M533 1099h2M481 1129h2M500 1102h2M481 1125h2M508 1113h2M515 1095h2M490 1105h2M516 1119h2M484 1108h2M482 1116h2M501 1116h2M519 1100h2M503 1097h2M499 1101h2M506 1110h2M519 1117h2M512 1120h2M494 1085h2M523 1117h2M494 1113h2M517 1102h2M504 1121h2M496 1108h2M516 1125h2M502 1109h2M501 1111h2M518 1130h2M499 1097h2M507 1105h2M527 1129h2M500 1121h2M523 1093h2M510 1114h2M497 1117h2M509 1113h2M498 1096h2M498 1127h2M511 1090h2M484 1095h2M491 1089h2M513 1100h2M497 1120h2M530 1112h2M458 1110h2M501 1114h2M480 1122h2M488 1120h2M523 1092h2M509 1110h2M505 1105h2M505 1117h2M494 1118h2M501 1096h2M510 1095h2M489 1131h2M501 1078h2M484 1127h2M468 1118h2M497 1127h2M488 1083h2M488 1081h2M501 1105h2M505 1101h2M510 1120h2M523 1108h2M484 1106h2M517 1089h2M506 1115h2M504 1113h2M516 1108h2M515 1115h2M523 1104h2M484 1104h2M498 1112h2M512 1094h2M503 1117h2M495 1095h2M508 1122h2M520 1100h2M514 1081h2M489 1120h2M502 1102h2M511 1099h2M515 1099h2M509 1097h2M498 1106h2M489 1121h2M511 1114h2M491 1101h2M478 1136h2M502 1115h2M490 1106h2M497 1098h2M514 1129h2M500 1100h2M500 1118h2M487 1104h2M516 1100h2M486 1096h2M505 1116h2M516 1126h2M514 1122h2M509 1123h2M512 1108h2M506 1122h2M493 1119h2M504 1121h2M488 1093h2M526 1092h2M516 1117h2M494 1089h2M520 1104h2M515 1114h2M504 1116h2M522 1122h2M506 1121h2M516 1109h2M509 1112h2M495 1126h2M486 1094h2M512 1092h2M502 1107h2M506 1128h2M505 1127h2M516 1124h2M506 1114h2M499 1113h2M506 1089h2M503 1114h2M499 1108h2M500 1109h2M508 1119h2M516 1131h2M514 1122h2M496 1124h2M499 1116h2M490 1123h2M515 1108h2M503 1113h2M515 1113h2M500 1143h2M504 1084h2M506 1105h2M493 1103h2M496 1105h2M503 1113h2M505 1117h2M507 1097h2M492 1097h2M490 1117h2M512 1119h2M492 1134h2M505 1120h2M496 1109h2M508 1092h2M507 1113h2M516 1106h2M524 1102h2M491 1113h2M520 1104h2M498 1098h2M506 1102h2M506 1120h2M498 1115h2M522 1136h2M494 1111h2M486 1140h2M511 1106h2M503 1111h2M498 1105h2M526 1110h2M497 1102h2M498 1129h2M488 1112h2M508 1109h2M515 1098h2M509 1114h2M531 1111h2M494 1102h2M510 1104h2M500 1115h2M499 1102h2M499 1092h2M504 1102h2M496 1115h2M506 1100h2M501 1094h2M511 1108h2M495 1098h2M506 1107h2M508 1122h2M490 1114h2M519 1090h2M499 1110h2M504 1098h2M503 1115h2M490 1117h2M525 1122h2M486 1117h2M497 1110h2M498 1117h2M520 1092h2M504 1098h2M504 1134h2M511 1123h2M513 1090h2M506 1100h2M514 1090h2M508 1127h2M497 1124h2M496 1107h2M504 1122h2M490 1103h2M503 1117h2M505 1101h2M511 1092h2M509 1105h2M506 1090h2M532 1097h2M481 1087h2M510 1105h2" stroke="#ee3030" stroke-width="1.3" fill="none" opacity="0.5"/>
<path transform="scale(.5)" d="M507 1162h2M499 1187h2M489 1195h2M493 1179h2M507 1178h2M515 1171h2M500 1155h2M503 1182h2M496 1168h2M495 1171h2M511 1178h2M494 1170h2M505 1170h2M508 1173h2M507 1166h2M505 1181h2M505 1170h2M504 1171h2M499 1168h2M485 1188h2M496 1178h2M500 1180h2M483 1199h2M501 1166h2M498 1162h2M496 1171h2M499 1159h2M507 1182h2M509 1156h2M492 1166h2M501 1162h2M508 1167h2M515 1146h2M502 1158h2M496 1180h2M493 1183h2M523 1169h2M499 1142h2M507 1172h2M481 1180h2M517 1160h2M494 1180h2M509 1170h2M502 1179h2M487 1161h2M518 1165h2M507 1166h2M492 1168h2M510 1140h2M496 1189h2M513 1174h2M515 1171h2M501 1181h2M486 1159h2M495 1160h2M512 1178h2M492 1174h2M514 1149h2M504 1173h2M519 1161h2M502 1168h2M509 1154h2M501 1184h2M504 1174h2M498 1189h2M502 1170h2M522 1166h2M494 1169h2M518 1163h2M506 1162h2M495 1181h2M489 1180h2M515 1153h2M506 1173h2M513 1157h2M490 1197h2M505 1177h2M487 1154h2M474 1203h2M488 1196h2M514 1161h2M497 1173h2M513 1169h2M515 1169h2M515 1161h2M496 1197h2M487 1166h2M488 1187h2M501 1173h2M516 1163h2M505 1164h2M512 1183h2M509 1184h2M513 1162h2M506 1166h2M500 1169h2M521 1177h2M515 1162h2M483 1181h2M494 1200h2" stroke="#ee3030" stroke-width="1.3" fill="none" opacity="0.5"/>
<path transform="scale(.5)" d="M488 1187h2M485 1188h2M491 1187h2M477 1188h2M479 1186h2M483 1188h2M480 1188h2M482 1201h2M491 1184h2M496 1196h2M493 1185h2M489 1204h2M481 1193h2M485 1190h2M484 1186h2M497 1186h2M490 1189h2" stroke="#ee3030" stroke-width="1.3" fill="none" opacity="0.55"/>
<path transform="scale(.5)" d="M443 1125h2M480 1134h2M447 1135h2M467 1150h2M478 1122h2M443 1129h2M451 1137h2M450 1140h2M476 1130h2M470 1137h2M462 1134h2M467 1134h2" stroke="#ee3030" stroke-width="1.3" fill="none" opacity="0.4"/>
<line x1="222.3" y1="524.6" x2="245.6" y2="613.4" stroke="#f54545" stroke-width="0.85"/>
<line x1="194.8" y1="586.6" x2="284.2" y2="563.3" stroke="#f54545" stroke-width="0.85"/>
<circle cx="226.9" cy="541.4" r="2.1" fill="#f00000"/>
<circle cx="268.1" cy="567.6" r="2.1" fill="#f00000"/>
<circle cx="235.8" cy="575.9" r="1.5" fill="#fff" stroke="#f54545" stroke-width="0.8"/>
<line x1="193.3" y1="547" x2="194.8" y2="547" stroke="#aaa" stroke-width="0.7"/>
<line x1="217.4" y1="613.4" x2="217.4" y2="614.9" stroke="#aaa" stroke-width="0.7"/>
<line x1="193.3" y1="569" x2="194.8" y2="569" stroke="#aaa" stroke-width="0.7"/>
<line x1="239.4" y1="613.4" x2="239.4" y2="614.9" stroke="#aaa" stroke-width="0.7"/>
<line x1="193.3" y1="590.9" x2="194.8" y2="590.9" stroke="#aaa" stroke-width="0.7"/>
<line x1="261.5" y1="613.4" x2="261.5" y2="614.9" stroke="#aaa" stroke-width="0.7"/>
<rect x="194.8" y="524.6" width="89.4" height="88.8" fill="none" stroke="#9c9c9c" stroke-width="0.9"/>
<text x="198.3" y="534.6" font-size="8.7" fill="#222">0.8%</text>
<text x="282.4" y="534.6" font-size="8.7" text-anchor="end" fill="#222">20%</text>
<rect x="195.4" y="601" width="20.4" height="9.4" fill="#fff"/>
<text x="198.1" y="608.3" font-size="8.7" fill="#222">70%</text>
<text x="282.4" y="608.3" font-size="8.7" text-anchor="end" fill="#222">10%</text>
<rect x="299.4" y="523.6" width="89.5" height="89.1" fill="#fff"/>
<polygon points="299.4,585.9 341,575.5 351,612.7 299.4,612.7" fill="#f4f5b6"/>
<path transform="scale(.5)" d="M664 1196h2M673 1189h2M671 1194h2M674 1197h2M689 1197h2M682 1193h2M676 1201h2M676 1188h2M681 1195h2M686 1186h2M686 1193h2M674 1196h2M657 1211h2M656 1208h2M672 1194h2M663 1198h2M678 1198h2M690 1195h2M680 1186h2M672 1196h2M658 1187h2M676 1200h2M655 1191h2M676 1192h2M677 1199h2M687 1190h2M705 1193h2M675 1202h2M705 1197h2M685 1191h2M665 1192h2M675 1182h2M677 1205h2M658 1199h2M671 1186h2M674 1209h2M691 1197h2M657 1179h2M677 1199h2M657 1193h2M668 1196h2M689 1188h2M669 1186h2M675 1199h2M677 1192h2M659 1195h2M680 1210h2M680 1190h2M669 1194h2M693 1193h2M699 1192h2M688 1199h2M681 1189h2M658 1194h2M661 1197h2M679 1187h2M679 1194h2M689 1195h2M686 1196h2M684 1194h2M672 1198h2M681 1193h2M676 1199h2M675 1203h2M677 1190h2M682 1199h2M694 1188h2M677 1203h2M674 1186h2M666 1204h2M685 1202h2M664 1185h2M649 1198h2M689 1196h2M700 1189h2M674 1199h2M676 1185h2M675 1189h2M683 1193h2M655 1193h2M649 1194h2M666 1204h2M690 1197h2M678 1198h2M662 1192h2M672 1193h2M665 1193h2M661 1191h2M658 1187h2M674 1201h2M674 1201h2M677 1194h2M674 1200h2M660 1201h2M664 1191h2M670 1199h2M677 1183h2M664 1185h2M684 1194h2M658 1196h2M669 1199h2M646 1192h2M652 1200h2M701 1194h2M677 1193h2M676 1195h2M689 1196h2M655 1197h2M663 1199h2M681 1195h2M656 1197h2M667 1192h2M640 1197h2M677 1197h2M690 1199h2M682 1192h2M665 1190h2M663 1195h2M686 1195h2M636 1192h2M667 1193h2M660 1200h2M676 1188h2M660 1197h2M677 1185h2M652 1198h2M659 1194h2M683 1193h2M701 1192h2M660 1196h2M649 1191h2M686 1194h2M675 1188h2M646 1195h2M664 1194h2M673 1201h2M675 1195h2M684 1190h2M679 1197h2M662 1199h2M650 1190h2M671 1196h2M680 1187h2M689 1180h2M685 1196h2M668 1204h2M664 1195h2M689 1197h2M682 1183h2M664 1199h2M668 1197h2M678 1208h2M643 1190h2M680 1197h2M668 1184h2M657 1198h2M656 1191h2M661 1193h2M676 1196h2M664 1191h2M689 1195h2M679 1197h2M668 1206h2M688 1182h2M695 1190h2M691 1187h2M687 1193h2M669 1192h2M684 1181h2M679 1203h2M699 1189h2M672 1203h2M691 1205h2M664 1205h2M659 1202h2M659 1191h2M681 1191h2M660 1199h2M671 1202h2M665 1193h2M676 1196h2M679 1195h2M674 1187h2M682 1186h2M655 1191h2M669 1197h2M656 1184h2M668 1188h2M640 1207h2M639 1192h2M662 1207h2M680 1195h2M651 1201h2M665 1197h2M687 1200h2M690 1198h2M679 1197h2M666 1193h2M679 1187h2M664 1199h2M649 1192h2M663 1192h2M682 1190h2M661 1206h2M657 1194h2M653 1209h2M690 1195h2M692 1199h2M685 1196h2M668 1198h2M669 1198h2M679 1187h2M664 1192h2M670 1191h2M677 1202h2M674 1194h2M707 1192h2M665 1199h2M670 1191h2M647 1190h2M686 1191h2M664 1197h2M677 1197h2M661 1192h2M680 1180h2M672 1197h2M669 1193h2M674 1190h2M681 1204h2M668 1188h2M689 1198h2M662 1192h2M672 1195h2M672 1200h2M653 1189h2M664 1191h2M688 1198h2M665 1193h2M681 1193h2M667 1195h2M670 1190h2M669 1197h2M679 1199h2M680 1188h2M687 1187h2M660 1199h2M660 1210h2M690 1196h2M678 1184h2M657 1195h2M677 1185h2M688 1191h2M669 1194h2M669 1194h2M668 1188h2M673 1205h2M648 1188h2M679 1206h2M668 1203h2M689 1186h2M658 1201h2M670 1196h2M680 1192h2M667 1188h2M669 1193h2M662 1199h2M657 1192h2M666 1198h2M670 1203h2M676 1201h2M689 1187h2M665 1184h2M671 1191h2M662 1204h2M700 1196h2M668 1195h2M657 1187h2M682 1186h2M685 1201h2M662 1198h2M681 1192h2M692 1195h2M664 1186h2M666 1195h2M671 1198h2M691 1201h2M670 1190h2M672 1178h2M664 1196h2M673 1192h2M656 1191h2M674 1191h2M666 1188h2M671 1210h2M661 1191h2M680 1195h2M681 1187h2M660 1194h2M663 1198h2M675 1179h2M678 1184h2M677 1181h2M683 1199h2M676 1193h2M681 1189h2M658 1191h2M665 1204h2M681 1193h2M665 1187h2M672 1192h2M677 1212h2M679 1198h2M679 1210h2M673 1193h2M660 1186h2M677 1190h2M663 1187h2M666 1201h2M656 1188h2M680 1195h2M679 1191h2M667 1198h2M676 1192h2M678 1208h2M681 1194h2M664 1207h2M674 1188h2M680 1203h2M663 1190h2M664 1196h2" stroke="#ee8a2a" stroke-width="1.4" fill="none" opacity="0.65"/>
<path transform="scale(.5)" d="M676 1196h2M676 1196h2M680 1197h2M674 1190h2M694 1193h2M677 1192h2M670 1188h2M680 1199h2M669 1189h2M678 1193h2M664 1194h2M676 1191h2M677 1195h2M676 1194h2M676 1197h2M677 1192h2M687 1198h2M671 1193h2M681 1192h2M682 1194h2M676 1193h2M680 1188h2M677 1194h2M671 1192h2M663 1203h2M672 1197h2M679 1188h2M678 1192h2M674 1194h2M661 1201h2M681 1193h2M679 1198h2M662 1190h2M681 1193h2M677 1189h2M686 1190h2M678 1197h2M668 1199h2M683 1191h2M662 1190h2M681 1199h2M675 1195h2M667 1187h2M686 1196h2M673 1192h2M680 1192h2M671 1196h2M675 1200h2M667 1199h2M679 1189h2M671 1198h2M674 1193h2M679 1185h2M676 1186h2M667 1193h2M677 1194h2M677 1208h2M673 1192h2M688 1193h2M671 1198h2M674 1190h2M683 1194h2M678 1198h2M685 1193h2M680 1187h2M678 1193h2M674 1198h2M676 1192h2M673 1194h2M680 1201h2M674 1193h2M665 1197h2M676 1198h2M664 1201h2M667 1192h2M675 1202h2M672 1191h2M684 1194h2M675 1201h2M685 1193h2M678 1186h2M673 1192h2M684 1196h2M679 1206h2M674 1191h2M678 1189h2M670 1193h2M680 1198h2M680 1195h2M681 1203h2M677 1195h2M669 1200h2M676 1194h2M676 1200h2M678 1202h2M670 1191h2M682 1195h2M675 1194h2M687 1198h2M666 1192h2M675 1190h2M674 1197h2M680 1196h2M674 1194h2M675 1195h2M674 1193h2M678 1194h2M680 1195h2M662 1195h2M673 1187h2M667 1202h2M680 1196h2M662 1192h2M673 1194h2M682 1194h2M675 1203h2M679 1195h2M683 1195h2M667 1200h2M683 1192h2M666 1201h2M671 1197h2M674 1197h2M669 1197h2M673 1197h2M664 1193h2M670 1189h2M676 1197h2M665 1200h2M674 1193h2M676 1193h2M676 1196h2M689 1197h2M669 1199h2M674 1184h2M659 1190h2M676 1195h2M662 1198h2M665 1197h2M677 1193h2M675 1193h2M667 1194h2M673 1188h2M681 1204h2M662 1205h2M676 1195h2M681 1195h2M672 1193h2M669 1188h2M677 1197h2M668 1196h2M681 1197h2M678 1200h2M670 1193h2M677 1197h2M667 1194h2M677 1188h2M680 1190h2M670 1194h2M677 1193h2M681 1196h2M671 1193h2M678 1193h2M668 1196h2M668 1195h2M660 1201h2M681 1196h2M675 1193h2M672 1192h2M671 1198h2M676 1194h2M670 1189h2M681 1197h2M679 1195h2M673 1197h2M687 1197h2M682 1190h2M684 1198h2M681 1190h2M671 1193h2M682 1193h2M670 1193h2M676 1191h2M680 1191h2M673 1199h2M676 1183h2M670 1190h2M677 1196h2M665 1187h2M678 1191h2M679 1189h2M671 1188h2M667 1193h2M682 1196h2M663 1186h2M673 1197h2M673 1194h2M687 1191h2M672 1193h2M673 1194h2M669 1192h2M665 1193h2M672 1193h2M675 1190h2M675 1196h2M678 1201h2M665 1192h2M678 1196h2M683 1202h2M669 1196h2M669 1189h2M685 1194h2M675 1199h2M681 1192h2M679 1193h2M678 1189h2M678 1192h2M685 1197h2M671 1197h2M678 1193h2M688 1194h2M669 1193h2M668 1197h2M670 1201h2M673 1194h2M674 1189h2M682 1197h2M679 1194h2M681 1191h2M667 1194h2M683 1194h2M679 1192h2M665 1193h2M673 1200h2M682 1192h2M669 1197h2M679 1193h2M677 1192h2M682 1199h2M667 1190h2M669 1198h2M665 1192h2M680 1191h2M676 1200h2M677 1199h2M669 1201h2M679 1196h2M687 1190h2M667 1197h2M679 1189h2M674 1196h2M672 1201h2M668 1198h2M682 1194h2M679 1195h2M681 1190h2M673 1194h2M670 1192h2M672 1191h2M672 1195h2M679 1188h2M670 1190h2M665 1193h2M676 1195h2M685 1196h2M680 1200h2M667 1195h2M668 1191h2M679 1193h2M677 1191h2M683 1197h2M675 1193h2M670 1198h2M679 1196h2M668 1190h2M665 1195h2M681 1198h2M677 1191h2M676 1190h2M669 1190h2M679 1193h2M677 1192h2M686 1196h2M670 1197h2M669 1189h2M672 1191h2M673 1195h2M674 1199h2M664 1195h2M670 1200h2M683 1195h2M673 1199h2M684 1197h2M682 1193h2M676 1192h2M677 1195h2M673 1192h2M677 1192h2M686 1190h2M680 1194h2M684 1194h2M671 1185h2M671 1194h2M684 1195h2M683 1198h2M672 1192h2M671 1190h2M678 1193h2M673 1193h2M677 1191h2M681 1192h2M676 1190h2M674 1192h2M683 1196h2M675 1192h2M673 1194h2M667 1190h2M690 1196h2M677 1204h2M679 1188h2M683 1201h2M680 1191h2M667 1200h2M680 1192h2M681 1197h2M668 1195h2M673 1201h2M684 1190h2M674 1194h2M669 1192h2" stroke="#e8650c" stroke-width="1.6" fill="none" opacity="0.88"/>
<path transform="scale(.5)" d="M692 1194h2M695 1191h2M695 1189h2M704 1169h2M691 1197h2M698 1192h2M705 1183h2M704 1183h2M701 1191h2M697 1190h2M699 1194h2M701 1198h2M702 1190h2M703 1187h2M701 1187h2M701 1189h2M703 1182h2M707 1195h2M691 1190h2M698 1183h2M700 1191h2M699 1193h2M702 1204h2M700 1188h2M704 1190h2M702 1183h2M694 1189h2M693 1195h2M698 1186h2M697 1199h2M700 1195h2M708 1193h2M703 1183h2M694 1189h2M694 1193h2M697 1186h2M695 1195h2M703 1187h2M695 1193h2M702 1188h2M710 1198h2M698 1184h2M699 1192h2M695 1187h2M703 1192h2M701 1194h2M703 1180h2M709 1194h2M697 1196h2M692 1192h2M692 1187h2M697 1193h2M696 1192h2M697 1193h2M703 1192h2M701 1186h2M695 1192h2M691 1177h2M694 1190h2M702 1189h2M689 1187h2M699 1190h2M707 1187h2M706 1186h2M699 1185h2M694 1184h2M698 1182h2M694 1191h2M707 1185h2M704 1198h2M701 1191h2M702 1189h2M689 1190h2M696 1190h2M711 1188h2M693 1185h2M698 1188h2M699 1199h2M704 1195h2M693 1194h2M699 1198h2M708 1196h2M694 1187h2M704 1196h2M691 1192h2M705 1188h2M697 1198h2M696 1191h2M700 1182h2M708 1193h2M692 1183h2M700 1186h2M703 1186h2M701 1194h2M702 1196h2M689 1190h2M700 1182h2M704 1188h2M706 1186h2M694 1190h2M706 1189h2M692 1193h2M700 1194h2M697 1192h2M685 1191h2M705 1182h2M706 1198h2M701 1187h2M698 1183h2M708 1186h2M700 1180h2M700 1194h2M700 1189h2M700 1197h2M705 1196h2M699 1199h2M698 1184h2M693 1191h2M704 1193h2M694 1189h2M703 1193h2M696 1192h2M699 1187h2M704 1190h2M705 1191h2M699 1179h2M702 1192h2M698 1184h2M693 1186h2M691 1191h2" stroke="#ee3030" stroke-width="1.3" fill="none" opacity="0.7"/>
<path transform="scale(.5)" d="M709 1173h2M726 1165h2M716 1173h2M697 1194h2M711 1180h2M715 1173h2M699 1182h2M725 1172h2M715 1183h2M719 1175h2M699 1183h2M709 1173h2M717 1180h2M715 1167h2M725 1158h2M698 1189h2M721 1162h2M716 1171h2M715 1154h2M716 1164h2M709 1162h2M722 1163h2M710 1181h2M693 1189h2M706 1183h2M709 1182h2M723 1168h2M707 1180h2M705 1184h2M723 1175h2M715 1171h2M717 1176h2M712 1172h2M704 1178h2M724 1159h2M711 1193h2M715 1154h2M702 1189h2M713 1165h2M701 1178h2M700 1177h2M707 1182h2M709 1180h2M724 1156h2M708 1191h2M704 1169h2M722 1171h2M711 1171h2M697 1190h2M707 1183h2M724 1162h2M694 1191h2M696 1178h2M704 1181h2M724 1160h2M704 1162h2M716 1172h2M717 1180h2M696 1180h2M724 1171h2M711 1171h2M705 1182h2M717 1163h2M699 1173h2M693 1181h2M722 1176h2M704 1176h2M715 1188h2M714 1165h2M701 1184h2M709 1184h2M719 1158h2M727 1165h2M734 1158h2M730 1165h2M705 1182h2M710 1180h2M709 1170h2M729 1169h2M714 1180h2M715 1168h2M739 1159h2M707 1174h2M710 1184h2M713 1181h2M710 1184h2M712 1164h2M690 1188h2M724 1161h2M706 1184h2M720 1172h2M712 1174h2M704 1160h2M701 1179h2M728 1158h2M709 1161h2M714 1170h2M718 1189h2M717 1169h2M713 1167h2M700 1193h2M704 1174h2M709 1175h2M714 1172h2M705 1166h2M723 1167h2M734 1150h2M728 1157h2M710 1173h2M724 1167h2M717 1168h2M709 1167h2M715 1173h2M699 1189h2M714 1163h2M725 1158h2M726 1172h2M704 1176h2M719 1167h2M701 1188h2M702 1177h2M704 1171h2M716 1175h2M697 1191h2M725 1155h2M693 1192h2M704 1176h2M734 1170h2M714 1172h2M714 1165h2M715 1166h2M732 1155h2M700 1177h2M707 1173h2M709 1175h2M693 1186h2M720 1160h2M728 1165h2M718 1166h2M696 1190h2M715 1170h2M728 1169h2M701 1178h2M711 1166h2M714 1167h2M710 1166h2M724 1168h2M712 1181h2M706 1175h2M712 1176h2M700 1191h2M714 1173h2M706 1166h2M712 1187h2M707 1173h2M705 1172h2M700 1163h2M721 1178h2M707 1181h2M724 1157h2M717 1173h2M710 1167h2M710 1182h2M714 1176h2M712 1170h2M716 1164h2M701 1180h2M722 1158h2M709 1187h2M733 1162h2M708 1185h2M702 1175h2M706 1180h2M713 1165h2M714 1171h2M725 1161h2M717 1179h2M726 1166h2M710 1182h2M711 1172h2M710 1192h2M732 1148h2M714 1175h2M708 1180h2M707 1174h2M714 1175h2M709 1182h2M703 1177h2M715 1176h2M704 1197h2M701 1190h2M717 1164h2M723 1178h2M716 1176h2M707 1187h2M721 1170h2M720 1165h2M712 1164h2M723 1158h2M712 1171h2M716 1169h2M713 1173h2M710 1182h2M713 1174h2M715 1163h2M704 1177h2M708 1179h2M714 1163h2M705 1170h2M714 1165h2M703 1179h2M720 1182h2M706 1174h2M710 1175h2M706 1181h2M726 1163h2M716 1174h2M711 1179h2M724 1161h2M706 1183h2" stroke="#ee3030" stroke-width="1.3" fill="none" opacity="0.55"/>
<path transform="scale(.5)" d="M702 1111h2M732 1112h2M717 1113h2M703 1108h2M709 1115h2M717 1091h2M709 1117h2M703 1128h2M706 1117h2M692 1120h2M689 1095h2M701 1116h2M718 1114h2M711 1107h2M711 1142h2M694 1091h2M705 1122h2M723 1092h2M704 1100h2M706 1098h2M704 1115h2M704 1122h2M711 1108h2M699 1105h2M697 1094h2M710 1117h2M702 1115h2M710 1098h2M725 1121h2M709 1095h2M700 1122h2M695 1106h2M721 1098h2M708 1110h2M682 1113h2M701 1115h2M712 1114h2M703 1093h2M733 1108h2M716 1132h2M707 1110h2M708 1120h2M711 1108h2M702 1121h2M730 1104h2M716 1111h2M694 1116h2M721 1130h2M703 1109h2M708 1127h2M713 1115h2M721 1117h2M703 1101h2M707 1105h2M706 1094h2M706 1112h2M722 1110h2M690 1107h2M706 1102h2M704 1109h2M702 1138h2M693 1104h2M719 1119h2M712 1116h2M715 1094h2M726 1120h2M743 1099h2M707 1122h2M706 1102h2M702 1100h2M690 1096h2M717 1088h2M719 1111h2M702 1103h2M707 1126h2M717 1115h2M703 1092h2M701 1123h2M712 1106h2M706 1114h2M714 1116h2M723 1105h2M720 1089h2M697 1088h2M718 1105h2M703 1119h2M697 1112h2M703 1117h2M703 1087h2M717 1090h2M700 1108h2M723 1092h2M724 1125h2M712 1111h2M713 1124h2M724 1117h2M727 1111h2M701 1104h2M715 1099h2M710 1131h2M722 1096h2M708 1112h2M705 1096h2M725 1092h2M692 1124h2M699 1084h2M703 1097h2M704 1115h2M707 1129h2M713 1109h2M722 1092h2M725 1111h2M720 1118h2M704 1100h2M714 1103h2M707 1122h2M695 1119h2M719 1109h2M703 1117h2M696 1105h2M721 1085h2M713 1120h2M719 1096h2M729 1088h2M702 1112h2M704 1114h2M703 1111h2M724 1122h2M708 1116h2M707 1118h2M705 1110h2M718 1119h2M712 1089h2M708 1101h2M728 1130h2M705 1133h2M709 1127h2M707 1108h2M702 1095h2M712 1106h2M710 1117h2M724 1109h2M711 1110h2M715 1135h2M694 1115h2M707 1127h2M746 1085h2M702 1110h2M721 1124h2M714 1114h2M712 1105h2M717 1125h2M701 1094h2M720 1108h2M717 1118h2M720 1107h2M719 1104h2M720 1099h2M691 1122h2M712 1096h2M722 1109h2M719 1103h2M706 1104h2M707 1113h2M717 1095h2M700 1122h2M715 1097h2M710 1109h2M704 1130h2M720 1116h2M686 1130h2M707 1103h2M724 1116h2M720 1077h2M717 1103h2M708 1127h2M696 1112h2M711 1115h2M711 1112h2M711 1108h2M715 1099h2M702 1113h2M733 1096h2M694 1105h2M689 1115h2M713 1103h2M701 1101h2M725 1119h2M704 1095h2M720 1110h2M702 1089h2M700 1118h2M722 1118h2M723 1118h2M700 1097h2M691 1116h2M722 1122h2M707 1107h2M719 1092h2M714 1112h2M722 1103h2M718 1093h2M713 1120h2M704 1107h2M696 1107h2M698 1111h2M714 1095h2M725 1092h2M695 1114h2M703 1096h2M711 1115h2M712 1109h2M718 1113h2M707 1111h2M716 1110h2M706 1090h2M697 1087h2M730 1120h2M709 1081h2M706 1109h2M723 1121h2M732 1099h2M729 1092h2M712 1095h2M707 1092h2M709 1120h2M710 1114h2M716 1101h2M724 1109h2M710 1109h2M702 1108h2M701 1122h2M703 1117h2M702 1108h2M704 1118h2M725 1109h2M719 1123h2M719 1115h2M708 1095h2M699 1109h2M714 1121h2M717 1106h2M710 1096h2M697 1143h2M706 1107h2M721 1099h2M708 1089h2M705 1123h2M687 1116h2M709 1106h2M710 1126h2M704 1119h2M699 1084h2M709 1113h2M704 1124h2M724 1115h2M708 1115h2M722 1126h2M703 1128h2M703 1114h2M705 1118h2M711 1117h2M716 1092h2M703 1121h2M700 1115h2M718 1090h2M709 1124h2M711 1105h2M707 1109h2M705 1117h2M701 1110h2M707 1129h2M716 1118h2M718 1128h2M711 1094h2M703 1105h2M704 1094h2M715 1114h2M708 1104h2M714 1105h2M707 1112h2M701 1112h2M709 1088h2M695 1093h2M721 1098h2M713 1104h2M702 1124h2M711 1133h2M711 1101h2M702 1094h2M708 1123h2M706 1113h2M719 1122h2M703 1116h2M704 1129h2M719 1113h2M718 1104h2M703 1102h2M708 1102h2M704 1105h2" stroke="#ee3030" stroke-width="1.3" fill="none" opacity="0.5"/>
<path transform="scale(.5)" d="M734 1159h2M716 1163h2M739 1162h2M726 1156h2M718 1150h2M715 1154h2M708 1159h2M727 1140h2M761 1150h2M728 1160h2M723 1161h2M727 1160h2M740 1151h2M721 1151h2M717 1135h2M701 1155h2M700 1172h2M725 1165h2M720 1136h2M698 1156h2M711 1149h2M728 1160h2M712 1151h2M705 1152h2M735 1160h2M723 1169h2M725 1134h2M717 1154h2M714 1165h2M705 1177h2M724 1141h2M714 1165h2M735 1158h2M731 1159h2M722 1153h2M729 1151h2M729 1151h2M708 1170h2M711 1149h2M728 1130h2M727 1161h2M726 1152h2M724 1140h2M726 1163h2M728 1145h2M728 1165h2M703 1147h2M725 1166h2M729 1143h2M726 1154h2M733 1151h2M735 1155h2M728 1146h2M729 1159h2M727 1144h2M728 1145h2M686 1132h2M712 1154h2M740 1156h2M719 1143h2" stroke="#ee3030" stroke-width="1.3" fill="none" opacity="0.4"/>
<line x1="327" y1="523.6" x2="351" y2="612.7" stroke="#f54545" stroke-width="0.85"/>
<line x1="299.4" y1="585.9" x2="388.9" y2="563.4" stroke="#f54545" stroke-width="0.85"/>
<circle cx="332" cy="540.9" r="2.1" fill="#f00000"/>
<circle cx="372.9" cy="567.1" r="2.1" fill="#f00000"/>
<circle cx="341" cy="575.5" r="1.5" fill="#fff" stroke="#f54545" stroke-width="0.8"/>
<line x1="297.9" y1="546.1" x2="299.4" y2="546.1" stroke="#aaa" stroke-width="0.7"/>
<line x1="322" y1="612.7" x2="322" y2="614.2" stroke="#aaa" stroke-width="0.7"/>
<line x1="297.9" y1="568.1" x2="299.4" y2="568.1" stroke="#aaa" stroke-width="0.7"/>
<line x1="344.1" y1="612.7" x2="344.1" y2="614.2" stroke="#aaa" stroke-width="0.7"/>
<line x1="297.9" y1="590.1" x2="299.4" y2="590.1" stroke="#aaa" stroke-width="0.7"/>
<line x1="366.2" y1="612.7" x2="366.2" y2="614.2" stroke="#aaa" stroke-width="0.7"/>
<rect x="299.4" y="523.6" width="89.5" height="89.1" fill="none" stroke="#9c9c9c" stroke-width="0.9"/>
<text x="302.9" y="533.6" font-size="8.7" fill="#222">0.4%</text>
<text x="387.1" y="533.6" font-size="8.7" text-anchor="end" fill="#222">20%</text>
<rect x="300" y="600.3" width="20.6" height="9.4" fill="#fff"/>
<text x="302.9" y="607.6" font-size="8.7" fill="#222">55%</text>
<text x="387.1" y="607.6" font-size="8.7" text-anchor="end" fill="#222">25%</text>
<rect x="398.6" y="524.6" width="89.2" height="89" fill="#fff"/>
<polygon points="398.6,586.6 439.9,576 449.9,613.6 398.6,613.6" fill="#f4f5b6"/>
<path transform="scale(.5)" d="M892 1198h2M874 1199h2M868 1190h2M863 1196h2M873 1181h2M890 1187h2M859 1194h2M871 1188h2M878 1195h2M872 1196h2M871 1199h2M870 1191h2M874 1197h2M853 1188h2M884 1204h2M884 1203h2M874 1206h2M877 1201h2M867 1195h2M879 1192h2M864 1190h2M890 1193h2M863 1202h2M860 1187h2M863 1204h2M866 1187h2M872 1182h2M870 1197h2M864 1198h2M874 1190h2M868 1196h2M859 1206h2M858 1189h2M863 1198h2M872 1189h2M869 1194h2M865 1183h2M867 1204h2M881 1202h2M889 1191h2M864 1200h2M858 1202h2M850 1187h2M894 1192h2M865 1199h2M872 1186h2M869 1207h2M882 1191h2M854 1199h2M877 1179h2M870 1189h2M879 1196h2M867 1202h2M863 1205h2M868 1193h2M856 1200h2M863 1198h2M861 1188h2M893 1191h2M861 1207h2M890 1192h2M875 1185h2M871 1198h2M884 1199h2M863 1199h2M873 1195h2M867 1206h2M881 1196h2M867 1196h2M874 1210h2M876 1204h2M869 1185h2M854 1194h2M883 1193h2M883 1193h2M883 1201h2M857 1190h2M871 1197h2M871 1204h2M869 1199h2M884 1197h2M878 1197h2M877 1200h2M869 1194h2M881 1189h2M860 1199h2M874 1196h2M879 1186h2M867 1189h2M868 1194h2M892 1185h2M854 1193h2M877 1196h2M865 1199h2M863 1201h2M876 1198h2M874 1186h2M877 1194h2M871 1195h2M863 1187h2M880 1197h2M859 1201h2M852 1186h2M876 1204h2M868 1203h2M870 1203h2M862 1199h2M853 1200h2M854 1195h2M870 1199h2M862 1199h2M882 1192h2M879 1189h2M883 1203h2M861 1189h2M871 1199h2M892 1196h2M869 1190h2M853 1194h2M876 1196h2M863 1184h2M881 1206h2M873 1191h2M867 1197h2M868 1192h2M886 1198h2M884 1199h2M871 1188h2M872 1196h2M879 1193h2M876 1186h2M874 1200h2M859 1198h2M873 1186h2M862 1201h2M895 1186h2M873 1197h2M879 1207h2M872 1190h2M861 1193h2M882 1202h2M891 1204h2M878 1188h2M879 1187h2M862 1187h2M858 1198h2M863 1193h2M860 1193h2M856 1197h2M889 1201h2M861 1173h2M870 1204h2M869 1192h2M868 1194h2M868 1198h2M846 1200h2M877 1194h2M875 1208h2M878 1191h2M891 1191h2M882 1201h2M884 1205h2M863 1183h2M875 1204h2M874 1189h2M864 1199h2M854 1194h2M863 1189h2M868 1196h2M847 1190h2M870 1202h2M876 1183h2M867 1193h2M888 1194h2M873 1194h2M870 1190h2M879 1193h2M872 1200h2M884 1193h2M857 1188h2M878 1204h2M853 1185h2M869 1189h2M860 1196h2M887 1190h2M878 1188h2M867 1189h2M885 1203h2M865 1205h2M884 1193h2M886 1195h2M867 1204h2M876 1190h2M884 1189h2M875 1184h2M874 1199h2M865 1188h2M869 1186h2M870 1198h2M876 1202h2M878 1197h2M857 1183h2M882 1184h2M886 1187h2M870 1193h2M856 1197h2M866 1186h2M871 1208h2M872 1197h2M886 1207h2M891 1202h2M884 1196h2M882 1200h2M862 1201h2M869 1193h2M862 1186h2M858 1193h2M862 1199h2M862 1201h2M863 1188h2M877 1192h2M877 1191h2M851 1192h2M876 1191h2M861 1203h2M881 1195h2M851 1203h2M869 1194h2M879 1193h2M852 1192h2M866 1204h2M864 1191h2M889 1190h2M879 1198h2M870 1185h2M867 1193h2M874 1204h2M865 1196h2M873 1194h2M877 1203h2M866 1184h2M879 1203h2M866 1187h2M879 1189h2M855 1204h2M862 1189h2M870 1194h2M857 1185h2M877 1196h2M882 1196h2M875 1193h2M878 1200h2M867 1193h2M866 1198h2M889 1192h2M879 1202h2M882 1181h2M870 1192h2M874 1195h2M862 1193h2M870 1194h2M867 1198h2M865 1210h2M858 1199h2M865 1187h2M852 1189h2M849 1194h2M869 1198h2M872 1192h2M880 1196h2M843 1189h2M872 1187h2M880 1193h2M896 1203h2M876 1188h2M870 1189h2M873 1200h2M870 1198h2M876 1195h2M889 1207h2M876 1194h2M866 1197h2M884 1197h2M869 1202h2M864 1218h2M884 1190h2M877 1205h2M876 1198h2M868 1185h2M873 1194h2M878 1194h2M868 1194h2M865 1188h2M869 1199h2M870 1193h2M855 1191h2M871 1194h2M873 1200h2M866 1194h2M860 1201h2M866 1201h2M870 1198h2M867 1202h2M863 1210h2M867 1185h2M874 1202h2M901 1192h2M882 1196h2M871 1196h2M885 1185h2M878 1199h2M872 1187h2M880 1190h2M883 1201h2M858 1199h2M848 1202h2M874 1197h2M867 1194h2M878 1198h2M886 1196h2" stroke="#ee8a2a" stroke-width="1.4" fill="none" opacity="0.65"/>
<path transform="scale(.5)" d="M879 1195h2M880 1200h2M877 1197h2M873 1198h2M867 1200h2M877 1195h2M870 1192h2M870 1192h2M878 1195h2M877 1206h2M872 1195h2M884 1191h2M865 1196h2M867 1198h2M877 1193h2M880 1197h2M881 1189h2M883 1194h2M874 1200h2M886 1193h2M871 1190h2M880 1188h2M871 1189h2M879 1199h2M874 1193h2M872 1204h2M886 1199h2M863 1202h2M881 1183h2M871 1197h2M874 1199h2M879 1195h2M881 1195h2M888 1191h2M875 1189h2M872 1196h2M869 1195h2M873 1194h2M869 1195h2M875 1194h2M882 1193h2M872 1187h2M876 1200h2M881 1201h2M877 1195h2M869 1202h2M877 1195h2M882 1194h2M878 1193h2M877 1194h2M875 1196h2M878 1198h2M874 1196h2M872 1194h2M885 1195h2M869 1193h2M876 1188h2M871 1193h2M869 1196h2M883 1195h2M871 1199h2M887 1193h2M877 1199h2M870 1195h2M873 1195h2M875 1200h2M873 1191h2M878 1191h2M874 1199h2M881 1199h2M873 1197h2M874 1192h2M877 1184h2M870 1191h2M868 1188h2M877 1197h2M882 1191h2M871 1187h2M875 1197h2M885 1191h2M875 1196h2M875 1196h2M872 1198h2M880 1201h2M877 1192h2M869 1189h2M880 1195h2M877 1191h2M879 1191h2M875 1192h2M879 1200h2M881 1198h2M874 1192h2M875 1199h2M877 1201h2M871 1197h2M870 1195h2M864 1197h2M876 1194h2M870 1192h2M874 1194h2M869 1193h2M882 1194h2M890 1197h2M886 1198h2M877 1192h2M881 1200h2M880 1190h2M882 1193h2M866 1195h2M888 1193h2M871 1199h2M866 1187h2M866 1203h2M880 1190h2M874 1197h2M873 1199h2M875 1189h2M884 1195h2M879 1198h2M886 1189h2M875 1191h2M882 1196h2M877 1190h2M884 1194h2M871 1192h2M883 1195h2M892 1191h2M875 1186h2M876 1191h2M869 1195h2M875 1194h2M874 1195h2M874 1190h2M880 1186h2M875 1195h2M877 1194h2M883 1195h2M872 1189h2M884 1194h2M869 1191h2M865 1203h2M872 1188h2M871 1198h2M875 1190h2M885 1194h2M869 1194h2M865 1197h2M879 1198h2M887 1195h2M867 1190h2M874 1195h2M876 1194h2M862 1192h2M879 1194h2M878 1200h2M874 1195h2M876 1191h2M863 1200h2M873 1202h2M877 1201h2M869 1195h2M871 1194h2M878 1196h2M886 1194h2M884 1187h2M882 1199h2M877 1190h2M873 1190h2M868 1193h2M874 1199h2M867 1194h2M871 1199h2M874 1197h2M875 1198h2M875 1191h2M878 1188h2M878 1190h2M869 1202h2M866 1190h2M876 1201h2M864 1194h2M870 1190h2M867 1192h2M875 1199h2M874 1193h2M876 1192h2M880 1199h2M873 1192h2M878 1192h2M879 1199h2M881 1198h2M860 1195h2M869 1192h2M881 1192h2M882 1205h2M865 1190h2M873 1186h2M874 1195h2M872 1192h2M879 1198h2M879 1192h2M880 1197h2M885 1194h2M883 1192h2M880 1196h2M880 1192h2M881 1203h2M874 1199h2M870 1196h2M873 1198h2M878 1193h2M874 1195h2M873 1196h2M872 1199h2M871 1197h2M870 1197h2M871 1202h2M868 1196h2M874 1190h2M885 1196h2M875 1195h2M885 1198h2M876 1187h2M872 1200h2M876 1190h2M885 1200h2M883 1197h2M872 1191h2M878 1192h2M883 1193h2M878 1195h2M872 1190h2M868 1193h2M870 1198h2M865 1195h2M866 1194h2M874 1198h2M872 1190h2M884 1190h2" stroke="#e8650c" stroke-width="1.6" fill="none" opacity="0.88"/>
<path transform="scale(.5)" d="M893 1198h2M895 1190h2M891 1189h2M894 1193h2M895 1200h2M896 1187h2M897 1190h2M892 1188h2M900 1189h2M895 1184h2M893 1198h2M899 1194h2M892 1192h2M889 1195h2M896 1193h2M887 1197h2M892 1188h2M894 1190h2M896 1189h2M897 1192h2M896 1183h2M895 1206h2M891 1186h2M896 1190h2M892 1198h2M893 1189h2M892 1195h2M900 1197h2M899 1180h2M885 1186h2M892 1192h2M890 1185h2M894 1197h2M899 1197h2M894 1195h2M898 1188h2M891 1188h2M901 1194h2M902 1181h2M894 1186h2M882 1195h2M888 1191h2M889 1183h2M898 1193h2M893 1195h2M890 1188h2M897 1181h2M892 1185h2M887 1190h2M886 1189h2M897 1182h2M897 1187h2M890 1188h2M889 1193h2M892 1182h2M903 1185h2M895 1196h2M892 1182h2M891 1178h2M896 1182h2M898 1187h2M889 1186h2M892 1190h2M894 1189h2M894 1184h2M894 1195h2M893 1185h2M901 1196h2M892 1185h2M898 1189h2M892 1197h2M902 1188h2M893 1193h2M894 1196h2M899 1182h2M891 1185h2M898 1189h2M893 1182h2M894 1189h2M890 1192h2M896 1189h2M892 1187h2M895 1191h2M893 1188h2M895 1190h2M893 1186h2M899 1198h2M889 1197h2M894 1194h2M899 1189h2M897 1193h2M898 1192h2M890 1189h2M900 1197h2M892 1200h2M894 1177h2M891 1194h2M897 1192h2M897 1192h2M887 1187h2M885 1193h2M897 1188h2M892 1182h2M897 1189h2M895 1201h2M894 1190h2M893 1188h2M889 1184h2M891 1197h2M896 1193h2M896 1188h2M899 1199h2M893 1191h2M893 1194h2M895 1188h2M884 1200h2M899 1184h2M893 1196h2M894 1188h2M895 1184h2M890 1193h2M896 1185h2M890 1187h2M883 1193h2M897 1196h2M904 1201h2M897 1189h2M897 1191h2M894 1176h2M903 1190h2M900 1182h2M892 1188h2M894 1189h2M890 1193h2M894 1192h2M887 1194h2M891 1185h2M894 1179h2M887 1198h2M891 1189h2M897 1193h2M898 1186h2M890 1187h2M893 1188h2M893 1188h2M893 1193h2M893 1188h2M890 1189h2M899 1190h2M894 1189h2M890 1188h2M895 1197h2M897 1191h2M896 1201h2M903 1191h2M890 1186h2M892 1184h2M890 1190h2M889 1184h2M899 1188h2M894 1186h2M894 1197h2M898 1191h2M892 1189h2M888 1188h2M893 1185h2M891 1186h2M888 1190h2M901 1197h2M895 1193h2M897 1188h2M901 1191h2M894 1193h2M897 1183h2M892 1190h2M886 1186h2M897 1186h2M899 1194h2M892 1193h2M893 1194h2M887 1185h2M889 1191h2M900 1194h2M892 1186h2M891 1191h2M893 1189h2M890 1198h2M889 1187h2M888 1185h2M895 1192h2M892 1186h2M892 1193h2M897 1195h2M902 1193h2M892 1193h2M889 1188h2M889 1196h2M898 1191h2M890 1194h2M896 1185h2" stroke="#ee3030" stroke-width="1.3" fill="none" opacity="0.8"/>
<path transform="scale(.5)" d="M903 1177h2M877 1200h2M887 1202h2M922 1155h2M909 1171h2M888 1187h2M898 1184h2M901 1189h2M925 1156h2M907 1177h2M898 1186h2M919 1172h2M916 1174h2M916 1161h2M904 1170h2M911 1171h2M904 1178h2M911 1174h2M893 1182h2M902 1192h2M913 1182h2M908 1165h2M929 1151h2M906 1172h2M905 1174h2M921 1174h2M894 1192h2M901 1183h2M925 1164h2M898 1170h2M916 1178h2M912 1187h2M912 1173h2M919 1146h2M897 1184h2M916 1178h2M900 1180h2M904 1166h2M908 1175h2M912 1154h2M914 1167h2M895 1186h2M909 1170h2M918 1173h2M909 1176h2M911 1182h2M891 1195h2M904 1174h2M909 1170h2M916 1162h2M896 1173h2M898 1190h2M907 1179h2M912 1175h2M905 1175h2M893 1196h2M901 1175h2M902 1179h2M891 1191h2M902 1177h2M896 1189h2M907 1187h2M920 1174h2M913 1164h2M917 1174h2M901 1163h2M891 1195h2M896 1183h2M906 1174h2M926 1160h2M912 1179h2M896 1191h2M896 1183h2M900 1177h2M921 1166h2M914 1166h2M905 1173h2M901 1180h2M891 1182h2M905 1185h2M897 1181h2M899 1184h2M911 1183h2M915 1183h2M892 1175h2M925 1158h2M896 1177h2M897 1179h2M890 1193h2M908 1179h2M930 1154h2M900 1178h2M912 1170h2M926 1173h2M924 1161h2M911 1156h2M898 1190h2M906 1166h2M917 1162h2M919 1173h2M903 1181h2M899 1175h2M911 1185h2M891 1189h2M906 1175h2M929 1161h2M917 1174h2M916 1174h2M898 1181h2M892 1185h2M903 1177h2M914 1174h2M903 1188h2M913 1179h2M911 1177h2M917 1155h2M908 1173h2M927 1161h2M906 1164h2M891 1184h2M908 1173h2M912 1169h2M901 1181h2M914 1177h2M928 1156h2M898 1189h2M904 1180h2M918 1173h2M906 1188h2M908 1189h2M920 1164h2M910 1176h2M893 1181h2M903 1175h2M903 1173h2M916 1182h2M916 1176h2M889 1182h2M923 1167h2M895 1184h2M912 1165h2M918 1167h2M897 1173h2M899 1172h2M919 1173h2M918 1167h2M910 1171h2M894 1195h2M904 1182h2M912 1161h2M895 1192h2M895 1188h2M912 1171h2M898 1179h2M900 1176h2M911 1186h2M902 1181h2M912 1173h2M928 1168h2M900 1187h2M910 1177h2M895 1177h2M916 1170h2M912 1184h2M933 1150h2M906 1168h2M902 1166h2M921 1162h2M896 1173h2M900 1180h2M906 1171h2M898 1178h2M895 1198h2M896 1178h2M905 1179h2M917 1168h2M900 1178h2M889 1189h2M898 1192h2M920 1158h2M907 1173h2M924 1166h2M938 1148h2M905 1194h2M906 1180h2M887 1195h2M905 1186h2M901 1183h2M924 1165h2M905 1178h2M899 1182h2M931 1151h2M891 1198h2M923 1167h2M920 1179h2M901 1182h2M895 1180h2M901 1174h2M904 1174h2M910 1176h2M905 1169h2M907 1171h2M906 1179h2M911 1166h2M899 1166h2M892 1197h2M903 1184h2M930 1164h2M928 1181h2M928 1154h2" stroke="#ee3030" stroke-width="1.3" fill="none" opacity="0.6"/>
<path transform="scale(.5)" d="M882 1117h2M905 1110h2M909 1123h2M924 1104h2M887 1109h2M925 1110h2M904 1136h2M910 1128h2M935 1074h2M896 1118h2M914 1126h2M910 1123h2M914 1082h2M910 1132h2M909 1122h2M924 1107h2M905 1128h2M897 1116h2M901 1125h2M914 1097h2M919 1096h2M920 1120h2M911 1097h2M916 1117h2M910 1089h2M937 1096h2M909 1114h2M921 1089h2M901 1119h2M931 1118h2M894 1109h2M923 1118h2M908 1133h2M887 1128h2M914 1110h2M898 1117h2M899 1134h2M901 1124h2M923 1110h2M917 1125h2M921 1116h2M909 1098h2M912 1111h2M901 1100h2M918 1106h2M891 1133h2M910 1108h2M893 1098h2M900 1127h2M910 1101h2M901 1113h2M915 1115h2M911 1101h2M908 1118h2M900 1141h2M916 1086h2M916 1102h2M921 1079h2M904 1106h2M921 1081h2M917 1100h2M913 1115h2M906 1157h2M915 1135h2M904 1120h2M921 1130h2M925 1104h2M903 1118h2M899 1122h2M929 1104h2M901 1129h2M929 1105h2M934 1132h2M907 1101h2M928 1088h2M934 1096h2M904 1124h2M899 1110h2M918 1131h2M924 1112h2M924 1115h2M916 1083h2M905 1108h2M919 1097h2M907 1111h2M914 1119h2M925 1113h2M902 1138h2M912 1115h2M930 1109h2M904 1121h2M886 1102h2M913 1102h2M930 1108h2M921 1119h2M928 1095h2M910 1102h2M910 1116h2M898 1132h2M903 1121h2M910 1127h2M918 1078h2M917 1134h2M907 1113h2M923 1110h2M925 1122h2M907 1080h2M899 1125h2M910 1108h2M903 1082h2M926 1094h2M920 1100h2M919 1122h2M925 1076h2M903 1145h2M909 1094h2M911 1126h2M906 1084h2M912 1119h2M908 1115h2M918 1123h2M932 1140h2M911 1121h2M933 1080h2M912 1122h2M921 1105h2M910 1098h2M901 1120h2M877 1134h2M899 1128h2M933 1105h2M908 1110h2M898 1112h2M925 1098h2M914 1138h2M907 1123h2M907 1127h2M924 1117h2M903 1093h2M926 1126h2M902 1121h2M927 1084h2M892 1107h2M923 1109h2M904 1148h2M916 1121h2M924 1090h2M922 1123h2M912 1115h2M917 1124h2M908 1114h2M911 1121h2M937 1099h2M904 1111h2M904 1131h2M899 1113h2M915 1109h2M911 1111h2M914 1108h2M907 1122h2M905 1144h2M910 1113h2M917 1123h2M917 1102h2M904 1114h2M918 1124h2M922 1099h2M919 1099h2M898 1096h2M913 1101h2M916 1108h2M916 1113h2M889 1108h2M887 1130h2M922 1130h2M908 1112h2M921 1113h2M906 1127h2M904 1113h2M901 1106h2M920 1093h2M916 1125h2M909 1123h2M893 1114h2M903 1113h2M918 1094h2M912 1117h2M924 1113h2M932 1122h2M904 1092h2M923 1115h2M909 1136h2M927 1109h2M912 1113h2M889 1106h2M904 1116h2M934 1105h2M916 1109h2M899 1107h2M935 1089h2M911 1129h2M892 1128h2M906 1114h2M904 1120h2M903 1126h2M898 1125h2M889 1125h2M924 1095h2M930 1102h2M918 1095h2M919 1118h2M894 1113h2M893 1111h2M908 1111h2M914 1116h2M918 1100h2M928 1119h2M919 1113h2M901 1123h2M919 1112h2M932 1079h2M924 1101h2M925 1123h2M926 1083h2M930 1087h2M918 1135h2M916 1113h2M919 1118h2M919 1110h2M922 1106h2M900 1114h2M895 1117h2M894 1099h2M919 1091h2M905 1115h2M904 1122h2M920 1097h2M909 1136h2M905 1120h2M902 1138h2M903 1102h2M911 1094h2M922 1123h2M909 1133h2M906 1103h2M923 1107h2M904 1106h2M910 1108h2M907 1100h2M915 1093h2M907 1133h2M919 1096h2M917 1090h2M924 1088h2M912 1122h2M927 1101h2M908 1114h2M924 1112h2M912 1104h2M910 1118h2M907 1118h2M903 1125h2M893 1151h2M903 1118h2M911 1127h2M905 1121h2M899 1122h2M925 1107h2M910 1134h2M916 1128h2M930 1098h2M905 1120h2M916 1105h2M915 1117h2M920 1117h2M914 1115h2M896 1139h2M904 1113h2M920 1129h2M915 1132h2M925 1105h2M897 1092h2M926 1098h2M908 1116h2M905 1117h2M908 1073h2M903 1103h2M922 1120h2M917 1119h2M930 1100h2M913 1102h2M917 1125h2M920 1123h2M921 1118h2M909 1102h2M903 1120h2M907 1126h2M919 1106h2M897 1108h2M921 1113h2M903 1116h2M899 1136h2M917 1122h2M913 1125h2M919 1144h2M904 1136h2M910 1116h2M894 1107h2M906 1096h2M922 1107h2M922 1110h2M911 1137h2M910 1121h2M905 1096h2M884 1121h2M898 1124h2M904 1120h2M902 1148h2M917 1133h2M923 1120h2M902 1104h2M905 1097h2M900 1108h2M923 1095h2M901 1146h2M909 1115h2M903 1139h2M930 1097h2M908 1125h2M923 1118h2" stroke="#ee3030" stroke-width="1.3" fill="none" opacity="0.55"/>
<path transform="scale(.5)" d="M925 1171h2M891 1171h2M925 1138h2M926 1145h2M926 1160h2M926 1153h2M919 1169h2M934 1143h2M937 1144h2M935 1154h2M920 1170h2M919 1152h2M910 1144h2M926 1147h2M936 1165h2M921 1131h2M920 1149h2M920 1138h2M935 1154h2M909 1168h2M911 1165h2M928 1147h2M910 1150h2M914 1166h2M931 1134h2M944 1142h2M928 1152h2M914 1149h2M919 1167h2M933 1153h2M936 1158h2M943 1147h2M915 1163h2M928 1144h2M930 1142h2M915 1160h2M928 1157h2M926 1168h2M903 1156h2M928 1156h2M914 1136h2M913 1146h2M921 1181h2M942 1176h2M933 1142h2M934 1176h2M933 1147h2M933 1146h2M912 1148h2M929 1172h2" stroke="#ee3030" stroke-width="1.3" fill="none" opacity="0.4"/>
<line x1="426.3" y1="524.6" x2="449.9" y2="613.6" stroke="#f54545" stroke-width="0.85"/>
<line x1="398.6" y1="586.6" x2="487.8" y2="563.8" stroke="#f54545" stroke-width="0.85"/>
<circle cx="430.7" cy="541.9" r="2.1" fill="#f00000"/>
<circle cx="471.9" cy="568.2" r="2.1" fill="#f00000"/>
<circle cx="439.9" cy="576" r="1.5" fill="#fff" stroke="#f54545" stroke-width="0.8"/>
<line x1="397.1" y1="547.1" x2="398.6" y2="547.1" stroke="#aaa" stroke-width="0.7"/>
<line x1="421.1" y1="613.6" x2="421.1" y2="615.1" stroke="#aaa" stroke-width="0.7"/>
<line x1="397.1" y1="569.1" x2="398.6" y2="569.1" stroke="#aaa" stroke-width="0.7"/>
<line x1="443.1" y1="613.6" x2="443.1" y2="615.1" stroke="#aaa" stroke-width="0.7"/>
<line x1="397.1" y1="591" x2="398.6" y2="591" stroke="#aaa" stroke-width="0.7"/>
<line x1="465.2" y1="613.6" x2="465.2" y2="615.1" stroke="#aaa" stroke-width="0.7"/>
<rect x="398.6" y="524.6" width="89.2" height="89" fill="none" stroke="#9c9c9c" stroke-width="0.9"/>
<text x="402.1" y="534.6" font-size="8.7" fill="#222">0.4%</text>
<text x="486" y="534.6" font-size="8.7" text-anchor="end" fill="#222">23%</text>
<rect x="399.2" y="601.2" width="20.4" height="9.4" fill="#fff"/>
<text x="401.9" y="608.5" font-size="8.7" fill="#222">40%</text>
<text x="486" y="608.5" font-size="8.7" text-anchor="end" fill="#222">37%</text>
<text x="92.8" y="630.4" font-size="16" fill="#111" stroke="#111" stroke-width="0.22">Annexin V</text>
<line x1="170" y1="625.7" x2="250" y2="625.7" stroke="#000" stroke-width="1.7"/>
<polygon points="255.5,625.7 249,622.4 249,629" fill="#000"/>
<text x="87.6" y="584.3" font-size="16.6" text-anchor="middle" fill="#111" transform="rotate(-90 87.6 584.3)" stroke="#111" stroke-width="0.22">Viability</text>
<line x1="84" y1="551.5" x2="84" y2="505" stroke="#000" stroke-width="1.7"/>
<polygon points="84,499.6 80.7,506 87.3,506" fill="#000"/>
<text x="511.8" y="566" font-size="15.8" text-anchor="middle" fill="#111" transform="rotate(-90 511.8 566)" stroke="#111" stroke-width="0.22">% Annexin V+</text>
<line x1="507.3" y1="507.6" x2="507.3" y2="453" stroke="#000" stroke-width="1.7"/>
<polygon points="507.3,447.6 504,454 510.6,454" fill="#000"/>
<rect x="241.5" y="176" width="124.3" height="119" fill="#fff"/>
<polygon points="241.5,263.5 299.6,248 313.3,295 241.5,295" fill="#f4f5b6"/>
<path transform="scale(.5)" d="M579 539h2M613 533h2M579 535h2M577 547h2M583 540h2M538 545h2M581 539h2M594 536h2M563 547h2M583 536h2M601 529h2M570 537h2M592 532h2M584 529h2M569 536h2M584 548h2M548 554h2M590 551h2M579 550h2M575 535h2M560 544h2M598 548h2M610 545h2M578 540h2M581 528h2M581 524h2M579 530h2M580 544h2M601 530h2M595 549h2M576 539h2M549 554h2M584 546h2M574 538h2M577 540h2M584 546h2M572 523h2M591 538h2M592 551h2M570 542h2M586 536h2M553 547h2M570 529h2M560 554h2M571 533h2M584 562h2M576 540h2M599 540h2M589 552h2M574 545h2M557 538h2M581 528h2M581 538h2M545 552h2M569 538h2M565 539h2M565 545h2M591 557h2M587 528h2M575 534h2M576 543h2M575 542h2M575 539h2M550 544h2M580 537h2M552 549h2M578 530h2M562 540h2M554 547h2M569 536h2M578 545h2M565 529h2M589 552h2M589 547h2M586 559h2M571 552h2M576 529h2M584 537h2M592 547h2M591 533h2M571 552h2M548 549h2M567 551h2M584 521h2M589 523h2M604 539h2M568 509h2M591 539h2M596 559h2M593 541h2M557 544h2M574 524h2M597 554h2M590 532h2M586 543h2M586 538h2M577 532h2M587 543h2M595 551h2M575 530h2M584 542h2M593 531h2M568 536h2M564 564h2M566 543h2M569 536h2M561 537h2M584 554h2M587 549h2M584 556h2M583 544h2M576 551h2M567 555h2M590 532h2M580 538h2M578 541h2M588 522h2M554 550h2M544 532h2M582 530h2M574 537h2M611 542h2M583 557h2M587 543h2M587 559h2M589 551h2M577 549h2M588 545h2M569 535h2M586 545h2M591 551h2M595 533h2M555 558h2M576 525h2M577 543h2M571 548h2M572 545h2M584 538h2M557 526h2M580 541h2M597 543h2M579 544h2M568 526h2M550 547h2M589 532h2M555 543h2M569 545h2M596 546h2M540 559h2M570 547h2M588 549h2M558 533h2M606 536h2M569 538h2M584 530h2M596 547h2M572 544h2M545 555h2M581 546h2M564 528h2M574 544h2M567 526h2M561 553h2M584 551h2M601 541h2M593 527h2M591 561h2M581 550h2M563 529h2M586 531h2M558 524h2M576 550h2M581 548h2M593 540h2M576 524h2M570 544h2M580 531h2M565 528h2M584 536h2M562 540h2M554 542h2M577 540h2M587 560h2M585 553h2M569 546h2M586 567h2M579 543h2M582 565h2M566 536h2M594 529h2M578 540h2M566 531h2M551 540h2M557 537h2M595 549h2M572 539h2M559 549h2M582 556h2M571 526h2M583 554h2M556 542h2M579 535h2M578 559h2M574 547h2M594 530h2M573 544h2M573 523h2M556 559h2M576 559h2M561 528h2M587 543h2M586 534h2M567 567h2M588 563h2M569 544h2M596 559h2M567 527h2M571 530h2M572 533h2M594 521h2M584 553h2M598 532h2M584 534h2M578 555h2M561 537h2M562 546h2M564 548h2M578 556h2M568 531h2M597 536h2M584 539h2M592 539h2M568 534h2M577 545h2M604 535h2M575 553h2M575 527h2M543 550h2M585 525h2M564 547h2M573 553h2M585 521h2M594 537h2M563 527h2M583 553h2M585 546h2M571 551h2M575 546h2M565 547h2M599 545h2M574 528h2M567 535h2M561 551h2M584 556h2M560 534h2M596 547h2M587 550h2M577 525h2M568 531h2M573 532h2M551 559h2M560 550h2M569 534h2M547 541h2M547 546h2M573 553h2M584 543h2M567 566h2M583 539h2M588 550h2M588 539h2M572 534h2M570 541h2M580 542h2M561 547h2M572 543h2M572 561h2M580 539h2M584 550h2M604 536h2M563 532h2M564 541h2M578 540h2M565 536h2M572 550h2M597 529h2M576 559h2M553 551h2M590 542h2M583 535h2M604 536h2M550 537h2M577 543h2M568 541h2M578 547h2M590 535h2M560 543h2M565 532h2M583 536h2M564 557h2M577 537h2M567 548h2M586 553h2M586 522h2M566 542h2M589 552h2M580 561h2M561 543h2M587 546h2M580 545h2M567 537h2M566 550h2M599 540h2M578 523h2M567 552h2M543 541h2M574 553h2M585 545h2M594 553h2M578 538h2M600 520h2M575 548h2M589 521h2M589 544h2M574 546h2M593 535h2M603 555h2M577 535h2M564 536h2M563 555h2" stroke="#ee8a2a" stroke-width="1.5" fill="none" opacity="0.7"/>
<path transform="scale(.5)" d="M581 534h2M586 538h2M568 538h2M562 538h2M580 541h2M583 538h2M580 541h2M584 548h2M589 540h2M579 547h2M584 547h2M567 550h2M586 554h2M580 547h2M576 541h2M576 542h2M590 536h2M567 540h2M574 548h2M580 552h2M567 548h2M575 542h2M561 546h2M582 535h2M581 555h2M595 540h2M566 541h2M577 537h2M576 536h2M591 551h2M573 551h2M584 538h2M559 545h2M585 552h2M571 529h2M573 529h2M586 546h2M575 542h2M576 550h2M575 551h2M580 536h2M584 541h2M577 543h2M572 536h2M570 547h2M577 546h2M579 542h2M587 543h2M581 537h2M561 550h2M584 551h2M551 552h2M578 543h2M582 538h2M577 545h2M574 545h2M581 544h2M587 526h2M577 545h2M576 545h2M572 549h2M571 527h2M572 550h2M596 534h2M574 544h2M583 544h2M584 547h2M581 542h2M574 544h2M584 544h2M582 551h2M575 535h2M588 539h2M587 539h2M574 548h2M589 542h2M588 534h2M589 531h2M571 537h2M557 525h2M587 541h2M581 541h2M567 542h2M563 551h2M575 537h2M563 540h2M579 546h2M587 537h2M578 539h2M578 541h2M571 544h2M569 555h2M579 542h2M583 539h2M572 541h2M575 542h2M576 535h2M573 550h2M579 546h2M567 548h2M581 539h2M581 543h2M579 542h2M557 538h2M578 546h2M570 537h2M579 553h2M580 547h2M566 544h2M589 554h2M582 534h2M587 539h2M583 550h2M582 534h2M580 549h2M570 546h2M580 553h2M582 548h2M575 542h2M589 550h2M586 535h2M578 540h2M574 549h2M584 542h2M596 528h2M590 550h2M567 540h2M570 545h2M573 553h2M586 544h2M586 550h2M572 544h2M579 533h2M571 548h2M569 544h2M579 549h2M575 541h2M577 539h2M595 548h2M559 526h2M580 555h2M578 534h2M582 546h2M587 545h2M588 546h2M577 557h2M585 539h2M572 549h2M577 544h2M571 545h2M582 551h2M580 541h2M570 539h2M582 538h2M584 541h2M581 533h2M570 533h2M590 543h2M590 546h2M591 542h2M582 541h2M579 535h2M565 543h2M580 542h2M575 552h2M594 546h2M571 537h2M591 536h2M558 542h2M582 549h2M569 535h2M577 547h2M579 533h2M570 531h2M571 539h2M575 535h2M570 533h2M583 545h2M573 529h2M576 539h2M569 544h2M577 549h2M576 540h2M585 535h2M592 545h2M572 535h2M579 555h2M576 539h2M576 549h2M584 555h2M582 547h2M577 550h2M566 537h2M576 548h2M594 543h2M579 550h2M581 534h2M566 539h2M573 545h2M559 547h2M576 535h2M578 536h2M584 538h2M582 546h2M585 539h2M590 541h2M582 555h2M584 548h2M567 539h2M575 530h2M584 558h2M575 535h2M567 539h2M585 539h2M568 540h2M577 545h2M590 561h2M574 537h2M578 542h2M567 537h2M597 553h2M575 545h2M564 548h2M566 543h2M575 550h2M587 538h2M577 545h2M569 553h2M565 542h2M588 538h2M569 536h2M572 539h2M573 554h2M572 544h2M577 533h2M576 537h2M573 542h2M588 547h2M582 541h2M567 534h2M579 536h2M581 540h2M589 533h2M558 549h2M580 554h2M576 546h2M566 542h2M579 534h2M582 547h2M578 538h2M582 534h2M575 551h2M574 546h2M582 547h2M579 539h2M560 539h2M574 552h2M584 536h2M576 531h2M578 555h2M569 550h2M580 548h2M587 539h2M582 540h2M567 540h2M587 542h2M571 541h2M584 546h2M586 539h2M582 542h2M569 541h2M563 546h2M575 539h2M567 536h2M580 545h2M608 544h2M575 543h2M589 548h2M584 533h2M563 544h2M580 541h2M564 532h2M587 543h2M569 545h2M574 541h2M577 545h2M579 542h2M581 536h2M578 546h2M573 558h2M568 528h2M572 532h2M562 542h2M580 535h2M567 550h2M567 538h2M572 552h2M582 543h2M574 545h2M588 539h2M562 540h2M577 547h2M573 531h2M580 545h2M573 539h2M571 529h2M598 549h2M577 546h2M564 533h2M569 542h2M573 548h2M568 536h2M580 538h2M570 538h2M591 540h2M573 539h2M579 538h2M577 541h2M575 538h2M575 546h2M569 544h2M579 559h2M585 535h2M570 532h2M582 541h2M569 553h2M577 546h2M586 537h2M563 554h2M591 542h2M573 543h2M595 541h2M583 542h2M580 542h2M565 538h2M560 535h2M586 525h2M577 553h2M591 545h2M580 545h2M575 545h2M572 539h2M590 547h2M584 538h2M574 537h2M577 544h2M582 541h2M561 543h2M594 544h2M580 545h2M590 551h2M572 542h2M563 546h2M557 548h2M570 555h2M575 536h2M580 544h2M585 535h2M580 547h2M592 538h2M591 550h2M574 536h2M595 539h2M575 554h2M581 544h2M585 545h2M579 553h2M573 548h2M568 548h2M587 550h2M571 543h2M580 548h2M574 524h2M587 544h2M579 535h2M568 534h2M577 543h2M553 534h2M586 537h2M596 541h2M580 536h2M576 534h2M586 530h2M569 544h2M572 544h2M583 541h2M569 548h2M556 544h2M586 545h2M573 545h2M568 548h2M589 548h2M577 540h2M588 544h2M580 541h2M574 549h2M593 542h2M556 540h2M588 547h2M577 551h2M588 552h2M572 556h2M572 527h2M576 540h2M593 537h2M586 545h2M573 540h2M570 554h2M590 543h2M587 536h2M575 536h2M576 544h2M590 533h2M558 532h2M585 542h2M568 545h2M580 540h2M586 550h2M562 549h2M590 535h2M595 549h2M570 556h2M575 537h2M577 527h2M584 541h2M586 545h2M577 548h2M582 539h2M576 555h2M583 545h2M567 544h2M581 545h2M591 543h2M584 542h2M586 537h2M573 546h2M572 534h2M580 544h2M572 540h2M565 543h2M586 532h2M580 547h2M571 538h2M582 545h2M592 544h2M576 526h2M575 527h2M588 552h2M562 548h2M578 550h2M574 548h2M562 548h2M585 541h2M575 550h2M583 556h2M584 547h2M581 535h2M571 536h2M576 528h2M576 545h2M583 540h2M577 540h2M583 541h2M573 536h2M585 543h2M574 545h2M564 542h2M575 540h2M578 550h2M578 535h2M563 537h2M582 548h2M579 540h2M577 543h2M584 531h2M578 539h2M566 542h2M566 537h2M585 541h2M561 547h2M587 526h2M568 551h2M570 546h2M584 541h2M571 541h2M566 538h2M573 535h2M570 542h2M581 536h2M569 544h2M574 534h2M571 547h2M566 544h2M570 535h2M589 540h2M576 525h2M567 549h2M570 539h2M581 545h2M582 531h2M578 544h2M573 546h2M579 553h2M573 537h2M586 542h2M579 534h2M581 536h2M585 541h2M576 545h2M580 537h2M573 555h2M595 547h2M581 535h2M576 540h2M589 547h2M574 540h2M582 552h2M577 552h2M576 549h2M582 544h2M577 544h2M563 548h2M574 549h2M568 537h2M575 538h2M577 534h2M578 540h2M593 538h2M574 542h2M581 547h2M572 539h2M579 544h2M572 542h2M577 548h2M566 539h2M565 533h2M584 540h2M574 528h2M595 540h2M577 536h2M569 544h2M573 547h2M600 543h2M574 542h2M593 537h2M569 548h2M577 543h2M568 541h2M579 543h2M582 541h2M597 533h2M597 541h2M583 547h2M571 545h2M580 530h2M577 540h2M583 538h2M577 534h2M555 549h2M577 535h2" stroke="#e8650c" stroke-width="1.7" fill="none" opacity="0.9"/>
<path transform="scale(.5)" d="M640 463h2M670 455h2M628 432h2M683 426h2M615 444h2M619 439h2M665 398h2M646 450h2M638 414h2M656 439h2M626 439h2M647 419h2M641 440h2M642 436h2M636 436h2M648 406h2M618 441h2M655 451h2M645 461h2M642 444h2M634 467h2M641 442h2M657 410h2M660 432h2M635 432h2M639 456h2M666 425h2M636 413h2M645 459h2M651 444h2M600 467h2M630 439h2M672 438h2M642 436h2M636 421h2M652 412h2M651 426h2M623 449h2M632 447h2M656 438h2M632 430h2M662 430h2M599 415h2M650 455h2M676 415h2M642 451h2M631 440h2M633 441h2M649 459h2M641 433h2M654 437h2M643 441h2M620 423h2M646 436h2M618 444h2M652 425h2M648 438h2M621 433h2M665 459h2M647 434h2M638 428h2M649 413h2M646 443h2M608 418h2M656 440h2M642 420h2M666 439h2M645 426h2M645 472h2M656 427h2M658 430h2M601 415h2M626 437h2M644 443h2M656 419h2M624 452h2M657 466h2M638 422h2M634 457h2M668 432h2M672 413h2M615 428h2M640 465h2M649 430h2M646 410h2M650 439h2M655 431h2M634 428h2M648 448h2M677 429h2M654 430h2M637 416h2M621 414h2M632 446h2M652 423h2M655 454h2M680 456h2M662 444h2M633 433h2M642 448h2M638 432h2M649 439h2M669 444h2M626 443h2M660 456h2M652 416h2M656 420h2M619 436h2M611 395h2M647 437h2M645 423h2M669 423h2M653 432h2M652 430h2M651 441h2M648 429h2M617 441h2M631 450h2M644 441h2M636 437h2M656 450h2M631 437h2M647 456h2M634 448h2M656 426h2M645 432h2M635 406h2M642 416h2M652 414h2M638 421h2M615 438h2M638 442h2M651 424h2M637 444h2M642 449h2M673 446h2M649 426h2M659 419h2M660 423h2M634 463h2M634 421h2M640 445h2M643 438h2M625 456h2M636 447h2M650 445h2M651 435h2M620 438h2M652 420h2M664 436h2M643 425h2M641 436h2M679 447h2M637 437h2M624 417h2M628 425h2M667 426h2M660 425h2M627 450h2M647 406h2M628 458h2M636 425h2M667 442h2M630 443h2M655 417h2M632 449h2M641 425h2M654 445h2M632 433h2M629 426h2M653 468h2M663 446h2M630 407h2M652 435h2M627 416h2M649 435h2M637 465h2M624 438h2M622 409h2M661 444h2M641 450h2M651 412h2M624 425h2M668 452h2M680 447h2M632 395h2M633 439h2M636 436h2M655 434h2M653 453h2M646 415h2M641 442h2M664 456h2M654 446h2M624 448h2M632 411h2M646 447h2M639 439h2M650 447h2M644 438h2M641 428h2M643 439h2M639 435h2M652 447h2M631 437h2M641 436h2M635 425h2M618 423h2M632 432h2M632 422h2" stroke="#ee3030" stroke-width="1.5" fill="none" opacity="0.5"/>
<path transform="scale(.5)" d="M652 509h2M614 522h2M577 538h2M631 520h2M646 535h2M633 549h2M631 548h2M648 524h2M677 515h2M631 546h2M665 568h2M662 503h2M631 528h2M641 531h2M614 553h2M665 544h2M612 541h2M632 542h2M634 533h2M642 541h2M623 517h2M648 514h2M623 535h2M645 522h2M629 529h2M665 511h2M647 532h2M641 537h2M625 519h2M662 509h2M655 507h2M639 512h2M642 540h2M648 535h2M612 536h2M646 509h2M644 505h2M618 505h2M625 535h2M655 511h2M681 522h2M670 511h2M664 526h2M648 523h2M615 519h2M677 527h2M631 498h2M626 550h2M663 502h2M667 517h2M651 562h2M599 532h2M630 526h2M678 527h2M690 530h2M658 537h2M653 551h2M643 534h2M628 511h2M638 522h2M673 509h2M624 513h2M629 517h2M630 495h2M643 542h2M651 528h2M643 509h2M664 472h2M623 524h2M649 517h2M622 548h2M634 572h2M630 520h2M652 532h2M640 553h2M623 527h2M636 522h2M626 543h2M597 525h2M656 540h2M621 519h2M620 492h2M672 530h2M633 536h2M611 544h2" stroke="#ee3030" stroke-width="1.5" fill="none" opacity="0.45"/>
<path transform="scale(.5)" d="M625 549h2M619 550h2M617 546h2M613 528h2M602 542h2M612 536h2M614 547h2M601 546h2M622 533h2M607 547h2M616 539h2M609 546h2M616 549h2M620 534h2M614 546h2M617 538h2M618 547h2M611 524h2M614 546h2M618 538h2M616 539h2M613 532h2M610 545h2M623 537h2M615 530h2M618 555h2M597 538h2M608 533h2M603 543h2M609 546h2" stroke="#ee3030" stroke-width="1.5" fill="none" opacity="0.5"/>
<rect x="241.5" y="176" width="124.3" height="119" fill="none" stroke="#9c9c9c" stroke-width="0.9"/>
<line x1="240" y1="205.9" x2="241.5" y2="205.9" stroke="#aaa" stroke-width="0.7"/>
<line x1="240" y1="235.3" x2="241.5" y2="235.3" stroke="#aaa" stroke-width="0.7"/>
<line x1="240" y1="264.6" x2="241.5" y2="264.6" stroke="#aaa" stroke-width="0.7"/>
<line x1="241.5" y1="263.5" x2="365.8" y2="232" stroke="#f54545" stroke-width="0.9"/>
<line x1="282.5" y1="176" x2="299.6" y2="248" stroke="#f54545" stroke-width="0.9"/>
<circle cx="288.3" cy="200" r="2.6" fill="#f00000"/>
<circle cx="344.5" cy="236.7" r="2.6" fill="#f00000"/>
<circle cx="299.4" cy="248" r="1.9" fill="#fff" stroke="#f54545" stroke-width="0.8"/>
<polygon points="284.4,176.3 365.6,177.4 365.6,294.6 313.3,294.6" fill="none" stroke="#000" stroke-width="1.9" stroke-linejoin="miter"/>
<rect x="242.3" y="278.8" width="31.6" height="14.4" fill="#fff"/>
<text x="249.4" y="187.9" font-size="11" fill="#111">Dead</text>
<text x="247.3" y="290.2" font-size="11" fill="#111">Live</text>
<text x="339.5" y="188.6" font-size="11" text-anchor="middle" fill="#111">Late</text>
<text x="339.7" y="202.3" font-size="11" text-anchor="middle" fill="#111">Apoptosis</text>
<text x="338.8" y="275.4" font-size="11" text-anchor="middle" fill="#111">Early</text>
<text x="339.2" y="288.6" font-size="11" text-anchor="middle" fill="#111">Apoptosis</text>
<rect x="544.6" y="387.2" width="17.5" height="23" fill="#000000"/>
<line x1="548.4" y1="386.9" x2="558.4" y2="386.9" stroke="#111" stroke-width="0.9"/>
<rect x="571" y="399.6" width="17.8" height="10.6" fill="#00007f"/>
<line x1="574.9" y1="399.3" x2="584.9" y2="399.3" stroke="#111" stroke-width="0.9"/>
<rect x="597.8" y="391" width="17.5" height="19.2" fill="#a00000"/>
<line x1="601.5" y1="390.7" x2="611.5" y2="390.7" stroke="#111" stroke-width="0.9"/>
<rect x="624.2" y="337.5" width="17.8" height="72.7" fill="#005a0a"/>
<line x1="628.1" y1="337.2" x2="638.1" y2="337.2" stroke="#111" stroke-width="0.9"/>
<line x1="533.8" y1="332.7" x2="533.8" y2="410.8" stroke="#161616" stroke-width="1.25"/>
<line x1="533.2" y1="410.2" x2="650.7" y2="410.2" stroke="#161616" stroke-width="1.25"/>
<line x1="530.8" y1="410.2" x2="533.8" y2="410.2" stroke="#161616" stroke-width="1"/>
<text x="532" y="414.1" font-size="10.9" text-anchor="end" fill="#1a1a1a">0</text>
<line x1="530.8" y1="394.8" x2="533.8" y2="394.8" stroke="#161616" stroke-width="1"/>
<text x="532" y="398.7" font-size="10.9" text-anchor="end" fill="#1a1a1a">20</text>
<line x1="530.8" y1="379.4" x2="533.8" y2="379.4" stroke="#161616" stroke-width="1"/>
<text x="532" y="383.3" font-size="10.9" text-anchor="end" fill="#1a1a1a">40</text>
<line x1="530.8" y1="364" x2="533.8" y2="364" stroke="#161616" stroke-width="1"/>
<text x="532" y="367.9" font-size="10.9" text-anchor="end" fill="#1a1a1a">60</text>
<line x1="530.8" y1="348.6" x2="533.8" y2="348.6" stroke="#161616" stroke-width="1"/>
<text x="532" y="352.5" font-size="10.9" text-anchor="end" fill="#1a1a1a">80</text>
<line x1="530.8" y1="333.2" x2="533.8" y2="333.2" stroke="#161616" stroke-width="1"/>
<text x="532" y="337.1" font-size="10.9" text-anchor="end" fill="#1a1a1a">100</text>
<line x1="553.4" y1="410.2" x2="553.4" y2="413.2" stroke="#161616" stroke-width="1"/>
<line x1="579.9" y1="410.2" x2="579.9" y2="413.2" stroke="#161616" stroke-width="1"/>
<line x1="606.5" y1="410.2" x2="606.5" y2="413.2" stroke="#161616" stroke-width="1"/>
<line x1="633.1" y1="410.2" x2="633.1" y2="413.2" stroke="#161616" stroke-width="1"/>
<line x1="545.1" y1="310.6" x2="638.8" y2="310.6" stroke="#1a1a1a" stroke-width="1.3"/>
<line x1="576.4" y1="320.8" x2="635.6" y2="320.8" stroke="#1a1a1a" stroke-width="1.3"/>
<line x1="609.4" y1="330.5" x2="635.6" y2="330.5" stroke="#1a1a1a" stroke-width="1.3"/>
<text x="587.5" y="316.8" font-size="20" text-anchor="middle" fill="#111" stroke="#111" stroke-width="0.22">**</text>
<text x="602.5" y="327" font-size="20" text-anchor="middle" fill="#111" stroke="#111" stroke-width="0.22">**</text>
<text x="624.5" y="336.7" font-size="20" text-anchor="middle" fill="#111" stroke="#111" stroke-width="0.22">**</text>
<rect x="546.4" y="489.7" width="17.6" height="24.8" fill="#000000"/>
<line x1="550.2" y1="489.4" x2="560.2" y2="489.4" stroke="#111" stroke-width="0.9"/>
<rect x="572.9" y="486.2" width="17.8" height="28.3" fill="#00007f"/>
<line x1="576.8" y1="485.9" x2="586.8" y2="485.9" stroke="#111" stroke-width="0.9"/>
<rect x="599.6" y="472.7" width="17.6" height="41.8" fill="#a00000"/>
<line x1="603.4" y1="472.4" x2="613.4" y2="472.4" stroke="#111" stroke-width="0.9"/>
<rect x="626.1" y="453.9" width="17.8" height="60.6" fill="#005a0a"/>
<line x1="630" y1="453.6" x2="640" y2="453.6" stroke="#111" stroke-width="0.9"/>
<line x1="536.5" y1="445.3" x2="536.5" y2="515.1" stroke="#161616" stroke-width="1.25"/>
<line x1="535.9" y1="514.5" x2="653.4" y2="514.5" stroke="#161616" stroke-width="1.25"/>
<line x1="533.5" y1="514.5" x2="536.5" y2="514.5" stroke="#161616" stroke-width="1"/>
<text x="533.5" y="519.3" font-size="10.9" text-anchor="end" fill="#1a1a1a">0</text>
<line x1="533.5" y1="500.8" x2="536.5" y2="500.8" stroke="#161616" stroke-width="1"/>
<text x="533.5" y="506.2" font-size="10.9" text-anchor="end" fill="#1a1a1a">20</text>
<line x1="533.5" y1="487" x2="536.5" y2="487" stroke="#161616" stroke-width="1"/>
<text x="533.5" y="492.2" font-size="10.9" text-anchor="end" fill="#1a1a1a">40</text>
<line x1="533.5" y1="473.3" x2="536.5" y2="473.3" stroke="#161616" stroke-width="1"/>
<text x="533.5" y="476.4" font-size="10.9" text-anchor="end" fill="#1a1a1a">60</text>
<line x1="533.5" y1="459.5" x2="536.5" y2="459.5" stroke="#161616" stroke-width="1"/>
<text x="533.5" y="460.8" font-size="10.9" text-anchor="end" fill="#1a1a1a">80</text>
<line x1="533.5" y1="445.8" x2="536.5" y2="445.8" stroke="#161616" stroke-width="1"/>
<text x="533.5" y="449.2" font-size="10.9" text-anchor="end" fill="#1a1a1a">100</text>
<line x1="555.2" y1="514.5" x2="555.2" y2="517.5" stroke="#161616" stroke-width="1"/>
<line x1="581.8" y1="514.5" x2="581.8" y2="517.5" stroke="#161616" stroke-width="1"/>
<line x1="608.4" y1="514.5" x2="608.4" y2="517.5" stroke="#161616" stroke-width="1"/>
<line x1="635" y1="514.5" x2="635" y2="517.5" stroke="#161616" stroke-width="1"/>
<line x1="550.8" y1="427.8" x2="644.5" y2="427.8" stroke="#1a1a1a" stroke-width="1.3"/>
<line x1="581.6" y1="437.7" x2="641.2" y2="437.7" stroke="#1a1a1a" stroke-width="1.3"/>
<line x1="615.3" y1="447.2" x2="641.2" y2="447.2" stroke="#1a1a1a" stroke-width="1.3"/>
<text x="593" y="434" font-size="20" text-anchor="middle" fill="#111" stroke="#111" stroke-width="0.22">**</text>
<text x="608" y="443.9" font-size="20" text-anchor="middle" fill="#111" stroke="#111" stroke-width="0.22">**</text>
<text x="630" y="453.4" font-size="20" text-anchor="middle" fill="#111" stroke="#111" stroke-width="0.22">**</text>
<rect x="546.4" y="595.8" width="17.9" height="20" fill="#000000"/>
<line x1="550.3" y1="595.5" x2="560.3" y2="595.5" stroke="#111" stroke-width="0.9"/>
<rect x="573.7" y="592.9" width="18.1" height="22.9" fill="#00007f"/>
<line x1="577.8" y1="592.6" x2="587.8" y2="592.6" stroke="#111" stroke-width="0.9"/>
<rect x="601" y="581.3" width="17.8" height="34.5" fill="#a00000"/>
<line x1="604.9" y1="581" x2="614.9" y2="581" stroke="#111" stroke-width="0.9"/>
<rect x="628" y="568.6" width="17.8" height="47.2" fill="#005a0a"/>
<line x1="631.9" y1="568.3" x2="641.9" y2="568.3" stroke="#111" stroke-width="0.9"/>
<line x1="536.5" y1="536.9" x2="536.5" y2="616.4" stroke="#161616" stroke-width="1.25"/>
<line x1="535.9" y1="615.8" x2="655.3" y2="615.8" stroke="#161616" stroke-width="1.25"/>
<line x1="533.5" y1="615.8" x2="536.5" y2="615.8" stroke="#161616" stroke-width="1"/>
<text x="534.7" y="619.9" font-size="11.6" text-anchor="end" fill="#1a1a1a" stroke="#1a1a1a" stroke-width="0.22">0</text>
<line x1="533.5" y1="600.1" x2="536.5" y2="600.1" stroke="#161616" stroke-width="1"/>
<text x="534.7" y="604.2" font-size="11.6" text-anchor="end" fill="#1a1a1a" stroke="#1a1a1a" stroke-width="0.22">20</text>
<line x1="533.5" y1="584.4" x2="536.5" y2="584.4" stroke="#161616" stroke-width="1"/>
<text x="534.7" y="589" font-size="11.6" text-anchor="end" fill="#1a1a1a" stroke="#1a1a1a" stroke-width="0.22">40</text>
<line x1="533.5" y1="568.8" x2="536.5" y2="568.8" stroke="#161616" stroke-width="1"/>
<text x="534.7" y="573.4" font-size="11.6" text-anchor="end" fill="#1a1a1a" stroke="#1a1a1a" stroke-width="0.22">60</text>
<line x1="533.5" y1="553.1" x2="536.5" y2="553.1" stroke="#161616" stroke-width="1"/>
<text x="534.7" y="558" font-size="11.6" text-anchor="end" fill="#1a1a1a" stroke="#1a1a1a" stroke-width="0.22">80</text>
<line x1="533.5" y1="537.4" x2="536.5" y2="537.4" stroke="#161616" stroke-width="1"/>
<text x="534.7" y="546.4" font-size="11.6" text-anchor="end" fill="#1a1a1a" stroke="#1a1a1a" stroke-width="0.22">100</text>
<line x1="555.3" y1="615.8" x2="555.3" y2="618.8" stroke="#161616" stroke-width="1"/>
<line x1="582.8" y1="615.8" x2="582.8" y2="618.8" stroke="#161616" stroke-width="1"/>
<line x1="609.9" y1="615.8" x2="609.9" y2="618.8" stroke="#161616" stroke-width="1"/>
<line x1="636.9" y1="615.8" x2="636.9" y2="618.8" stroke="#161616" stroke-width="1"/>
<line x1="551.3" y1="541.6" x2="644.5" y2="541.6" stroke="#1a1a1a" stroke-width="1.3"/>
<line x1="582.4" y1="552.1" x2="641.2" y2="552.1" stroke="#1a1a1a" stroke-width="1.3"/>
<line x1="615.6" y1="561.6" x2="641.2" y2="561.6" stroke="#1a1a1a" stroke-width="1.3"/>
<text x="593.5" y="547.8" font-size="20" text-anchor="middle" fill="#111" stroke="#111" stroke-width="0.22">**</text>
<text x="608.5" y="558.3" font-size="20" text-anchor="middle" fill="#111" stroke="#111" stroke-width="0.22">**</text>
<text x="630.5" y="567.8" font-size="20" text-anchor="middle" fill="#111" stroke="#111" stroke-width="0.22">**</text>
<text x="18.8" y="669.6" font-size="20" font-weight="bold" fill="#000">C.</text>
<text x="140.6" y="680.4" font-size="16" font-weight="bold" text-anchor="middle" fill="#000">CHLA06</text>
<text x="223.5" y="680.4" font-size="16" font-weight="bold" text-anchor="middle" fill="#000">BT37</text>
<text x="307.7" y="680.4" font-size="16" font-weight="bold" text-anchor="middle" fill="#000">CHLA05</text>
<text x="20.9" y="699.6" font-size="13.9" fill="#111" stroke="#111" stroke-width="0.22">DMSO</text>
<text x="12.8" y="721.6" font-size="13.9" fill="#111" stroke="#111" stroke-width="0.22">TAK228 (nM)</text>
<text x="-0.8" y="742.5" font-size="13.9" fill="#111" stroke="#111" stroke-width="0.22">Obatoclax (nM)</text>
<text x="100.3" y="699.6" font-size="13.9" text-anchor="middle" fill="#111" stroke="#111" stroke-width="0.22">X</text>
<text x="184.6" y="699.6" font-size="13.9" text-anchor="middle" fill="#111" stroke="#111" stroke-width="0.22">X</text>
<text x="270.9" y="699.6" font-size="13.9" text-anchor="middle" fill="#111" stroke="#111" stroke-width="0.22">X</text>
<text x="117.1" y="721.5" font-size="13.9" text-anchor="middle" fill="#111" stroke="#111" stroke-width="0.22">20</text>
<text x="161.8" y="721.5" font-size="13.9" text-anchor="middle" fill="#111" stroke="#111" stroke-width="0.22">20</text>
<text x="204.6" y="721.5" font-size="13.9" text-anchor="middle" fill="#111" stroke="#111" stroke-width="0.22">20</text>
<text x="244" y="721.5" font-size="13.9" text-anchor="middle" fill="#111" stroke="#111" stroke-width="0.22">20</text>
<text x="291.4" y="721.5" font-size="13.9" text-anchor="middle" fill="#111" stroke="#111" stroke-width="0.22">20</text>
<text x="330.6" y="721.5" font-size="13.9" text-anchor="middle" fill="#111" stroke="#111" stroke-width="0.22">20</text>
<text x="137.6" y="742.4" font-size="13.9" text-anchor="middle" fill="#111" stroke="#111" stroke-width="0.22">40</text>
<text x="161.8" y="742.4" font-size="13.9" text-anchor="middle" fill="#111" stroke="#111" stroke-width="0.22">40</text>
<text x="222.9" y="742.4" font-size="13.9" text-anchor="middle" fill="#111" stroke="#111" stroke-width="0.22">40</text>
<text x="244" y="742.4" font-size="13.9" text-anchor="middle" fill="#111" stroke="#111" stroke-width="0.22">40</text>
<text x="309" y="742.4" font-size="13.9" text-anchor="middle" fill="#111" stroke="#111" stroke-width="0.22">40</text>
<text x="330.6" y="742.4" font-size="13.9" text-anchor="middle" fill="#111" stroke="#111" stroke-width="0.22">40</text>
<text x="99.8" y="758.3" font-size="10.5" text-anchor="middle" fill="#111">0.2</text>
<text x="121" y="758.3" font-size="10.5" text-anchor="middle" fill="#111">1.0</text>
<text x="140.2" y="758.3" font-size="10.5" text-anchor="middle" fill="#111">1.5</text>
<text x="161.5" y="758.3" font-size="10.5" text-anchor="middle" fill="#111">3.8</text>
<text x="185.1" y="758.3" font-size="10.5" text-anchor="middle" fill="#111">0.1</text>
<text x="204.6" y="758.3" font-size="10.5" text-anchor="middle" fill="#111">1.0</text>
<text x="223.2" y="758.3" font-size="10.5" text-anchor="middle" fill="#111">0.8</text>
<text x="244.2" y="758.3" font-size="10.5" text-anchor="middle" fill="#111">2.4</text>
<text x="273.7" y="758.3" font-size="10.5" text-anchor="middle" fill="#111">0.3</text>
<text x="292.7" y="758.3" font-size="10.5" text-anchor="middle" fill="#111">1.0</text>
<text x="311" y="758.3" font-size="10.5" text-anchor="middle" fill="#111">2.3</text>
<text x="331.1" y="758.3" font-size="10.5" text-anchor="middle" fill="#111">4.5</text>
<text x="41" y="780.2" font-size="13.9" fill="#111" stroke="#111" stroke-width="0.22">cPARP</text>
<text x="41" y="807.8" font-size="13.9" fill="#111" stroke="#111" stroke-width="0.22">ACTIN</text>
<text x="348" y="742.3" font-size="13.9" fill="#111" stroke="#111" stroke-width="0.22">kDa</text>
<text x="352" y="778.8" font-size="13.9" fill="#111" stroke="#111" stroke-width="0.22">89</text>
<text x="352" y="809.7" font-size="13.9" fill="#111" stroke="#111" stroke-width="0.22">43</text>
<defs><filter id="bl1" x="-20%" y="-60%" width="140%" height="220%"><feGaussianBlur stdDeviation="0.7"/></filter><filter id="bl2" x="-20%" y="-60%" width="140%" height="220%"><feGaussianBlur stdDeviation="1.1"/></filter><filter id="bl3" x="-20%" y="-60%" width="140%" height="220%"><feGaussianBlur stdDeviation="1.8"/></filter></defs>
<clipPath id="cp1"><rect x="89.1" y="759.4" width="86" height="26"/></clipPath>
<rect x="89.1" y="759.4" width="86" height="26" fill="#b2b2b2"/>
<g clip-path="url(#cp1)">
<rect x="115" y="776.8" width="15" height="6" rx="2.5" ry="2.5" fill="#c9c9c9" opacity="0.55" filter="url(#bl3)" transform="rotate(0 122.5 779.8)"/>
<rect x="96.1" y="773" width="15" height="1.6" rx="0.8" ry="0.8" fill="#5a5a5a" opacity="0.9" filter="url(#bl1)" transform="rotate(-5 103.6 773.8)"/>
<rect x="114" y="771.7" width="16" height="3.1" rx="1.6" ry="1.6" fill="#1e1e1e" opacity="1" filter="url(#bl1)" transform="rotate(0 122 773.2)"/>
<rect x="133.5" y="771.7" width="15.4" height="3" rx="1.5" ry="1.5" fill="#2a2a2a" opacity="1" filter="url(#bl1)" transform="rotate(0 141.2 773.2)"/>
<rect x="136.5" y="775.4" width="10" height="1.8" rx="0.9" ry="0.9" fill="#8a8a8a" opacity="0.6" filter="url(#bl2)" transform="rotate(0 141.5 776.3)"/>
<rect x="151.4" y="770" width="16.4" height="9.4" rx="2.5" ry="2.5" fill="#343434" opacity="1" filter="url(#bl1)" transform="rotate(0 159.6 774.7)"/>
<rect x="154.2" y="773.1" width="12" height="7.4" rx="2.5" ry="2.5" fill="#343434" opacity="1" filter="url(#bl2)" transform="rotate(0 160.2 776.8)"/>
</g>
<rect x="89.1" y="759.4" width="86" height="26" fill="none" stroke="#1c1c1c" stroke-width="1.1"/>
<clipPath id="cp2"><rect x="89.1" y="791" width="85.1" height="27.4"/></clipPath>
<rect x="89.1" y="791" width="85.1" height="27.4" fill="#828282"/>
<g clip-path="url(#cp2)">
<rect x="89" y="793" width="84" height="7" rx="2.5" ry="2.5" fill="#8c8c8c" opacity="0.8" filter="url(#bl3)" transform="rotate(0 131 796.5)"/>
<rect x="89" y="801.9" width="23" height="7" rx="2.5" ry="2.5" fill="#121212" opacity="1" filter="url(#bl1)" transform="rotate(0 100.5 805.4)"/>
<rect x="112" y="803.1" width="19.6" height="7.4" rx="2.5" ry="2.5" fill="#121212" opacity="1" filter="url(#bl1)" transform="rotate(0 121.8 806.8)"/>
<rect x="131.9" y="802.8" width="20.2" height="7.2" rx="2.5" ry="2.5" fill="#121212" opacity="1" filter="url(#bl1)" transform="rotate(0 142 806.4)"/>
<rect x="152.6" y="801.7" width="19.6" height="7.4" rx="2.5" ry="2.5" fill="#121212" opacity="1" filter="url(#bl1)" transform="rotate(-10 162.4 805.4)"/>
<rect x="91" y="803.8" width="80" height="4.4" rx="2.2" ry="2.2" fill="#141414" opacity="1" filter="url(#bl2)" transform="rotate(0 131 806)"/>
</g>
<rect x="89.1" y="791" width="85.1" height="27.4" fill="none" stroke="#1c1c1c" stroke-width="1.1"/>
<clipPath id="cp3"><rect x="176.5" y="759.4" width="85.2" height="25.6"/></clipPath>
<rect x="176.5" y="759.4" width="85.2" height="25.6" fill="#bdbdbd"/>
<g clip-path="url(#cp3)">
<rect x="179.8" y="769.9" width="11" height="1.4" rx="0.7" ry="0.7" fill="#9a9a9a" opacity="0.8" filter="url(#bl1)" transform="rotate(0 185.3 770.6)"/>
<rect x="197.1" y="768.9" width="17.4" height="2.9" rx="1.4" ry="1.4" fill="#222" opacity="1" filter="url(#bl1)" transform="rotate(0 205.8 770.4)"/>
<rect x="217.2" y="769.9" width="14" height="2.3" rx="1.1" ry="1.1" fill="#2c2c2c" opacity="1" filter="url(#bl1)" transform="rotate(0 224.2 771)"/>
<rect x="234.3" y="767.9" width="19" height="5.8" rx="2.5" ry="2.5" fill="#1c1c1c" opacity="1" filter="url(#bl1)" transform="rotate(-9 243.8 770.8)"/>
<rect x="235" y="771" width="15" height="3.2" rx="1.6" ry="1.6" fill="#262626" opacity="1" filter="url(#bl1)" transform="rotate(0 242.5 772.6)"/>
</g>
<rect x="176.5" y="759.4" width="85.2" height="25.6" fill="none" stroke="#1c1c1c" stroke-width="1.1"/>
<clipPath id="cp4"><rect x="176.5" y="791.6" width="85.2" height="25.6"/></clipPath>
<rect x="176.5" y="791.6" width="85.2" height="25.6" fill="#a8a8a8"/>
<g clip-path="url(#cp4)">
<rect x="177" y="808.5" width="84" height="8" rx="2.5" ry="2.5" fill="#bcbcbc" opacity="0.85" filter="url(#bl3)" transform="rotate(0 219 812.5)"/>
<rect x="178.7" y="799.3" width="19.6" height="6.6" rx="2.5" ry="2.5" fill="#262626" opacity="1" filter="url(#bl1)" transform="rotate(0 188.5 802.6)"/>
<rect x="198.3" y="799.4" width="18.4" height="6.8" rx="2.5" ry="2.5" fill="#262626" opacity="1" filter="url(#bl1)" transform="rotate(0 207.5 802.8)"/>
<rect x="217.3" y="800.3" width="17.4" height="6.2" rx="2.5" ry="2.5" fill="#2a2a2a" opacity="1" filter="url(#bl1)" transform="rotate(0 226 803.4)"/>
<rect x="235.3" y="798.9" width="19.4" height="7" rx="2.5" ry="2.5" fill="#242424" opacity="1" filter="url(#bl1)" transform="rotate(-10 245 802.4)"/>
<rect x="180" y="801.1" width="72" height="3.8" rx="1.9" ry="1.9" fill="#282828" opacity="1" filter="url(#bl2)" transform="rotate(0 216 803)"/>
</g>
<rect x="176.5" y="791.6" width="85.2" height="25.6" fill="none" stroke="#1c1c1c" stroke-width="1.1"/>
<clipPath id="cp5"><rect x="263.4" y="759.4" width="85.5" height="25.9"/></clipPath>
<rect x="263.4" y="759.4" width="85.5" height="25.9" fill="#b2b2b2"/>
<g clip-path="url(#cp5)">
<rect x="265.6" y="770.9" width="12" height="1.5" rx="0.8" ry="0.8" fill="#8c8c8c" opacity="0.8" filter="url(#bl1)" transform="rotate(0 271.6 771.6)"/>
<rect x="286.7" y="770.6" width="14" height="2" rx="1" ry="1" fill="#6e6e6e" opacity="0.9" filter="url(#bl1)" transform="rotate(-3 293.7 771.6)"/>
<rect x="304.5" y="770" width="15" height="2.4" rx="1.2" ry="1.2" fill="#555" opacity="0.95" filter="url(#bl1)" transform="rotate(-5 312 771.2)"/>
<rect x="321.3" y="769.1" width="18.6" height="2.5" rx="1.2" ry="1.2" fill="#404040" opacity="1" filter="url(#bl1)" transform="rotate(-8 330.6 770.4)"/>
</g>
<rect x="263.4" y="759.4" width="85.5" height="25.9" fill="none" stroke="#1c1c1c" stroke-width="1.1"/>
<clipPath id="cp6"><rect x="263.4" y="791.6" width="85.5" height="26"/></clipPath>
<rect x="263.4" y="791.6" width="85.5" height="26" fill="#b5b5b5"/>
<g clip-path="url(#cp6)">
<rect x="264.5" y="800.6" width="21" height="8" rx="2.5" ry="2.5" fill="#161616" opacity="1" filter="url(#bl1)" transform="rotate(0 275 804.6)"/>
<rect x="285.8" y="800.8" width="20" height="8" rx="2.5" ry="2.5" fill="#161616" opacity="1" filter="url(#bl1)" transform="rotate(0 295.8 804.8)"/>
<rect x="306.2" y="801.3" width="18" height="7.4" rx="2.5" ry="2.5" fill="#1a1a1a" opacity="1" filter="url(#bl1)" transform="rotate(0 315.2 805)"/>
<rect x="324.5" y="800" width="20" height="8" rx="2.5" ry="2.5" fill="#161616" opacity="1" filter="url(#bl1)" transform="rotate(-10 334.5 804)"/>
<rect x="265" y="802.5" width="78" height="4.6" rx="2.3" ry="2.3" fill="#1a1a1a" opacity="1" filter="url(#bl2)" transform="rotate(0 304 804.8)"/>
</g>
<rect x="263.4" y="791.6" width="85.5" height="26" fill="none" stroke="#1c1c1c" stroke-width="1.1"/>
<text x="395.4" y="669.6" font-size="20" font-weight="bold" fill="#000">D.</text>
<text x="478.7" y="691.4" font-size="16" font-weight="bold" text-anchor="middle" fill="#000">CHLA06</text>
<text x="618.4" y="691.4" font-size="16" font-weight="bold" text-anchor="middle" fill="#000">BT37</text>
<text x="410" y="760.4" font-size="13" text-anchor="middle" fill="#111" transform="rotate(-90 410 760.4)" stroke="#111" stroke-width="0.22">Combination Index</text>
<line x1="423.7" y1="710.2" x2="423.7" y2="807.1" stroke="#777" stroke-width="0.8"/>
<line x1="423.7" y1="807.1" x2="538.7" y2="807.1" stroke="#999" stroke-width="0.8"/>
<line x1="423.7" y1="805.1" x2="423.7" y2="807.1" stroke="#777" stroke-width="0.6"/>
<line x1="435.2" y1="805.9" x2="435.2" y2="807.1" stroke="#777" stroke-width="0.6"/>
<line x1="446.7" y1="805.9" x2="446.7" y2="807.1" stroke="#777" stroke-width="0.6"/>
<line x1="458.2" y1="805.9" x2="458.2" y2="807.1" stroke="#777" stroke-width="0.6"/>
<line x1="469.7" y1="805.9" x2="469.7" y2="807.1" stroke="#777" stroke-width="0.6"/>
<line x1="481.2" y1="805.1" x2="481.2" y2="807.1" stroke="#777" stroke-width="0.6"/>
<line x1="492.7" y1="805.9" x2="492.7" y2="807.1" stroke="#777" stroke-width="0.6"/>
<line x1="504.2" y1="805.9" x2="504.2" y2="807.1" stroke="#777" stroke-width="0.6"/>
<line x1="515.7" y1="805.9" x2="515.7" y2="807.1" stroke="#777" stroke-width="0.6"/>
<line x1="527.2" y1="805.9" x2="527.2" y2="807.1" stroke="#777" stroke-width="0.6"/>
<line x1="538.7" y1="805.1" x2="538.7" y2="807.1" stroke="#777" stroke-width="0.6"/>
<line x1="423.7" y1="807.1" x2="425.7" y2="807.1" stroke="#777" stroke-width="0.6"/>
<line x1="423.7" y1="795" x2="424.9" y2="795" stroke="#777" stroke-width="0.6"/>
<line x1="423.7" y1="782.9" x2="424.9" y2="782.9" stroke="#777" stroke-width="0.6"/>
<line x1="423.7" y1="770.8" x2="424.9" y2="770.8" stroke="#777" stroke-width="0.6"/>
<line x1="423.7" y1="758.7" x2="425.7" y2="758.7" stroke="#777" stroke-width="0.6"/>
<line x1="423.7" y1="746.5" x2="424.9" y2="746.5" stroke="#777" stroke-width="0.6"/>
<line x1="423.7" y1="734.4" x2="424.9" y2="734.4" stroke="#777" stroke-width="0.6"/>
<line x1="423.7" y1="722.3" x2="424.9" y2="722.3" stroke="#777" stroke-width="0.6"/>
<line x1="423.7" y1="710.2" x2="425.7" y2="710.2" stroke="#777" stroke-width="0.6"/>
<line x1="423.7" y1="758.7" x2="545.3" y2="758.7" stroke="#424242" stroke-width="1.6"/>
<text x="418.4" y="713.6" font-size="9.7" text-anchor="middle" fill="#222">2</text>
<text x="418.4" y="762.1" font-size="9.7" text-anchor="middle" fill="#222">1</text>
<text x="418.4" y="810.5" font-size="9.7" text-anchor="middle" fill="#222">0</text>
<text x="426" y="817.5" font-size="10" text-anchor="middle" fill="#222">0</text>
<text x="487.7" y="817.5" font-size="10" text-anchor="middle" fill="#222">0.5</text>
<text x="538.4" y="817.5" font-size="10" text-anchor="middle" fill="#222">1</text>
<text x="487.7" y="827.8" font-size="9.8" text-anchor="middle" fill="#222">Fa</text>
<path d="M429.3 781.4 L430.5 783.6 L432.2 785.6 L434.5 787.5 L437 788.9 L441 790.8 L446 792.8 L453.4 795 L463 796.6 L474.4 797.8 L487 799 L500.1 800.1 L512 801.2 L523.5 802.5 L530 803.3 L536.3 804.3" fill="none" stroke="#6a6af0" stroke-width="0.8"/>
<circle cx="431.7" cy="772.8" r="1.8" fill="none" stroke="#6a6af0" stroke-width="0.9"/>
<circle cx="427.5" cy="789.8" r="1.8" fill="none" stroke="#6a6af0" stroke-width="0.9"/>
<circle cx="475.1" cy="799.9" r="1.8" fill="none" stroke="#6a6af0" stroke-width="0.9"/>
<circle cx="494" cy="801.5" r="1.8" fill="none" stroke="#6a6af0" stroke-width="0.9"/>
<line x1="562.4" y1="711" x2="562.4" y2="807.6" stroke="#777" stroke-width="0.8"/>
<line x1="562.4" y1="807.6" x2="676.8" y2="807.6" stroke="#999" stroke-width="0.8"/>
<line x1="562.4" y1="805.6" x2="562.4" y2="807.6" stroke="#777" stroke-width="0.6"/>
<line x1="573.8" y1="806.4" x2="573.8" y2="807.6" stroke="#777" stroke-width="0.6"/>
<line x1="585.3" y1="806.4" x2="585.3" y2="807.6" stroke="#777" stroke-width="0.6"/>
<line x1="596.7" y1="806.4" x2="596.7" y2="807.6" stroke="#777" stroke-width="0.6"/>
<line x1="608.2" y1="806.4" x2="608.2" y2="807.6" stroke="#777" stroke-width="0.6"/>
<line x1="619.6" y1="805.6" x2="619.6" y2="807.6" stroke="#777" stroke-width="0.6"/>
<line x1="631" y1="806.4" x2="631" y2="807.6" stroke="#777" stroke-width="0.6"/>
<line x1="642.5" y1="806.4" x2="642.5" y2="807.6" stroke="#777" stroke-width="0.6"/>
<line x1="653.9" y1="806.4" x2="653.9" y2="807.6" stroke="#777" stroke-width="0.6"/>
<line x1="665.4" y1="806.4" x2="665.4" y2="807.6" stroke="#777" stroke-width="0.6"/>
<line x1="676.8" y1="805.6" x2="676.8" y2="807.6" stroke="#777" stroke-width="0.6"/>
<line x1="562.4" y1="807.6" x2="564.4" y2="807.6" stroke="#777" stroke-width="0.6"/>
<line x1="562.4" y1="795.5" x2="563.6" y2="795.5" stroke="#777" stroke-width="0.6"/>
<line x1="562.4" y1="783.5" x2="563.6" y2="783.5" stroke="#777" stroke-width="0.6"/>
<line x1="562.4" y1="771.4" x2="563.6" y2="771.4" stroke="#777" stroke-width="0.6"/>
<line x1="562.4" y1="759.3" x2="564.4" y2="759.3" stroke="#777" stroke-width="0.6"/>
<line x1="562.4" y1="747.2" x2="563.6" y2="747.2" stroke="#777" stroke-width="0.6"/>
<line x1="562.4" y1="735.1" x2="563.6" y2="735.1" stroke="#777" stroke-width="0.6"/>
<line x1="562.4" y1="723.1" x2="563.6" y2="723.1" stroke="#777" stroke-width="0.6"/>
<line x1="562.4" y1="711" x2="564.4" y2="711" stroke="#777" stroke-width="0.6"/>
<line x1="562.4" y1="758.7" x2="685" y2="758.7" stroke="#1e1e1e" stroke-width="1.4"/>
<text x="557.7" y="714.4" font-size="9.7" text-anchor="middle" fill="#222">2</text>
<text x="557.7" y="762.1" font-size="9.7" text-anchor="middle" fill="#222">1</text>
<text x="557.7" y="811" font-size="9.7" text-anchor="middle" fill="#222">0</text>
<text x="563.5" y="817.5" font-size="10" text-anchor="middle" fill="#222">0</text>
<text x="620.8" y="817.5" font-size="10" text-anchor="middle" fill="#222">0.5</text>
<text x="675.7" y="817.5" font-size="10" text-anchor="middle" fill="#222">1</text>
<text x="620.8" y="827.8" font-size="9.8" text-anchor="middle" fill="#222">Fa</text>
<path d="M567 782.6 L572 783.6 L578 784.3 L585.7 784.7 L596 784.8 L607 784.7 L618.4 784.5 L632 784 L646.5 783.3 L656 782.5 L665.2 781.4 L670 780.2 L673.8 778.6" fill="none" stroke="#6a6af0" stroke-width="0.8"/>
<circle cx="568.4" cy="782.8" r="1.8" fill="none" stroke="#6a6af0" stroke-width="0.9"/>
<circle cx="587.1" cy="786.6" r="1.8" fill="none" stroke="#6a6af0" stroke-width="0.9"/>
<circle cx="607.9" cy="781" r="1.8" fill="none" stroke="#6a6af0" stroke-width="0.9"/>
<circle cx="633.4" cy="782.1" r="1.8" fill="none" stroke="#6a6af0" stroke-width="0.9"/>
<circle cx="653.7" cy="785.4" r="1.8" fill="none" stroke="#6a6af0" stroke-width="0.9"/>
<circle cx="492.8" cy="845.8" r="4.1" fill="none" stroke="#6a6af0" stroke-width="1.3"/>
<circle cx="492.8" cy="845.8" r="0.8" fill="#6a6af0" opacity="0.8"/>
<text x="510.6" y="850.6" font-size="15" fill="#111" stroke="#111" stroke-width="0.22">Combination</text>
</svg>
</body></html>
